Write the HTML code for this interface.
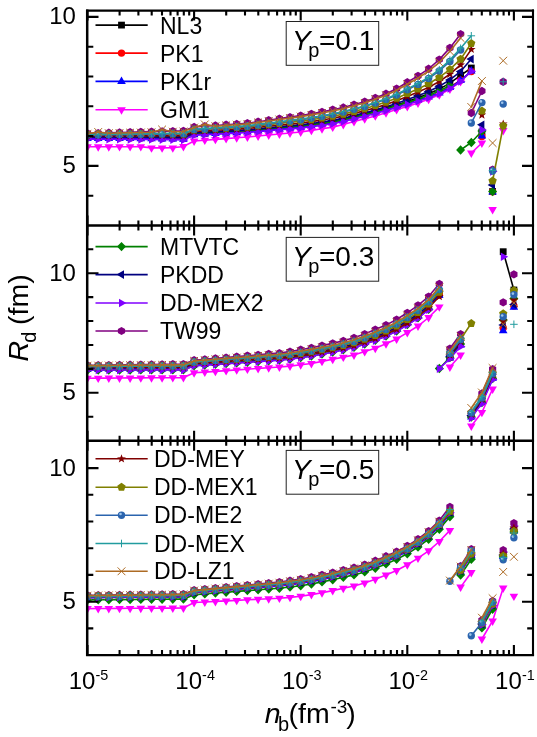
<!DOCTYPE html>
<html lang="en"><head><meta charset="utf-8"><title>R_d vs n_b</title>
<style>html,body{margin:0;padding:0;background:#fff}svg{display:block;will-change:transform}</style></head>
<body>
<svg width="537" height="737" viewBox="0 0 537 737">
<rect width="537" height="737" fill="#fff"/>
<defs>
<clipPath id="c0"><rect x="87.5" y="10.6" width="445.5" height="214.9"/></clipPath>
<clipPath id="c1"><rect x="87.5" y="225.5" width="445.5" height="215.2"/></clipPath>
<clipPath id="c2"><rect x="87.5" y="440.7" width="445.5" height="214.4"/></clipPath>
</defs>
<g clip-path="url(#c0)">
<polyline fill="none" stroke="#000000" stroke-width="1.6" points="87.5,137.3 98.2,137.4 108.8,137.4 119.5,137.4 130.1,137.5 140.8,137.5 151.5,137.6 162.1,137.7 172.8,137.7 183.4,137.8 194.1,133.5 204.8,132.9 215.4,132.4 226.1,131.8 236.7,131.3 247.4,130.7 258.1,129.7 268.7,128.7 279.4,127.8 290.0,126.8 300.7,125.9 311.4,124.5 322.0,123.0 332.7,121.5 343.3,119.2 354.0,116.6 364.7,114.0 375.3,111.2 386.0,108.1 396.6,104.9 407.3,101.4 418.0,97.7 428.6,93.8 439.3,89.1 449.9,83.2 460.6,75.3 471.3,68.0"/>
<rect x="84.1" y="133.9" width="6.8" height="6.8" fill="#000000"/>
<rect x="94.8" y="134.0" width="6.8" height="6.8" fill="#000000"/>
<rect x="105.4" y="134.0" width="6.8" height="6.8" fill="#000000"/>
<rect x="116.1" y="134.0" width="6.8" height="6.8" fill="#000000"/>
<rect x="126.7" y="134.1" width="6.8" height="6.8" fill="#000000"/>
<rect x="137.4" y="134.1" width="6.8" height="6.8" fill="#000000"/>
<rect x="148.1" y="134.2" width="6.8" height="6.8" fill="#000000"/>
<rect x="158.7" y="134.3" width="6.8" height="6.8" fill="#000000"/>
<rect x="169.4" y="134.3" width="6.8" height="6.8" fill="#000000"/>
<rect x="180.0" y="134.4" width="6.8" height="6.8" fill="#000000"/>
<rect x="190.7" y="130.1" width="6.8" height="6.8" fill="#000000"/>
<rect x="201.4" y="129.5" width="6.8" height="6.8" fill="#000000"/>
<rect x="212.0" y="129.0" width="6.8" height="6.8" fill="#000000"/>
<rect x="222.7" y="128.4" width="6.8" height="6.8" fill="#000000"/>
<rect x="233.3" y="127.9" width="6.8" height="6.8" fill="#000000"/>
<rect x="244.0" y="127.3" width="6.8" height="6.8" fill="#000000"/>
<rect x="254.7" y="126.3" width="6.8" height="6.8" fill="#000000"/>
<rect x="265.3" y="125.3" width="6.8" height="6.8" fill="#000000"/>
<rect x="276.0" y="124.4" width="6.8" height="6.8" fill="#000000"/>
<rect x="286.6" y="123.4" width="6.8" height="6.8" fill="#000000"/>
<rect x="297.3" y="122.5" width="6.8" height="6.8" fill="#000000"/>
<rect x="308.0" y="121.1" width="6.8" height="6.8" fill="#000000"/>
<rect x="318.6" y="119.6" width="6.8" height="6.8" fill="#000000"/>
<rect x="329.3" y="118.1" width="6.8" height="6.8" fill="#000000"/>
<rect x="339.9" y="115.8" width="6.8" height="6.8" fill="#000000"/>
<rect x="350.6" y="113.2" width="6.8" height="6.8" fill="#000000"/>
<rect x="361.3" y="110.6" width="6.8" height="6.8" fill="#000000"/>
<rect x="371.9" y="107.8" width="6.8" height="6.8" fill="#000000"/>
<rect x="382.6" y="104.7" width="6.8" height="6.8" fill="#000000"/>
<rect x="393.2" y="101.5" width="6.8" height="6.8" fill="#000000"/>
<rect x="403.9" y="98.0" width="6.8" height="6.8" fill="#000000"/>
<rect x="414.6" y="94.3" width="6.8" height="6.8" fill="#000000"/>
<rect x="425.2" y="90.4" width="6.8" height="6.8" fill="#000000"/>
<rect x="435.9" y="85.7" width="6.8" height="6.8" fill="#000000"/>
<rect x="446.5" y="79.8" width="6.8" height="6.8" fill="#000000"/>
<rect x="457.2" y="71.9" width="6.8" height="6.8" fill="#000000"/>
<rect x="467.9" y="64.6" width="6.8" height="6.8" fill="#000000"/>
<rect x="478.5" y="128.6" width="6.8" height="6.8" fill="#000000"/>
<rect x="489.2" y="188.1" width="6.8" height="6.8" fill="#000000"/>
<polyline fill="none" stroke="#ff0000" stroke-width="1.6" points="87.5,137.6 98.2,137.7 108.8,137.7 119.5,137.8 130.1,137.9 140.8,138.0 151.5,138.1 162.1,138.2 172.8,138.3 183.4,138.4 194.1,134.1 204.8,133.6 215.4,133.0 226.1,132.5 236.7,132.0 247.4,131.5 258.1,130.5 268.7,129.6 279.4,128.7 290.0,127.8 300.7,126.9 311.4,125.6 322.0,124.2 332.7,122.7 343.3,120.5 354.0,118.0 364.7,115.4 375.3,112.7 386.0,109.7 396.6,106.7 407.3,103.5 418.0,100.2 428.6,96.7 439.3,92.4 449.9,87.2 460.6,80.1 471.3,71.5"/>
<circle cx="87.5" cy="137.6" r="3.7" fill="#ff0000"/>
<circle cx="98.2" cy="137.7" r="3.7" fill="#ff0000"/>
<circle cx="108.8" cy="137.7" r="3.7" fill="#ff0000"/>
<circle cx="119.5" cy="137.8" r="3.7" fill="#ff0000"/>
<circle cx="130.1" cy="137.9" r="3.7" fill="#ff0000"/>
<circle cx="140.8" cy="138.0" r="3.7" fill="#ff0000"/>
<circle cx="151.5" cy="138.1" r="3.7" fill="#ff0000"/>
<circle cx="162.1" cy="138.2" r="3.7" fill="#ff0000"/>
<circle cx="172.8" cy="138.3" r="3.7" fill="#ff0000"/>
<circle cx="183.4" cy="138.4" r="3.7" fill="#ff0000"/>
<circle cx="194.1" cy="134.1" r="3.7" fill="#ff0000"/>
<circle cx="204.8" cy="133.6" r="3.7" fill="#ff0000"/>
<circle cx="215.4" cy="133.0" r="3.7" fill="#ff0000"/>
<circle cx="226.1" cy="132.5" r="3.7" fill="#ff0000"/>
<circle cx="236.7" cy="132.0" r="3.7" fill="#ff0000"/>
<circle cx="247.4" cy="131.5" r="3.7" fill="#ff0000"/>
<circle cx="258.1" cy="130.5" r="3.7" fill="#ff0000"/>
<circle cx="268.7" cy="129.6" r="3.7" fill="#ff0000"/>
<circle cx="279.4" cy="128.7" r="3.7" fill="#ff0000"/>
<circle cx="290.0" cy="127.8" r="3.7" fill="#ff0000"/>
<circle cx="300.7" cy="126.9" r="3.7" fill="#ff0000"/>
<circle cx="311.4" cy="125.6" r="3.7" fill="#ff0000"/>
<circle cx="322.0" cy="124.2" r="3.7" fill="#ff0000"/>
<circle cx="332.7" cy="122.7" r="3.7" fill="#ff0000"/>
<circle cx="343.3" cy="120.5" r="3.7" fill="#ff0000"/>
<circle cx="354.0" cy="118.0" r="3.7" fill="#ff0000"/>
<circle cx="364.7" cy="115.4" r="3.7" fill="#ff0000"/>
<circle cx="375.3" cy="112.7" r="3.7" fill="#ff0000"/>
<circle cx="386.0" cy="109.7" r="3.7" fill="#ff0000"/>
<circle cx="396.6" cy="106.7" r="3.7" fill="#ff0000"/>
<circle cx="407.3" cy="103.5" r="3.7" fill="#ff0000"/>
<circle cx="418.0" cy="100.2" r="3.7" fill="#ff0000"/>
<circle cx="428.6" cy="96.7" r="3.7" fill="#ff0000"/>
<circle cx="439.3" cy="92.4" r="3.7" fill="#ff0000"/>
<circle cx="449.9" cy="87.2" r="3.7" fill="#ff0000"/>
<circle cx="460.6" cy="80.1" r="3.7" fill="#ff0000"/>
<circle cx="471.3" cy="71.5" r="3.7" fill="#ff0000"/>
<circle cx="481.9" cy="136.5" r="3.7" fill="#ff0000"/>
<circle cx="492.6" cy="191.8" r="3.7" fill="#ff0000"/>
<polyline fill="none" stroke="#0000ff" stroke-width="1.6" points="87.5,138.4 98.2,138.5 108.8,138.5 119.5,138.6 130.1,138.7 140.8,138.8 151.5,138.9 162.1,139.0 172.8,139.1 183.4,139.2 194.1,134.7 204.8,134.2 215.4,133.6 226.1,133.1 236.7,132.5 247.4,132.0 258.1,131.0 268.7,130.1 279.4,129.2 290.0,128.3 300.7,127.5 311.4,126.1 322.0,124.7 332.7,123.2 343.3,121.0 354.0,118.4 364.7,115.8 375.3,113.1 386.0,110.1 396.6,107.1 407.3,103.9 418.0,100.6 428.6,97.1 439.3,92.9 449.9,87.7 460.6,80.6 471.3,71.0"/>
<polygon points="87.5,133.5 91.8,140.9 83.2,140.9" fill="#0000ff"/>
<polygon points="98.2,133.5 102.5,140.9 93.9,140.9" fill="#0000ff"/>
<polygon points="108.8,133.6 113.1,141.0 104.5,141.0" fill="#0000ff"/>
<polygon points="119.5,133.7 123.8,141.1 115.2,141.1" fill="#0000ff"/>
<polygon points="130.1,133.7 134.4,141.1 125.8,141.1" fill="#0000ff"/>
<polygon points="140.8,133.8 145.1,141.2 136.5,141.2" fill="#0000ff"/>
<polygon points="151.5,133.9 155.8,141.3 147.2,141.3" fill="#0000ff"/>
<polygon points="162.1,134.0 166.4,141.4 157.8,141.4" fill="#0000ff"/>
<polygon points="172.8,134.1 177.1,141.5 168.5,141.5" fill="#0000ff"/>
<polygon points="183.4,134.3 187.7,141.7 179.1,141.7" fill="#0000ff"/>
<polygon points="194.1,129.8 198.4,137.2 189.8,137.2" fill="#0000ff"/>
<polygon points="204.8,129.2 209.1,136.6 200.5,136.6" fill="#0000ff"/>
<polygon points="215.4,128.7 219.7,136.1 211.1,136.1" fill="#0000ff"/>
<polygon points="226.1,128.2 230.4,135.6 221.8,135.6" fill="#0000ff"/>
<polygon points="236.7,127.6 241.0,135.0 232.4,135.0" fill="#0000ff"/>
<polygon points="247.4,127.1 251.7,134.5 243.1,134.5" fill="#0000ff"/>
<polygon points="258.1,126.1 262.4,133.5 253.8,133.5" fill="#0000ff"/>
<polygon points="268.7,125.2 273.0,132.6 264.4,132.6" fill="#0000ff"/>
<polygon points="279.4,124.3 283.7,131.7 275.1,131.7" fill="#0000ff"/>
<polygon points="290.0,123.4 294.3,130.8 285.7,130.8" fill="#0000ff"/>
<polygon points="300.7,122.5 305.0,129.9 296.4,129.9" fill="#0000ff"/>
<polygon points="311.4,121.2 315.7,128.6 307.1,128.6" fill="#0000ff"/>
<polygon points="322.0,119.7 326.3,127.1 317.7,127.1" fill="#0000ff"/>
<polygon points="332.7,118.3 337.0,125.7 328.4,125.7" fill="#0000ff"/>
<polygon points="343.3,116.0 347.6,123.4 339.0,123.4" fill="#0000ff"/>
<polygon points="354.0,113.4 358.3,120.8 349.7,120.8" fill="#0000ff"/>
<polygon points="364.7,110.9 369.0,118.3 360.4,118.3" fill="#0000ff"/>
<polygon points="375.3,108.1 379.6,115.5 371.0,115.5" fill="#0000ff"/>
<polygon points="386.0,105.2 390.3,112.6 381.7,112.6" fill="#0000ff"/>
<polygon points="396.6,102.1 400.9,109.5 392.3,109.5" fill="#0000ff"/>
<polygon points="407.3,99.0 411.6,106.4 403.0,106.4" fill="#0000ff"/>
<polygon points="418.0,95.7 422.3,103.1 413.7,103.1" fill="#0000ff"/>
<polygon points="428.6,92.2 432.9,99.6 424.3,99.6" fill="#0000ff"/>
<polygon points="439.3,88.0 443.6,95.4 435.0,95.4" fill="#0000ff"/>
<polygon points="449.9,82.7 454.2,90.1 445.6,90.1" fill="#0000ff"/>
<polygon points="460.6,75.6 464.9,83.0 456.3,83.0" fill="#0000ff"/>
<polygon points="471.3,66.1 475.6,73.5 467.0,73.5" fill="#0000ff"/>
<polygon points="481.9,131.1 486.2,138.5 477.6,138.5" fill="#0000ff"/>
<polygon points="492.6,187.1 496.9,194.5 488.3,194.5" fill="#0000ff"/>
<polyline fill="none" stroke="#ff00ff" stroke-width="1.6" points="87.5,146.8 98.2,146.8 108.8,146.7 119.5,146.7 130.1,146.7 140.8,146.6 151.5,147.9 162.1,147.9 172.8,147.8 183.4,146.5 194.1,141.0 204.8,140.2 215.4,139.4 226.1,138.6 236.7,137.8 247.4,137.0 258.1,136.0 268.7,135.0 279.4,134.0 290.0,133.0 300.7,132.0 311.4,130.4 322.0,128.8 332.7,127.1 343.3,124.5 354.0,121.6 364.7,118.8 375.3,115.9 386.0,112.8 396.6,109.6 407.3,106.5 418.0,103.0 428.6,99.3 439.3,94.8 449.9,89.2 460.6,81.5"/>
<polygon points="87.5,151.7 91.8,144.3 83.2,144.3" fill="#ff00ff"/>
<polygon points="98.2,151.7 102.5,144.3 93.9,144.3" fill="#ff00ff"/>
<polygon points="108.8,151.7 113.1,144.3 104.5,144.3" fill="#ff00ff"/>
<polygon points="119.5,151.6 123.8,144.2 115.2,144.2" fill="#ff00ff"/>
<polygon points="130.1,151.6 134.4,144.2 125.8,144.2" fill="#ff00ff"/>
<polygon points="140.8,151.6 145.1,144.2 136.5,144.2" fill="#ff00ff"/>
<polygon points="151.5,152.8 155.8,145.4 147.2,145.4" fill="#ff00ff"/>
<polygon points="162.1,152.8 166.4,145.4 157.8,145.4" fill="#ff00ff"/>
<polygon points="172.8,152.8 177.1,145.4 168.5,145.4" fill="#ff00ff"/>
<polygon points="183.4,151.4 187.7,144.0 179.1,144.0" fill="#ff00ff"/>
<polygon points="194.1,145.9 198.4,138.5 189.8,138.5" fill="#ff00ff"/>
<polygon points="204.8,145.1 209.1,137.7 200.5,137.7" fill="#ff00ff"/>
<polygon points="215.4,144.3 219.7,136.9 211.1,136.9" fill="#ff00ff"/>
<polygon points="226.1,143.5 230.4,136.1 221.8,136.1" fill="#ff00ff"/>
<polygon points="236.7,142.7 241.0,135.3 232.4,135.3" fill="#ff00ff"/>
<polygon points="247.4,141.9 251.7,134.5 243.1,134.5" fill="#ff00ff"/>
<polygon points="258.1,140.9 262.4,133.5 253.8,133.5" fill="#ff00ff"/>
<polygon points="268.7,139.9 273.0,132.5 264.4,132.5" fill="#ff00ff"/>
<polygon points="279.4,138.9 283.7,131.5 275.1,131.5" fill="#ff00ff"/>
<polygon points="290.0,137.9 294.3,130.5 285.7,130.5" fill="#ff00ff"/>
<polygon points="300.7,136.9 305.0,129.5 296.4,129.5" fill="#ff00ff"/>
<polygon points="311.4,135.3 315.7,127.9 307.1,127.9" fill="#ff00ff"/>
<polygon points="322.0,133.7 326.3,126.3 317.7,126.3" fill="#ff00ff"/>
<polygon points="332.7,132.1 337.0,124.7 328.4,124.7" fill="#ff00ff"/>
<polygon points="343.3,129.4 347.6,122.0 339.0,122.0" fill="#ff00ff"/>
<polygon points="354.0,126.6 358.3,119.2 349.7,119.2" fill="#ff00ff"/>
<polygon points="364.7,123.7 369.0,116.3 360.4,116.3" fill="#ff00ff"/>
<polygon points="375.3,120.8 379.6,113.4 371.0,113.4" fill="#ff00ff"/>
<polygon points="386.0,117.7 390.3,110.3 381.7,110.3" fill="#ff00ff"/>
<polygon points="396.6,114.6 400.9,107.2 392.3,107.2" fill="#ff00ff"/>
<polygon points="407.3,111.4 411.6,104.0 403.0,104.0" fill="#ff00ff"/>
<polygon points="418.0,107.9 422.3,100.5 413.7,100.5" fill="#ff00ff"/>
<polygon points="428.6,104.2 432.9,96.8 424.3,96.8" fill="#ff00ff"/>
<polygon points="439.3,99.7 443.6,92.3 435.0,92.3" fill="#ff00ff"/>
<polygon points="449.9,94.1 454.2,86.7 445.6,86.7" fill="#ff00ff"/>
<polygon points="460.6,86.4 464.9,79.0 456.3,79.0" fill="#ff00ff"/>
<polyline fill="none" stroke="#ff00ff" stroke-width="1.6" points="471.3,153.0 481.9,143.0"/>
<polygon points="471.3,157.9 475.6,150.5 467.0,150.5" fill="#ff00ff"/>
<polygon points="481.9,147.9 486.2,140.5 477.6,140.5" fill="#ff00ff"/>
<polygon points="492.6,214.4 496.9,207.0 488.3,207.0" fill="#ff00ff"/>
<polygon points="503.2,135.4 507.5,128.0 498.9,128.0" fill="#ff00ff"/>
<polyline fill="none" stroke="#008000" stroke-width="1.6" points="87.5,136.3 98.2,136.3 108.8,136.4 119.5,136.5 130.1,136.5 140.8,136.6 151.5,136.7 162.1,136.9 172.8,137.0 183.4,137.1 194.1,132.9 204.8,132.4 215.4,131.9 226.1,131.4 236.7,130.9 247.4,130.4 258.1,129.5 268.7,128.5 279.4,127.6 290.0,126.7 300.7,125.9 311.4,124.5 322.0,123.1 332.7,121.7 343.3,119.5 354.0,117.0 364.7,114.5 375.3,111.7 386.0,108.7 396.6,105.6 407.3,102.4 418.0,98.9 428.6,95.3 439.3,90.9 449.9,85.5"/>
<polygon points="87.5,131.5 92.0,136.3 87.5,141.0 83.0,136.3" fill="#008000"/>
<polygon points="98.2,131.6 102.7,136.3 98.2,141.0 93.7,136.3" fill="#008000"/>
<polygon points="108.8,131.7 113.3,136.4 108.8,141.1 104.3,136.4" fill="#008000"/>
<polygon points="119.5,131.7 124.0,136.5 119.5,141.2 115.0,136.5" fill="#008000"/>
<polygon points="130.1,131.8 134.6,136.5 130.1,141.3 125.6,136.5" fill="#008000"/>
<polygon points="140.8,131.9 145.3,136.6 140.8,141.4 136.3,136.6" fill="#008000"/>
<polygon points="151.5,132.0 156.0,136.7 151.5,141.5 147.0,136.7" fill="#008000"/>
<polygon points="162.1,132.1 166.6,136.9 162.1,141.6 157.6,136.9" fill="#008000"/>
<polygon points="172.8,132.3 177.3,137.0 172.8,141.7 168.3,137.0" fill="#008000"/>
<polygon points="183.4,132.4 187.9,137.1 183.4,141.8 178.9,137.1" fill="#008000"/>
<polygon points="194.1,128.2 198.6,132.9 194.1,137.6 189.6,132.9" fill="#008000"/>
<polygon points="204.8,127.7 209.3,132.4 204.8,137.2 200.3,132.4" fill="#008000"/>
<polygon points="215.4,127.2 219.9,131.9 215.4,136.7 210.9,131.9" fill="#008000"/>
<polygon points="226.1,126.7 230.6,131.4 226.1,136.2 221.6,131.4" fill="#008000"/>
<polygon points="236.7,126.2 241.2,130.9 236.7,135.7 232.2,130.9" fill="#008000"/>
<polygon points="247.4,125.7 251.9,130.4 247.4,135.2 242.9,130.4" fill="#008000"/>
<polygon points="258.1,124.8 262.6,129.5 258.1,134.2 253.6,129.5" fill="#008000"/>
<polygon points="268.7,123.8 273.2,128.5 268.7,133.3 264.2,128.5" fill="#008000"/>
<polygon points="279.4,122.9 283.9,127.6 279.4,132.4 274.9,127.6" fill="#008000"/>
<polygon points="290.0,122.0 294.5,126.7 290.0,131.5 285.5,126.7" fill="#008000"/>
<polygon points="300.7,121.1 305.2,125.9 300.7,130.6 296.2,125.9" fill="#008000"/>
<polygon points="311.4,119.8 315.9,124.5 311.4,129.3 306.9,124.5" fill="#008000"/>
<polygon points="322.0,118.4 326.5,123.1 322.0,127.9 317.5,123.1" fill="#008000"/>
<polygon points="332.7,116.9 337.2,121.7 332.7,126.4 328.2,121.7" fill="#008000"/>
<polygon points="343.3,114.8 347.8,119.5 343.3,124.2 338.8,119.5" fill="#008000"/>
<polygon points="354.0,112.3 358.5,117.0 354.0,121.7 349.5,117.0" fill="#008000"/>
<polygon points="364.7,109.7 369.2,114.5 364.7,119.2 360.2,114.5" fill="#008000"/>
<polygon points="375.3,107.0 379.8,111.7 375.3,116.4 370.8,111.7" fill="#008000"/>
<polygon points="386.0,104.0 390.5,108.7 386.0,113.5 381.5,108.7" fill="#008000"/>
<polygon points="396.6,100.9 401.1,105.6 396.6,110.3 392.1,105.6" fill="#008000"/>
<polygon points="407.3,97.6 411.8,102.4 407.3,107.1 402.8,102.4" fill="#008000"/>
<polygon points="418.0,94.2 422.5,98.9 418.0,103.6 413.5,98.9" fill="#008000"/>
<polygon points="428.6,90.6 433.1,95.3 428.6,100.0 424.1,95.3" fill="#008000"/>
<polygon points="439.3,86.2 443.8,90.9 439.3,95.6 434.8,90.9" fill="#008000"/>
<polygon points="449.9,80.7 454.4,85.5 449.9,90.2 445.4,85.5" fill="#008000"/>
<polyline fill="none" stroke="#008000" stroke-width="1.6" points="460.6,150.0 471.3,142.5 481.9,131.0"/>
<polygon points="460.6,145.3 465.1,150.0 460.6,154.7 456.1,150.0" fill="#008000"/>
<polygon points="471.3,137.8 475.8,142.5 471.3,147.2 466.8,142.5" fill="#008000"/>
<polygon points="481.9,126.3 486.4,131.0 481.9,135.7 477.4,131.0" fill="#008000"/>
<polygon points="492.6,186.8 497.1,191.5 492.6,196.2 488.1,191.5" fill="#008000"/>
<polyline fill="none" stroke="#000080" stroke-width="1.6" points="87.5,136.9 98.2,136.9 108.8,136.9 119.5,136.9 130.1,137.0 140.8,137.0 151.5,137.0 162.1,137.0 172.8,137.1 183.4,137.1 194.1,132.9 204.8,132.3 215.4,131.7 226.1,131.1 236.7,130.6 247.4,130.0 258.1,129.0 268.7,127.9 279.4,126.9 290.0,125.9 300.7,124.9 311.4,123.5 322.0,122.0 332.7,120.4 343.3,118.2 354.0,115.5 364.7,112.9 375.3,110.0 386.0,106.8 396.6,103.4 407.3,99.6 418.0,95.7 428.6,91.5 439.3,86.3 449.9,79.9 460.6,71.5 471.3,59.1"/>
<polygon points="82.6,136.9 90.0,132.6 90.0,141.2" fill="#000080"/>
<polygon points="93.2,136.9 100.6,132.6 100.6,141.2" fill="#000080"/>
<polygon points="103.9,136.9 111.3,132.6 111.3,141.2" fill="#000080"/>
<polygon points="114.5,136.9 121.9,132.6 121.9,141.2" fill="#000080"/>
<polygon points="125.2,137.0 132.6,132.7 132.6,141.3" fill="#000080"/>
<polygon points="135.9,137.0 143.3,132.7 143.3,141.3" fill="#000080"/>
<polygon points="146.5,137.0 153.9,132.7 153.9,141.3" fill="#000080"/>
<polygon points="157.2,137.0 164.6,132.7 164.6,141.3" fill="#000080"/>
<polygon points="167.8,137.1 175.2,132.8 175.2,141.4" fill="#000080"/>
<polygon points="178.5,137.1 185.9,132.8 185.9,141.4" fill="#000080"/>
<polygon points="189.2,132.9 196.6,128.6 196.6,137.2" fill="#000080"/>
<polygon points="199.8,132.3 207.2,128.0 207.2,136.6" fill="#000080"/>
<polygon points="210.5,131.7 217.9,127.4 217.9,136.0" fill="#000080"/>
<polygon points="221.1,131.1 228.5,126.8 228.5,135.4" fill="#000080"/>
<polygon points="231.8,130.6 239.2,126.3 239.2,134.9" fill="#000080"/>
<polygon points="242.5,130.0 249.9,125.7 249.9,134.3" fill="#000080"/>
<polygon points="253.1,129.0 260.5,124.7 260.5,133.3" fill="#000080"/>
<polygon points="263.8,127.9 271.2,123.6 271.2,132.2" fill="#000080"/>
<polygon points="274.4,126.9 281.8,122.6 281.8,131.2" fill="#000080"/>
<polygon points="285.1,125.9 292.5,121.6 292.5,130.2" fill="#000080"/>
<polygon points="295.8,124.9 303.2,120.6 303.2,129.2" fill="#000080"/>
<polygon points="306.4,123.5 313.8,119.2 313.8,127.8" fill="#000080"/>
<polygon points="317.1,122.0 324.5,117.7 324.5,126.3" fill="#000080"/>
<polygon points="327.7,120.4 335.1,116.1 335.1,124.7" fill="#000080"/>
<polygon points="338.4,118.2 345.8,113.9 345.8,122.5" fill="#000080"/>
<polygon points="349.1,115.5 356.5,111.2 356.5,119.8" fill="#000080"/>
<polygon points="359.7,112.9 367.1,108.6 367.1,117.2" fill="#000080"/>
<polygon points="370.4,110.0 377.8,105.7 377.8,114.3" fill="#000080"/>
<polygon points="381.0,106.8 388.4,102.5 388.4,111.1" fill="#000080"/>
<polygon points="391.7,103.4 399.1,99.1 399.1,107.7" fill="#000080"/>
<polygon points="402.4,99.6 409.8,95.3 409.8,103.9" fill="#000080"/>
<polygon points="413.0,95.7 420.4,91.4 420.4,100.0" fill="#000080"/>
<polygon points="423.7,91.5 431.1,87.2 431.1,95.8" fill="#000080"/>
<polygon points="434.3,86.3 441.7,82.0 441.7,90.6" fill="#000080"/>
<polygon points="445.0,79.9 452.4,75.6 452.4,84.2" fill="#000080"/>
<polygon points="455.7,71.5 463.1,67.2 463.1,75.8" fill="#000080"/>
<polygon points="466.3,59.1 473.7,54.8 473.7,63.4" fill="#000080"/>
<polygon points="477.0,124.8 484.4,120.5 484.4,129.1" fill="#000080"/>
<polygon points="487.6,185.0 495.0,180.7 495.0,189.3" fill="#000080"/>
<polyline fill="none" stroke="#8000ff" stroke-width="1.6" points="87.5,139.1 98.2,139.2 108.8,139.2 119.5,139.3 130.1,139.4 140.8,139.4 151.5,139.5 162.1,139.6 172.8,139.7 183.4,139.9 194.1,135.3 204.8,134.7 215.4,134.2 226.1,133.6 236.7,133.1 247.4,132.5 258.1,131.6 268.7,130.6 279.4,129.7 290.0,128.9 300.7,128.0 311.4,126.6 322.0,125.2 332.7,123.7 343.3,121.5 354.0,118.9 364.7,116.3 375.3,113.6 386.0,110.6 396.6,107.6 407.3,104.5 418.0,101.2 428.6,97.8 439.3,93.7 449.9,88.5 460.6,81.5 471.3,71.2"/>
<polygon points="92.4,139.1 85.0,134.8 85.0,143.4" fill="#8000ff"/>
<polygon points="103.1,139.2 95.7,134.9 95.7,143.5" fill="#8000ff"/>
<polygon points="113.8,139.2 106.4,134.9 106.4,143.5" fill="#8000ff"/>
<polygon points="124.4,139.3 117.0,135.0 117.0,143.6" fill="#8000ff"/>
<polygon points="135.1,139.4 127.7,135.1 127.7,143.7" fill="#8000ff"/>
<polygon points="145.7,139.4 138.3,135.1 138.3,143.7" fill="#8000ff"/>
<polygon points="156.4,139.5 149.0,135.2 149.0,143.8" fill="#8000ff"/>
<polygon points="167.1,139.6 159.7,135.3 159.7,143.9" fill="#8000ff"/>
<polygon points="177.7,139.7 170.3,135.4 170.3,144.0" fill="#8000ff"/>
<polygon points="188.4,139.9 181.0,135.6 181.0,144.2" fill="#8000ff"/>
<polygon points="199.0,135.3 191.6,131.0 191.6,139.6" fill="#8000ff"/>
<polygon points="209.7,134.7 202.3,130.4 202.3,139.0" fill="#8000ff"/>
<polygon points="220.4,134.2 213.0,129.9 213.0,138.5" fill="#8000ff"/>
<polygon points="231.0,133.6 223.6,129.3 223.6,137.9" fill="#8000ff"/>
<polygon points="241.7,133.1 234.3,128.8 234.3,137.4" fill="#8000ff"/>
<polygon points="252.3,132.5 244.9,128.2 244.9,136.8" fill="#8000ff"/>
<polygon points="263.0,131.6 255.6,127.3 255.6,135.9" fill="#8000ff"/>
<polygon points="273.7,130.6 266.3,126.3 266.3,134.9" fill="#8000ff"/>
<polygon points="284.3,129.7 276.9,125.4 276.9,134.0" fill="#8000ff"/>
<polygon points="295.0,128.9 287.6,124.6 287.6,133.2" fill="#8000ff"/>
<polygon points="305.6,128.0 298.2,123.7 298.2,132.3" fill="#8000ff"/>
<polygon points="316.3,126.6 308.9,122.3 308.9,130.9" fill="#8000ff"/>
<polygon points="327.0,125.2 319.6,120.9 319.6,129.5" fill="#8000ff"/>
<polygon points="337.6,123.7 330.2,119.4 330.2,128.0" fill="#8000ff"/>
<polygon points="348.3,121.5 340.9,117.2 340.9,125.8" fill="#8000ff"/>
<polygon points="358.9,118.9 351.5,114.6 351.5,123.2" fill="#8000ff"/>
<polygon points="369.6,116.3 362.2,112.0 362.2,120.6" fill="#8000ff"/>
<polygon points="380.3,113.6 372.9,109.3 372.9,117.9" fill="#8000ff"/>
<polygon points="390.9,110.6 383.5,106.3 383.5,114.9" fill="#8000ff"/>
<polygon points="401.6,107.6 394.2,103.3 394.2,111.9" fill="#8000ff"/>
<polygon points="412.2,104.5 404.8,100.2 404.8,108.8" fill="#8000ff"/>
<polygon points="422.9,101.2 415.5,96.9 415.5,105.5" fill="#8000ff"/>
<polygon points="433.6,97.8 426.2,93.5 426.2,102.1" fill="#8000ff"/>
<polygon points="444.2,93.7 436.8,89.4 436.8,98.0" fill="#8000ff"/>
<polygon points="454.9,88.5 447.5,84.2 447.5,92.8" fill="#8000ff"/>
<polygon points="465.5,81.5 458.1,77.2 458.1,85.8" fill="#8000ff"/>
<polygon points="476.2,71.2 468.8,66.9 468.8,75.5" fill="#8000ff"/>
<polygon points="486.9,130.0 479.5,125.7 479.5,134.3" fill="#8000ff"/>
<polygon points="497.5,171.5 490.1,167.2 490.1,175.8" fill="#8000ff"/>
<polyline fill="none" stroke="#800080" stroke-width="1.6" points="87.5,133.3 98.2,133.0 108.8,132.7 119.5,132.5 130.1,132.2 140.8,131.9 151.5,131.6 162.1,131.4 172.8,131.1 183.4,130.8 194.1,127.0 204.8,126.2 215.4,125.5 226.1,124.7 236.7,124.0 247.4,123.2 258.1,121.7 268.7,120.2 279.4,118.6 290.0,117.1 300.7,115.6 311.4,113.9 322.0,111.9 332.7,109.7 343.3,107.5 354.0,104.6 364.7,101.7 375.3,97.9 386.0,93.8 396.6,88.7 407.3,82.3 418.0,75.9 428.6,68.8 439.3,59.5 449.9,47.9 460.6,34.0"/>
<polygon points="87.5,137.5 83.9,135.4 83.9,131.2 87.5,129.2 91.1,131.2 91.1,135.4" fill="#800080"/>
<polygon points="98.2,137.2 94.6,135.1 94.6,130.9 98.2,128.9 101.8,130.9 101.8,135.1" fill="#800080"/>
<polygon points="108.8,136.9 105.2,134.8 105.2,130.7 108.8,128.6 112.4,130.7 112.4,134.8" fill="#800080"/>
<polygon points="119.5,136.6 115.9,134.5 115.9,130.4 119.5,128.3 123.1,130.4 123.1,134.5" fill="#800080"/>
<polygon points="130.1,136.3 126.5,134.3 126.5,130.1 130.1,128.0 133.7,130.1 133.7,134.3" fill="#800080"/>
<polygon points="140.8,136.1 137.2,134.0 137.2,129.8 140.8,127.8 144.4,129.8 144.4,134.0" fill="#800080"/>
<polygon points="151.5,135.8 147.9,133.7 147.9,129.6 151.5,127.5 155.1,129.6 155.1,133.7" fill="#800080"/>
<polygon points="162.1,135.5 158.5,133.4 158.5,129.3 162.1,127.2 165.7,129.3 165.7,133.4" fill="#800080"/>
<polygon points="172.8,135.2 169.2,133.2 169.2,129.0 172.8,126.9 176.4,129.0 176.4,133.2" fill="#800080"/>
<polygon points="183.4,135.0 179.8,132.9 179.8,128.7 183.4,126.7 187.0,128.7 187.0,132.9" fill="#800080"/>
<polygon points="194.1,131.2 190.5,129.1 190.5,124.9 194.1,122.8 197.7,124.9 197.7,129.1" fill="#800080"/>
<polygon points="204.8,130.4 201.2,128.3 201.2,124.2 204.8,122.1 208.4,124.2 208.4,128.3" fill="#800080"/>
<polygon points="215.4,129.6 211.8,127.6 211.8,123.4 215.4,121.3 219.0,123.4 219.0,127.6" fill="#800080"/>
<polygon points="226.1,128.9 222.5,126.8 222.5,122.6 226.1,120.6 229.7,122.6 229.7,126.8" fill="#800080"/>
<polygon points="236.7,128.1 233.1,126.0 233.1,121.9 236.7,119.8 240.3,121.9 240.3,126.0" fill="#800080"/>
<polygon points="247.4,127.4 243.8,125.3 243.8,121.1 247.4,119.0 251.0,121.1 251.0,125.3" fill="#800080"/>
<polygon points="258.1,125.8 254.5,123.8 254.5,119.6 258.1,117.5 261.7,119.6 261.7,123.8" fill="#800080"/>
<polygon points="268.7,124.3 265.1,122.2 265.1,118.1 268.7,116.0 272.3,118.1 272.3,122.2" fill="#800080"/>
<polygon points="279.4,122.8 275.8,120.7 275.8,116.6 279.4,114.5 283.0,116.6 283.0,120.7" fill="#800080"/>
<polygon points="290.0,121.3 286.4,119.2 286.4,115.0 290.0,113.0 293.6,115.0 293.6,119.2" fill="#800080"/>
<polygon points="300.7,119.8 297.1,117.7 297.1,113.5 300.7,111.4 304.3,113.5 304.3,117.7" fill="#800080"/>
<polygon points="311.4,118.1 307.8,116.0 307.8,111.8 311.4,109.8 315.0,111.8 315.0,116.0" fill="#800080"/>
<polygon points="322.0,116.1 318.4,114.0 318.4,109.8 322.0,107.8 325.6,109.8 325.6,114.0" fill="#800080"/>
<polygon points="332.7,113.9 329.1,111.8 329.1,107.6 332.7,105.5 336.3,107.6 336.3,111.8" fill="#800080"/>
<polygon points="343.3,111.7 339.7,109.6 339.7,105.4 343.3,103.3 346.9,105.4 346.9,109.6" fill="#800080"/>
<polygon points="354.0,108.8 350.4,106.7 350.4,102.5 354.0,100.4 357.6,102.5 357.6,106.7" fill="#800080"/>
<polygon points="364.7,105.9 361.1,103.8 361.1,99.6 364.7,97.5 368.3,99.6 368.3,103.8" fill="#800080"/>
<polygon points="375.3,102.1 371.7,100.0 371.7,95.8 375.3,93.8 378.9,95.8 378.9,100.0" fill="#800080"/>
<polygon points="386.0,98.0 382.4,95.9 382.4,91.7 386.0,89.6 389.6,91.7 389.6,95.9" fill="#800080"/>
<polygon points="396.6,92.9 393.0,90.8 393.0,86.6 396.6,84.5 400.2,86.6 400.2,90.8" fill="#800080"/>
<polygon points="407.3,86.5 403.7,84.4 403.7,80.2 407.3,78.1 410.9,80.2 410.9,84.4" fill="#800080"/>
<polygon points="418.0,80.1 414.4,78.0 414.4,73.8 418.0,71.8 421.6,73.8 421.6,78.0" fill="#800080"/>
<polygon points="428.6,73.0 425.0,70.9 425.0,66.7 428.6,64.6 432.2,66.7 432.2,70.9" fill="#800080"/>
<polygon points="439.3,63.6 435.7,61.6 435.7,57.4 439.3,55.4 442.9,57.4 442.9,61.6" fill="#800080"/>
<polygon points="449.9,52.0 446.3,50.0 446.3,45.8 449.9,43.8 453.5,45.8 453.5,50.0" fill="#800080"/>
<polygon points="460.6,38.1 457.0,36.1 457.0,31.9 460.6,29.9 464.2,31.9 464.2,36.1" fill="#800080"/>
<polyline fill="none" stroke="#800080" stroke-width="1.6" points="471.3,113.0 481.9,91.0"/>
<polygon points="471.3,117.2 467.7,115.1 467.7,110.9 471.3,108.8 474.9,110.9 474.9,115.1" fill="#800080"/>
<polygon points="481.9,95.2 478.3,93.1 478.3,88.9 481.9,86.8 485.5,88.9 485.5,93.1" fill="#800080"/>
<polygon points="492.6,173.8 489.0,171.7 489.0,167.5 492.6,165.4 496.2,167.5 496.2,171.7" fill="#800080"/>
<polygon points="503.2,86.0 499.6,83.9 499.6,79.7 503.2,77.6 506.8,79.7 506.8,83.9" fill="#800080"/>
<polyline fill="none" stroke="#800000" stroke-width="1.6" points="87.5,135.9 98.2,135.8 108.8,135.8 119.5,135.7 130.1,135.7 140.8,135.7 151.5,135.7 162.1,135.6 172.8,135.6 183.4,135.6 194.1,131.5 204.8,130.9 215.4,130.3 226.1,129.7 236.7,129.1 247.4,128.5 258.1,127.4 268.7,126.3 279.4,125.2 290.0,124.1 300.7,123.0 311.4,121.6 322.0,120.0 332.7,118.3 343.3,116.1 354.0,113.4 364.7,110.8 375.3,107.7 386.0,104.4 396.6,100.7 407.3,96.4 418.0,92.1 428.6,87.4 439.3,81.5 449.9,74.2 460.6,64.9 471.3,49.4"/>
<polygon points="87.5,131.3 88.6,134.3 91.9,134.4 89.3,136.5 90.2,139.6 87.5,137.8 84.8,139.6 85.7,136.5 83.1,134.4 86.4,134.3" fill="#800000"/>
<polygon points="98.2,131.2 99.3,134.3 102.5,134.4 100.0,136.4 100.9,139.5 98.2,137.7 95.5,139.5 96.4,136.4 93.8,134.4 97.0,134.3" fill="#800000"/>
<polygon points="108.8,131.2 109.9,134.2 113.2,134.3 110.6,136.4 111.5,139.5 108.8,137.7 106.1,139.5 107.0,136.4 104.4,134.3 107.7,134.2" fill="#800000"/>
<polygon points="119.5,131.1 120.6,134.2 123.9,134.3 121.3,136.3 122.2,139.5 119.5,137.6 116.8,139.5 117.7,136.3 115.1,134.3 118.4,134.2" fill="#800000"/>
<polygon points="130.1,131.1 131.3,134.2 134.5,134.3 131.9,136.3 132.8,139.4 130.1,137.6 127.4,139.4 128.3,136.3 125.8,134.3 129.0,134.2" fill="#800000"/>
<polygon points="140.8,131.1 141.9,134.1 145.2,134.3 142.6,136.3 143.5,139.4 140.8,137.6 138.1,139.4 139.0,136.3 136.4,134.3 139.7,134.1" fill="#800000"/>
<polygon points="151.5,131.1 152.6,134.1 155.8,134.2 153.3,136.2 154.2,139.4 151.5,137.6 148.8,139.4 149.7,136.2 147.1,134.2 150.3,134.1" fill="#800000"/>
<polygon points="162.1,131.0 163.2,134.1 166.5,134.2 163.9,136.2 164.8,139.4 162.1,137.5 159.4,139.4 160.3,136.2 157.7,134.2 161.0,134.1" fill="#800000"/>
<polygon points="172.8,131.0 173.9,134.1 177.2,134.2 174.6,136.2 175.5,139.4 172.8,137.5 170.1,139.4 171.0,136.2 168.4,134.2 171.7,134.1" fill="#800000"/>
<polygon points="183.4,131.0 184.6,134.1 187.8,134.2 185.2,136.2 186.1,139.4 183.4,137.5 180.7,139.4 181.6,136.2 179.1,134.2 182.3,134.1" fill="#800000"/>
<polygon points="194.1,126.9 195.2,130.0 198.5,130.1 195.9,132.1 196.8,135.2 194.1,133.4 191.4,135.2 192.3,132.1 189.7,130.1 193.0,130.0" fill="#800000"/>
<polygon points="204.8,126.3 205.9,129.4 209.1,129.5 206.6,131.5 207.5,134.6 204.8,132.8 202.1,134.6 203.0,131.5 200.4,129.5 203.6,129.4" fill="#800000"/>
<polygon points="215.4,125.7 216.5,128.8 219.8,128.9 217.2,130.9 218.1,134.0 215.4,132.2 212.7,134.0 213.6,130.9 211.0,128.9 214.3,128.8" fill="#800000"/>
<polygon points="226.1,125.1 227.2,128.2 230.5,128.3 227.9,130.3 228.8,133.5 226.1,131.6 223.4,133.5 224.3,130.3 221.7,128.3 225.0,128.2" fill="#800000"/>
<polygon points="236.7,124.5 237.9,127.6 241.1,127.7 238.5,129.7 239.4,132.9 236.7,131.0 234.0,132.9 234.9,129.7 232.4,127.7 235.6,127.6" fill="#800000"/>
<polygon points="247.4,123.9 248.5,127.0 251.8,127.1 249.2,129.1 250.1,132.3 247.4,130.4 244.7,132.3 245.6,129.1 243.0,127.1 246.3,127.0" fill="#800000"/>
<polygon points="258.1,122.8 259.2,125.9 262.4,126.0 259.9,128.0 260.8,131.1 258.1,129.3 255.4,131.1 256.3,128.0 253.7,126.0 256.9,125.9" fill="#800000"/>
<polygon points="268.7,121.7 269.8,124.8 273.1,124.9 270.5,126.9 271.4,130.0 268.7,128.2 266.0,130.0 266.9,126.9 264.3,124.9 267.6,124.8" fill="#800000"/>
<polygon points="279.4,120.6 280.5,123.7 283.8,123.8 281.2,125.8 282.1,128.9 279.4,127.1 276.7,128.9 277.6,125.8 275.0,123.8 278.3,123.7" fill="#800000"/>
<polygon points="290.0,119.5 291.2,122.6 294.4,122.7 291.8,124.7 292.7,127.8 290.0,126.0 287.3,127.8 288.2,124.7 285.7,122.7 288.9,122.6" fill="#800000"/>
<polygon points="300.7,118.4 301.8,121.5 305.1,121.6 302.5,123.6 303.4,126.7 300.7,124.9 298.0,126.7 298.9,123.6 296.3,121.6 299.6,121.5" fill="#800000"/>
<polygon points="311.4,117.0 312.5,120.0 315.7,120.2 313.2,122.2 314.1,125.3 311.4,123.5 308.7,125.3 309.6,122.2 307.0,120.2 310.2,120.0" fill="#800000"/>
<polygon points="322.0,115.4 323.1,118.4 326.4,118.6 323.8,120.6 324.7,123.7 322.0,121.9 319.3,123.7 320.2,120.6 317.6,118.6 320.9,118.4" fill="#800000"/>
<polygon points="332.7,113.7 333.8,116.7 337.1,116.9 334.5,118.9 335.4,122.0 332.7,120.2 330.0,122.0 330.9,118.9 328.3,116.9 331.6,116.7" fill="#800000"/>
<polygon points="343.3,111.5 344.5,114.6 347.7,114.7 345.1,116.7 346.0,119.8 343.3,118.0 340.6,119.8 341.5,116.7 339.0,114.7 342.2,114.6" fill="#800000"/>
<polygon points="354.0,108.8 355.1,111.9 358.4,112.0 355.8,114.0 356.7,117.2 354.0,115.3 351.3,117.2 352.2,114.0 349.6,112.0 352.9,111.9" fill="#800000"/>
<polygon points="364.7,106.2 365.8,109.2 369.0,109.4 366.5,111.4 367.4,114.5 364.7,112.7 362.0,114.5 362.9,111.4 360.3,109.4 363.5,109.2" fill="#800000"/>
<polygon points="375.3,103.1 376.4,106.2 379.7,106.3 377.1,108.3 378.0,111.4 375.3,109.6 372.6,111.4 373.5,108.3 370.9,106.3 374.2,106.2" fill="#800000"/>
<polygon points="386.0,99.8 387.1,102.8 390.4,103.0 387.8,105.0 388.7,108.1 386.0,106.3 383.3,108.1 384.2,105.0 381.6,103.0 384.9,102.8" fill="#800000"/>
<polygon points="396.6,96.1 397.8,99.1 401.0,99.2 398.4,101.2 399.3,104.4 396.6,102.6 393.9,104.4 394.8,101.2 392.3,99.2 395.5,99.1" fill="#800000"/>
<polygon points="407.3,91.8 408.4,94.9 411.7,95.0 409.1,97.0 410.0,100.2 407.3,98.3 404.6,100.2 405.5,97.0 402.9,95.0 406.2,94.9" fill="#800000"/>
<polygon points="418.0,87.5 419.1,90.6 422.3,90.7 419.8,92.7 420.7,95.8 418.0,94.0 415.3,95.8 416.2,92.7 413.6,90.7 416.8,90.6" fill="#800000"/>
<polygon points="428.6,82.8 429.7,85.9 433.0,86.0 430.4,88.0 431.3,91.1 428.6,89.3 425.9,91.1 426.8,88.0 424.2,86.0 427.5,85.9" fill="#800000"/>
<polygon points="439.3,76.9 440.4,80.0 443.7,80.1 441.1,82.1 442.0,85.2 439.3,83.4 436.6,85.2 437.5,82.1 434.9,80.1 438.2,80.0" fill="#800000"/>
<polygon points="449.9,69.6 451.1,72.7 454.3,72.8 451.7,74.8 452.6,77.9 449.9,76.1 447.2,77.9 448.1,74.8 445.6,72.8 448.8,72.7" fill="#800000"/>
<polygon points="460.6,60.3 461.7,63.3 465.0,63.5 462.4,65.5 463.3,68.6 460.6,66.8 457.9,68.6 458.8,65.5 456.2,63.5 459.5,63.3" fill="#800000"/>
<polygon points="471.3,44.8 472.4,47.9 475.6,48.0 473.1,50.0 474.0,53.1 471.3,51.3 468.6,53.1 469.5,50.0 466.9,48.0 470.1,47.9" fill="#800000"/>
<polygon points="481.9,110.4 483.0,113.5 486.3,113.6 483.7,115.6 484.6,118.7 481.9,116.9 479.2,118.7 480.1,115.6 477.5,113.6 480.8,113.5" fill="#800000"/>
<polygon points="503.2,119.4 504.4,122.5 507.6,122.6 505.0,124.6 505.9,127.7 503.2,125.9 500.5,127.7 501.4,124.6 498.9,122.6 502.1,122.5" fill="#800000"/>
<polyline fill="none" stroke="#808000" stroke-width="1.6" points="87.5,134.4 98.2,134.3 108.8,134.2 119.5,134.2 130.1,134.1 140.8,134.0 151.5,134.0 162.1,133.9 172.8,133.9 183.4,133.9 194.1,129.9 204.8,129.3 215.4,128.7 226.1,128.2 236.7,127.6 247.4,127.0 258.1,125.8 268.7,124.6 279.4,123.4 290.0,122.3 300.7,121.1 311.4,119.7 322.0,118.0 332.7,116.2 343.3,114.1 354.0,111.4 364.7,108.8 375.3,105.6 386.0,102.1 396.6,98.2 407.3,93.6 418.0,88.9 428.6,83.8 439.3,77.3 449.9,69.3 460.6,59.2 471.3,43.3"/>
<polygon points="87.5,130.0 91.7,133.0 90.1,137.9 84.9,137.9 83.3,133.0" fill="#808000"/>
<polygon points="98.2,129.9 102.3,132.9 100.7,137.9 95.6,137.9 94.0,132.9" fill="#808000"/>
<polygon points="108.8,129.8 113.0,132.9 111.4,137.8 106.2,137.8 104.6,132.9" fill="#808000"/>
<polygon points="119.5,129.8 123.7,132.8 122.1,137.7 116.9,137.7 115.3,132.8" fill="#808000"/>
<polygon points="130.1,129.7 134.3,132.7 132.7,137.7 127.6,137.7 126.0,132.7" fill="#808000"/>
<polygon points="140.8,129.6 145.0,132.7 143.4,137.6 138.2,137.6 136.6,132.7" fill="#808000"/>
<polygon points="151.5,129.6 155.6,132.6 154.0,137.5 148.9,137.5 147.3,132.6" fill="#808000"/>
<polygon points="162.1,129.5 166.3,132.6 164.7,137.5 159.5,137.5 157.9,132.6" fill="#808000"/>
<polygon points="172.8,129.5 177.0,132.5 175.4,137.5 170.2,137.5 168.6,132.5" fill="#808000"/>
<polygon points="183.4,129.5 187.6,132.5 186.0,137.4 180.9,137.4 179.3,132.5" fill="#808000"/>
<polygon points="194.1,125.5 198.3,128.6 196.7,133.5 191.5,133.5 189.9,128.6" fill="#808000"/>
<polygon points="204.8,124.9 208.9,128.0 207.3,132.9 202.2,132.9 200.6,128.0" fill="#808000"/>
<polygon points="215.4,124.3 219.6,127.4 218.0,132.3 212.8,132.3 211.2,127.4" fill="#808000"/>
<polygon points="226.1,123.8 230.3,126.8 228.7,131.7 223.5,131.7 221.9,126.8" fill="#808000"/>
<polygon points="236.7,123.2 240.9,126.2 239.3,131.1 234.2,131.1 232.6,126.2" fill="#808000"/>
<polygon points="247.4,122.6 251.6,125.6 250.0,130.5 244.8,130.5 243.2,125.6" fill="#808000"/>
<polygon points="258.1,121.4 262.2,124.4 260.6,129.3 255.5,129.3 253.9,124.4" fill="#808000"/>
<polygon points="268.7,120.2 272.9,123.2 271.3,128.2 266.1,128.2 264.5,123.2" fill="#808000"/>
<polygon points="279.4,119.0 283.6,122.1 282.0,127.0 276.8,127.0 275.2,122.1" fill="#808000"/>
<polygon points="290.0,117.9 294.2,120.9 292.6,125.8 287.5,125.8 285.9,120.9" fill="#808000"/>
<polygon points="300.7,116.7 304.9,119.8 303.3,124.7 298.1,124.7 296.5,119.8" fill="#808000"/>
<polygon points="311.4,115.3 315.5,118.3 313.9,123.2 308.8,123.2 307.2,118.3" fill="#808000"/>
<polygon points="322.0,113.6 326.2,116.7 324.6,121.6 319.4,121.6 317.8,116.7" fill="#808000"/>
<polygon points="332.7,111.8 336.9,114.9 335.3,119.8 330.1,119.8 328.5,114.9" fill="#808000"/>
<polygon points="343.3,109.7 347.5,112.7 345.9,117.7 340.8,117.7 339.2,112.7" fill="#808000"/>
<polygon points="354.0,107.0 358.2,110.1 356.6,115.0 351.4,115.0 349.8,110.1" fill="#808000"/>
<polygon points="364.7,104.4 368.8,107.4 367.2,112.3 362.1,112.3 360.5,107.4" fill="#808000"/>
<polygon points="375.3,101.2 379.5,104.2 377.9,109.1 372.7,109.1 371.1,104.2" fill="#808000"/>
<polygon points="386.0,97.7 390.2,100.8 388.6,105.7 383.4,105.7 381.8,100.8" fill="#808000"/>
<polygon points="396.6,93.8 400.8,96.8 399.2,101.7 394.1,101.7 392.5,96.8" fill="#808000"/>
<polygon points="407.3,89.2 411.5,92.2 409.9,97.1 404.7,97.1 403.1,92.2" fill="#808000"/>
<polygon points="418.0,84.5 422.1,87.5 420.5,92.4 415.4,92.4 413.8,87.5" fill="#808000"/>
<polygon points="428.6,79.4 432.8,82.4 431.2,87.3 426.0,87.3 424.4,82.4" fill="#808000"/>
<polygon points="439.3,72.9 443.5,75.9 441.9,80.9 436.7,80.9 435.1,75.9" fill="#808000"/>
<polygon points="449.9,64.9 454.1,67.9 452.5,72.8 447.4,72.8 445.8,67.9" fill="#808000"/>
<polygon points="460.6,54.8 464.8,57.8 463.2,62.7 458.0,62.7 456.4,57.8" fill="#808000"/>
<polygon points="471.3,38.9 475.4,41.9 473.8,46.9 468.7,46.9 467.1,41.9" fill="#808000"/>
<polygon points="481.9,106.6 486.1,109.6 484.5,114.6 479.3,114.6 477.7,109.6" fill="#808000"/>
<polyline fill="none" stroke="#808000" stroke-width="1.6" points="492.6,181.0 503.2,126.0"/>
<polygon points="492.6,176.6 496.8,179.6 495.2,184.6 490.0,184.6 488.4,179.6" fill="#808000"/>
<polygon points="503.2,121.6 507.4,124.6 505.8,129.6 500.7,129.6 499.1,124.6" fill="#808000"/>
<polyline fill="none" stroke="#2b64ae" stroke-width="1.6" points="87.5,135.1 98.2,134.9 108.8,134.7 119.5,134.6 130.1,134.4 140.8,134.3 151.5,134.1 162.1,134.0 172.8,133.8 183.4,133.7 194.1,129.6 204.8,129.0 215.4,128.3 226.1,127.6 236.7,126.9 247.4,126.2 258.1,124.9 268.7,123.6 279.4,122.3 290.0,121.0 300.7,119.7 311.4,118.1 322.0,116.3 332.7,114.3 343.3,112.1 354.0,109.3 364.7,106.5 375.3,103.1 386.0,99.4 396.6,95.0 407.3,89.7 418.0,84.4 428.6,78.5 439.3,70.9 449.9,61.5 460.6,50.0"/>
<circle cx="87.5" cy="135.1" r="3.7" fill="#2b64ae"/><circle cx="86.5" cy="133.9" r="1.3" fill="#9cc3ea"/>
<circle cx="98.2" cy="134.9" r="3.7" fill="#2b64ae"/><circle cx="97.2" cy="133.7" r="1.3" fill="#9cc3ea"/>
<circle cx="108.8" cy="134.7" r="3.7" fill="#2b64ae"/><circle cx="107.8" cy="133.5" r="1.3" fill="#9cc3ea"/>
<circle cx="119.5" cy="134.6" r="3.7" fill="#2b64ae"/><circle cx="118.5" cy="133.4" r="1.3" fill="#9cc3ea"/>
<circle cx="130.1" cy="134.4" r="3.7" fill="#2b64ae"/><circle cx="129.1" cy="133.2" r="1.3" fill="#9cc3ea"/>
<circle cx="140.8" cy="134.3" r="3.7" fill="#2b64ae"/><circle cx="139.8" cy="133.1" r="1.3" fill="#9cc3ea"/>
<circle cx="151.5" cy="134.1" r="3.7" fill="#2b64ae"/><circle cx="150.5" cy="132.9" r="1.3" fill="#9cc3ea"/>
<circle cx="162.1" cy="134.0" r="3.7" fill="#2b64ae"/><circle cx="161.1" cy="132.8" r="1.3" fill="#9cc3ea"/>
<circle cx="172.8" cy="133.8" r="3.7" fill="#2b64ae"/><circle cx="171.8" cy="132.6" r="1.3" fill="#9cc3ea"/>
<circle cx="183.4" cy="133.7" r="3.7" fill="#2b64ae"/><circle cx="182.4" cy="132.5" r="1.3" fill="#9cc3ea"/>
<circle cx="194.1" cy="129.6" r="3.7" fill="#2b64ae"/><circle cx="193.1" cy="128.4" r="1.3" fill="#9cc3ea"/>
<circle cx="204.8" cy="129.0" r="3.7" fill="#2b64ae"/><circle cx="203.8" cy="127.8" r="1.3" fill="#9cc3ea"/>
<circle cx="215.4" cy="128.3" r="3.7" fill="#2b64ae"/><circle cx="214.4" cy="127.1" r="1.3" fill="#9cc3ea"/>
<circle cx="226.1" cy="127.6" r="3.7" fill="#2b64ae"/><circle cx="225.1" cy="126.4" r="1.3" fill="#9cc3ea"/>
<circle cx="236.7" cy="126.9" r="3.7" fill="#2b64ae"/><circle cx="235.7" cy="125.7" r="1.3" fill="#9cc3ea"/>
<circle cx="247.4" cy="126.2" r="3.7" fill="#2b64ae"/><circle cx="246.4" cy="125.0" r="1.3" fill="#9cc3ea"/>
<circle cx="258.1" cy="124.9" r="3.7" fill="#2b64ae"/><circle cx="257.1" cy="123.7" r="1.3" fill="#9cc3ea"/>
<circle cx="268.7" cy="123.6" r="3.7" fill="#2b64ae"/><circle cx="267.7" cy="122.4" r="1.3" fill="#9cc3ea"/>
<circle cx="279.4" cy="122.3" r="3.7" fill="#2b64ae"/><circle cx="278.4" cy="121.1" r="1.3" fill="#9cc3ea"/>
<circle cx="290.0" cy="121.0" r="3.7" fill="#2b64ae"/><circle cx="289.0" cy="119.8" r="1.3" fill="#9cc3ea"/>
<circle cx="300.7" cy="119.7" r="3.7" fill="#2b64ae"/><circle cx="299.7" cy="118.5" r="1.3" fill="#9cc3ea"/>
<circle cx="311.4" cy="118.1" r="3.7" fill="#2b64ae"/><circle cx="310.4" cy="116.9" r="1.3" fill="#9cc3ea"/>
<circle cx="322.0" cy="116.3" r="3.7" fill="#2b64ae"/><circle cx="321.0" cy="115.1" r="1.3" fill="#9cc3ea"/>
<circle cx="332.7" cy="114.3" r="3.7" fill="#2b64ae"/><circle cx="331.7" cy="113.1" r="1.3" fill="#9cc3ea"/>
<circle cx="343.3" cy="112.1" r="3.7" fill="#2b64ae"/><circle cx="342.3" cy="110.9" r="1.3" fill="#9cc3ea"/>
<circle cx="354.0" cy="109.3" r="3.7" fill="#2b64ae"/><circle cx="353.0" cy="108.1" r="1.3" fill="#9cc3ea"/>
<circle cx="364.7" cy="106.5" r="3.7" fill="#2b64ae"/><circle cx="363.7" cy="105.3" r="1.3" fill="#9cc3ea"/>
<circle cx="375.3" cy="103.1" r="3.7" fill="#2b64ae"/><circle cx="374.3" cy="101.9" r="1.3" fill="#9cc3ea"/>
<circle cx="386.0" cy="99.4" r="3.7" fill="#2b64ae"/><circle cx="385.0" cy="98.2" r="1.3" fill="#9cc3ea"/>
<circle cx="396.6" cy="95.0" r="3.7" fill="#2b64ae"/><circle cx="395.6" cy="93.8" r="1.3" fill="#9cc3ea"/>
<circle cx="407.3" cy="89.7" r="3.7" fill="#2b64ae"/><circle cx="406.3" cy="88.5" r="1.3" fill="#9cc3ea"/>
<circle cx="418.0" cy="84.4" r="3.7" fill="#2b64ae"/><circle cx="417.0" cy="83.2" r="1.3" fill="#9cc3ea"/>
<circle cx="428.6" cy="78.5" r="3.7" fill="#2b64ae"/><circle cx="427.6" cy="77.3" r="1.3" fill="#9cc3ea"/>
<circle cx="439.3" cy="70.9" r="3.7" fill="#2b64ae"/><circle cx="438.3" cy="69.7" r="1.3" fill="#9cc3ea"/>
<circle cx="449.9" cy="61.5" r="3.7" fill="#2b64ae"/><circle cx="448.9" cy="60.3" r="1.3" fill="#9cc3ea"/>
<circle cx="460.6" cy="50.0" r="3.7" fill="#2b64ae"/><circle cx="459.6" cy="48.8" r="1.3" fill="#9cc3ea"/>
<polyline fill="none" stroke="#2b64ae" stroke-width="1.6" points="471.3,123.0 481.9,102.6"/>
<circle cx="471.3" cy="123.0" r="3.7" fill="#2b64ae"/><circle cx="470.3" cy="121.8" r="1.3" fill="#9cc3ea"/>
<circle cx="481.9" cy="102.6" r="3.7" fill="#2b64ae"/><circle cx="480.9" cy="101.4" r="1.3" fill="#9cc3ea"/>
<circle cx="492.6" cy="171.0" r="3.7" fill="#2b64ae"/><circle cx="491.6" cy="169.8" r="1.3" fill="#9cc3ea"/>
<circle cx="503.2" cy="104.0" r="3.7" fill="#2b64ae"/><circle cx="502.2" cy="102.8" r="1.3" fill="#9cc3ea"/>
<polyline fill="none" stroke="#229c9f" stroke-width="1.6" points="87.5,134.7 98.2,134.5 108.8,134.3 119.5,134.1 130.1,134.0 140.8,133.8 151.5,133.6 162.1,133.5 172.8,133.3 183.4,133.2 194.1,129.2 204.8,128.5 215.4,127.8 226.1,127.1 236.7,126.5 247.4,125.8 258.1,124.4 268.7,123.1 279.4,121.8 290.0,120.4 300.7,119.1 311.4,117.5 322.0,115.7 332.7,113.7 343.3,111.5 354.0,108.7 364.7,105.9 375.3,102.5 386.0,98.7 396.6,94.3 407.3,88.9 418.0,83.4 428.6,77.4 439.3,69.7 449.9,60.1 460.6,48.2 471.3,35.8"/>
<path d="M83.7 134.7H91.3M87.5 130.8V138.5" stroke="#229c9f" stroke-width="1" fill="none"/>
<path d="M94.4 134.5H102.0M98.2 130.7V138.3" stroke="#229c9f" stroke-width="1" fill="none"/>
<path d="M105.0 134.3H112.6M108.8 130.5V138.1" stroke="#229c9f" stroke-width="1" fill="none"/>
<path d="M115.7 134.1H123.3M119.5 130.3V137.9" stroke="#229c9f" stroke-width="1" fill="none"/>
<path d="M126.3 134.0H133.9M130.1 130.2V137.8" stroke="#229c9f" stroke-width="1" fill="none"/>
<path d="M137.0 133.8H144.6M140.8 130.0V137.6" stroke="#229c9f" stroke-width="1" fill="none"/>
<path d="M147.7 133.6H155.3M151.5 129.8V137.4" stroke="#229c9f" stroke-width="1" fill="none"/>
<path d="M158.3 133.5H165.9M162.1 129.7V137.3" stroke="#229c9f" stroke-width="1" fill="none"/>
<path d="M169.0 133.3H176.6M172.8 129.5V137.1" stroke="#229c9f" stroke-width="1" fill="none"/>
<path d="M179.6 133.2H187.2M183.4 129.4V137.0" stroke="#229c9f" stroke-width="1" fill="none"/>
<path d="M190.3 129.2H197.9M194.1 125.4V133.0" stroke="#229c9f" stroke-width="1" fill="none"/>
<path d="M201.0 128.5H208.6M204.8 124.7V132.3" stroke="#229c9f" stroke-width="1" fill="none"/>
<path d="M211.6 127.8H219.2M215.4 124.0V131.6" stroke="#229c9f" stroke-width="1" fill="none"/>
<path d="M222.3 127.1H229.9M226.1 123.3V130.9" stroke="#229c9f" stroke-width="1" fill="none"/>
<path d="M232.9 126.5H240.5M236.7 122.7V130.3" stroke="#229c9f" stroke-width="1" fill="none"/>
<path d="M243.6 125.8H251.2M247.4 122.0V129.6" stroke="#229c9f" stroke-width="1" fill="none"/>
<path d="M254.3 124.4H261.9M258.1 120.6V128.2" stroke="#229c9f" stroke-width="1" fill="none"/>
<path d="M264.9 123.1H272.5M268.7 119.3V126.9" stroke="#229c9f" stroke-width="1" fill="none"/>
<path d="M275.6 121.8H283.2M279.4 118.0V125.6" stroke="#229c9f" stroke-width="1" fill="none"/>
<path d="M286.2 120.4H293.8M290.0 116.6V124.2" stroke="#229c9f" stroke-width="1" fill="none"/>
<path d="M296.9 119.1H304.5M300.7 115.3V122.9" stroke="#229c9f" stroke-width="1" fill="none"/>
<path d="M307.6 117.5H315.2M311.4 113.7V121.3" stroke="#229c9f" stroke-width="1" fill="none"/>
<path d="M318.2 115.7H325.8M322.0 111.9V119.5" stroke="#229c9f" stroke-width="1" fill="none"/>
<path d="M328.9 113.7H336.5M332.7 109.9V117.5" stroke="#229c9f" stroke-width="1" fill="none"/>
<path d="M339.5 111.5H347.1M343.3 107.7V115.3" stroke="#229c9f" stroke-width="1" fill="none"/>
<path d="M350.2 108.7H357.8M354.0 104.9V112.5" stroke="#229c9f" stroke-width="1" fill="none"/>
<path d="M360.9 105.9H368.5M364.7 102.1V109.7" stroke="#229c9f" stroke-width="1" fill="none"/>
<path d="M371.5 102.5H379.1M375.3 98.7V106.3" stroke="#229c9f" stroke-width="1" fill="none"/>
<path d="M382.2 98.7H389.8M386.0 94.9V102.5" stroke="#229c9f" stroke-width="1" fill="none"/>
<path d="M392.8 94.3H400.4M396.6 90.5V98.1" stroke="#229c9f" stroke-width="1" fill="none"/>
<path d="M403.5 88.9H411.1M407.3 85.1V92.7" stroke="#229c9f" stroke-width="1" fill="none"/>
<path d="M414.2 83.4H421.8M418.0 79.6V87.2" stroke="#229c9f" stroke-width="1" fill="none"/>
<path d="M424.8 77.4H432.4M428.6 73.6V81.2" stroke="#229c9f" stroke-width="1" fill="none"/>
<path d="M435.5 69.7H443.1M439.3 65.9V73.5" stroke="#229c9f" stroke-width="1" fill="none"/>
<path d="M446.1 60.1H453.7M449.9 56.3V63.9" stroke="#229c9f" stroke-width="1" fill="none"/>
<path d="M456.8 48.2H464.4M460.6 44.5V52.0" stroke="#229c9f" stroke-width="1" fill="none"/>
<path d="M467.5 35.8H475.1M471.3 32.0V39.6" stroke="#229c9f" stroke-width="1" fill="none"/>
<path d="M499.4 81.8H507.0M503.2 78.0V85.6" stroke="#229c9f" stroke-width="1" fill="none"/>
<path d="M488.8 170.5H496.4M492.6 166.7V174.3" stroke="#229c9f" stroke-width="1" fill="none"/>
<polyline fill="none" stroke="#ad6b24" stroke-width="1.6" points="87.5,133.7 98.2,132.0 108.8,133.2 119.5,133.0 130.1,132.7 140.8,132.5 151.5,132.2 162.1,129.5 172.8,131.7 183.4,131.5 194.1,127.6 204.8,124.4 215.4,126.2 226.1,125.4 236.7,124.7 247.4,123.9 258.1,122.5 268.7,121.0 279.4,119.5 290.0,118.1 300.7,116.6 311.4,114.9 322.0,113.0 332.7,110.9 343.3,108.7 354.0,105.8 364.7,102.9 375.3,99.2 386.0,95.2 396.6,90.3 407.3,84.2 418.0,78.0 428.6,71.2 439.3,62.4 449.9,51.3 460.6,38.0"/>
<path d="M83.6 129.8L91.4 137.6M83.6 137.6L91.4 129.8" stroke="#ad6b24" stroke-width="1" fill="none"/>
<path d="M94.3 128.1L102.1 135.9M94.3 135.9L102.1 128.1" stroke="#ad6b24" stroke-width="1" fill="none"/>
<path d="M104.9 129.3L112.7 137.1M104.9 137.1L112.7 129.3" stroke="#ad6b24" stroke-width="1" fill="none"/>
<path d="M115.6 129.1L123.4 136.9M115.6 136.9L123.4 129.1" stroke="#ad6b24" stroke-width="1" fill="none"/>
<path d="M126.2 128.8L134.0 136.6M126.2 136.6L134.0 128.8" stroke="#ad6b24" stroke-width="1" fill="none"/>
<path d="M136.9 128.6L144.7 136.4M136.9 136.4L144.7 128.6" stroke="#ad6b24" stroke-width="1" fill="none"/>
<path d="M147.6 128.3L155.4 136.1M147.6 136.1L155.4 128.3" stroke="#ad6b24" stroke-width="1" fill="none"/>
<path d="M158.2 125.6L166.0 133.4M158.2 133.4L166.0 125.6" stroke="#ad6b24" stroke-width="1" fill="none"/>
<path d="M168.9 127.8L176.7 135.6M168.9 135.6L176.7 127.8" stroke="#ad6b24" stroke-width="1" fill="none"/>
<path d="M179.5 127.6L187.3 135.4M179.5 135.4L187.3 127.6" stroke="#ad6b24" stroke-width="1" fill="none"/>
<path d="M190.2 123.7L198.0 131.5M190.2 131.5L198.0 123.7" stroke="#ad6b24" stroke-width="1" fill="none"/>
<path d="M200.9 120.5L208.7 128.3M200.9 128.3L208.7 120.5" stroke="#ad6b24" stroke-width="1" fill="none"/>
<path d="M211.5 122.3L219.3 130.1M211.5 130.1L219.3 122.3" stroke="#ad6b24" stroke-width="1" fill="none"/>
<path d="M222.2 121.5L230.0 129.3M222.2 129.3L230.0 121.5" stroke="#ad6b24" stroke-width="1" fill="none"/>
<path d="M232.8 120.8L240.6 128.6M232.8 128.6L240.6 120.8" stroke="#ad6b24" stroke-width="1" fill="none"/>
<path d="M243.5 120.0L251.3 127.8M243.5 127.8L251.3 120.0" stroke="#ad6b24" stroke-width="1" fill="none"/>
<path d="M254.2 118.6L262.0 126.4M254.2 126.4L262.0 118.6" stroke="#ad6b24" stroke-width="1" fill="none"/>
<path d="M264.8 117.1L272.6 124.9M264.8 124.9L272.6 117.1" stroke="#ad6b24" stroke-width="1" fill="none"/>
<path d="M275.5 115.6L283.3 123.4M275.5 123.4L283.3 115.6" stroke="#ad6b24" stroke-width="1" fill="none"/>
<path d="M286.1 114.2L293.9 122.0M286.1 122.0L293.9 114.2" stroke="#ad6b24" stroke-width="1" fill="none"/>
<path d="M296.8 112.7L304.6 120.5M296.8 120.5L304.6 112.7" stroke="#ad6b24" stroke-width="1" fill="none"/>
<path d="M307.5 111.0L315.3 118.8M307.5 118.8L315.3 111.0" stroke="#ad6b24" stroke-width="1" fill="none"/>
<path d="M318.1 109.1L325.9 116.9M318.1 116.9L325.9 109.1" stroke="#ad6b24" stroke-width="1" fill="none"/>
<path d="M328.8 107.0L336.6 114.8M328.8 114.8L336.6 107.0" stroke="#ad6b24" stroke-width="1" fill="none"/>
<path d="M339.4 104.8L347.2 112.6M339.4 112.6L347.2 104.8" stroke="#ad6b24" stroke-width="1" fill="none"/>
<path d="M350.1 101.9L357.9 109.7M350.1 109.7L357.9 101.9" stroke="#ad6b24" stroke-width="1" fill="none"/>
<path d="M360.8 99.0L368.6 106.8M360.8 106.8L368.6 99.0" stroke="#ad6b24" stroke-width="1" fill="none"/>
<path d="M371.4 95.3L379.2 103.1M371.4 103.1L379.2 95.3" stroke="#ad6b24" stroke-width="1" fill="none"/>
<path d="M382.1 91.3L389.9 99.1M382.1 99.1L389.9 91.3" stroke="#ad6b24" stroke-width="1" fill="none"/>
<path d="M392.7 86.4L400.5 94.2M392.7 94.2L400.5 86.4" stroke="#ad6b24" stroke-width="1" fill="none"/>
<path d="M403.4 80.3L411.2 88.1M403.4 88.1L411.2 80.3" stroke="#ad6b24" stroke-width="1" fill="none"/>
<path d="M414.1 74.1L421.9 81.9M414.1 81.9L421.9 74.1" stroke="#ad6b24" stroke-width="1" fill="none"/>
<path d="M424.7 67.3L432.5 75.1M424.7 75.1L432.5 67.3" stroke="#ad6b24" stroke-width="1" fill="none"/>
<path d="M435.4 58.5L443.2 66.3M435.4 66.3L443.2 58.5" stroke="#ad6b24" stroke-width="1" fill="none"/>
<path d="M446.0 47.4L453.8 55.2M446.0 55.2L453.8 47.4" stroke="#ad6b24" stroke-width="1" fill="none"/>
<path d="M456.7 34.1L464.5 41.9M456.7 41.9L464.5 34.1" stroke="#ad6b24" stroke-width="1" fill="none"/>
<polyline fill="none" stroke="#ad6b24" stroke-width="1.6" points="471.3,107.0 481.9,81.0"/>
<path d="M467.4 103.1L475.2 110.9M467.4 110.9L475.2 103.1" stroke="#ad6b24" stroke-width="1" fill="none"/>
<path d="M478.0 77.1L485.8 84.9M478.0 84.9L485.8 77.1" stroke="#ad6b24" stroke-width="1" fill="none"/>
<path d="M488.7 139.1L496.5 146.9M488.7 146.9L496.5 139.1" stroke="#ad6b24" stroke-width="1" fill="none"/>
<path d="M499.3 56.8L507.1 64.6M499.3 64.6L507.1 56.8" stroke="#ad6b24" stroke-width="1" fill="none"/>
</g>
<g clip-path="url(#c1)">
<polyline fill="none" stroke="#000000" stroke-width="1.6" points="87.5,368.0 98.2,367.9 108.8,367.9 119.5,367.9 130.1,367.8 140.8,367.8 151.5,367.8 162.1,367.7 172.8,367.7 183.4,367.7 194.1,363.7 204.8,363.0 215.4,362.2 226.1,361.5 236.7,360.7 247.4,360.0 258.1,359.3 268.7,358.5 279.4,357.8 290.0,356.7 300.7,355.1 311.4,353.5 322.0,351.5 332.7,349.5 343.3,347.2 354.0,344.6 364.7,341.1 375.3,337.3 386.0,333.0 396.6,327.9 407.3,321.4 418.0,314.6 428.6,306.0 439.3,294.4"/>
<rect x="84.1" y="364.6" width="6.8" height="6.8" fill="#000000"/>
<rect x="94.8" y="364.5" width="6.8" height="6.8" fill="#000000"/>
<rect x="105.4" y="364.5" width="6.8" height="6.8" fill="#000000"/>
<rect x="116.1" y="364.5" width="6.8" height="6.8" fill="#000000"/>
<rect x="126.7" y="364.4" width="6.8" height="6.8" fill="#000000"/>
<rect x="137.4" y="364.4" width="6.8" height="6.8" fill="#000000"/>
<rect x="148.1" y="364.4" width="6.8" height="6.8" fill="#000000"/>
<rect x="158.7" y="364.3" width="6.8" height="6.8" fill="#000000"/>
<rect x="169.4" y="364.3" width="6.8" height="6.8" fill="#000000"/>
<rect x="180.0" y="364.3" width="6.8" height="6.8" fill="#000000"/>
<rect x="190.7" y="360.3" width="6.8" height="6.8" fill="#000000"/>
<rect x="201.4" y="359.6" width="6.8" height="6.8" fill="#000000"/>
<rect x="212.0" y="358.8" width="6.8" height="6.8" fill="#000000"/>
<rect x="222.7" y="358.1" width="6.8" height="6.8" fill="#000000"/>
<rect x="233.3" y="357.3" width="6.8" height="6.8" fill="#000000"/>
<rect x="244.0" y="356.6" width="6.8" height="6.8" fill="#000000"/>
<rect x="254.7" y="355.9" width="6.8" height="6.8" fill="#000000"/>
<rect x="265.3" y="355.1" width="6.8" height="6.8" fill="#000000"/>
<rect x="276.0" y="354.4" width="6.8" height="6.8" fill="#000000"/>
<rect x="286.6" y="353.3" width="6.8" height="6.8" fill="#000000"/>
<rect x="297.3" y="351.7" width="6.8" height="6.8" fill="#000000"/>
<rect x="308.0" y="350.1" width="6.8" height="6.8" fill="#000000"/>
<rect x="318.6" y="348.1" width="6.8" height="6.8" fill="#000000"/>
<rect x="329.3" y="346.1" width="6.8" height="6.8" fill="#000000"/>
<rect x="339.9" y="343.8" width="6.8" height="6.8" fill="#000000"/>
<rect x="350.6" y="341.2" width="6.8" height="6.8" fill="#000000"/>
<rect x="361.3" y="337.7" width="6.8" height="6.8" fill="#000000"/>
<rect x="371.9" y="333.9" width="6.8" height="6.8" fill="#000000"/>
<rect x="382.6" y="329.6" width="6.8" height="6.8" fill="#000000"/>
<rect x="393.2" y="324.5" width="6.8" height="6.8" fill="#000000"/>
<rect x="403.9" y="318.0" width="6.8" height="6.8" fill="#000000"/>
<rect x="414.6" y="311.2" width="6.8" height="6.8" fill="#000000"/>
<rect x="425.2" y="302.6" width="6.8" height="6.8" fill="#000000"/>
<rect x="435.9" y="291.0" width="6.8" height="6.8" fill="#000000"/>
<polyline fill="none" stroke="#000000" stroke-width="1.6" points="449.9,356.8 460.6,343.5"/>
<rect x="446.5" y="353.4" width="6.8" height="6.8" fill="#000000"/>
<rect x="457.2" y="340.1" width="6.8" height="6.8" fill="#000000"/>
<polyline fill="none" stroke="#000000" stroke-width="1.6" points="471.3,415.6 481.9,400.9 492.6,376.8"/>
<rect x="467.9" y="412.2" width="6.8" height="6.8" fill="#000000"/>
<rect x="478.5" y="397.5" width="6.8" height="6.8" fill="#000000"/>
<rect x="489.2" y="373.4" width="6.8" height="6.8" fill="#000000"/>
<polyline fill="none" stroke="#000000" stroke-width="1.6" points="503.2,251.7 513.9,290.0"/>
<rect x="499.8" y="248.3" width="6.8" height="6.8" fill="#000000"/>
<rect x="510.5" y="286.6" width="6.8" height="6.8" fill="#000000"/>
<polyline fill="none" stroke="#ff0000" stroke-width="1.6" points="87.5,368.2 98.2,368.2 108.8,368.1 119.5,368.1 130.1,368.1 140.8,368.1 151.5,368.0 162.1,368.0 172.8,368.0 183.4,368.0 194.1,364.0 204.8,363.2 215.4,362.5 226.1,361.7 236.7,361.0 247.4,360.3 258.1,359.5 268.7,358.8 279.4,358.1 290.0,357.0 300.7,355.4 311.4,353.9 322.0,351.8 332.7,349.8 343.3,347.5 354.0,345.0 364.7,341.5 375.3,337.7 386.0,333.3 396.6,328.2 407.3,321.8 418.0,315.0 428.6,306.4 439.3,294.9"/>
<circle cx="87.5" cy="368.2" r="3.7" fill="#ff0000"/>
<circle cx="98.2" cy="368.2" r="3.7" fill="#ff0000"/>
<circle cx="108.8" cy="368.1" r="3.7" fill="#ff0000"/>
<circle cx="119.5" cy="368.1" r="3.7" fill="#ff0000"/>
<circle cx="130.1" cy="368.1" r="3.7" fill="#ff0000"/>
<circle cx="140.8" cy="368.1" r="3.7" fill="#ff0000"/>
<circle cx="151.5" cy="368.0" r="3.7" fill="#ff0000"/>
<circle cx="162.1" cy="368.0" r="3.7" fill="#ff0000"/>
<circle cx="172.8" cy="368.0" r="3.7" fill="#ff0000"/>
<circle cx="183.4" cy="368.0" r="3.7" fill="#ff0000"/>
<circle cx="194.1" cy="364.0" r="3.7" fill="#ff0000"/>
<circle cx="204.8" cy="363.2" r="3.7" fill="#ff0000"/>
<circle cx="215.4" cy="362.5" r="3.7" fill="#ff0000"/>
<circle cx="226.1" cy="361.7" r="3.7" fill="#ff0000"/>
<circle cx="236.7" cy="361.0" r="3.7" fill="#ff0000"/>
<circle cx="247.4" cy="360.3" r="3.7" fill="#ff0000"/>
<circle cx="258.1" cy="359.5" r="3.7" fill="#ff0000"/>
<circle cx="268.7" cy="358.8" r="3.7" fill="#ff0000"/>
<circle cx="279.4" cy="358.1" r="3.7" fill="#ff0000"/>
<circle cx="290.0" cy="357.0" r="3.7" fill="#ff0000"/>
<circle cx="300.7" cy="355.4" r="3.7" fill="#ff0000"/>
<circle cx="311.4" cy="353.9" r="3.7" fill="#ff0000"/>
<circle cx="322.0" cy="351.8" r="3.7" fill="#ff0000"/>
<circle cx="332.7" cy="349.8" r="3.7" fill="#ff0000"/>
<circle cx="343.3" cy="347.5" r="3.7" fill="#ff0000"/>
<circle cx="354.0" cy="345.0" r="3.7" fill="#ff0000"/>
<circle cx="364.7" cy="341.5" r="3.7" fill="#ff0000"/>
<circle cx="375.3" cy="337.7" r="3.7" fill="#ff0000"/>
<circle cx="386.0" cy="333.3" r="3.7" fill="#ff0000"/>
<circle cx="396.6" cy="328.2" r="3.7" fill="#ff0000"/>
<circle cx="407.3" cy="321.8" r="3.7" fill="#ff0000"/>
<circle cx="418.0" cy="315.0" r="3.7" fill="#ff0000"/>
<circle cx="428.6" cy="306.4" r="3.7" fill="#ff0000"/>
<circle cx="439.3" cy="294.9" r="3.7" fill="#ff0000"/>
<polyline fill="none" stroke="#ff0000" stroke-width="1.6" points="449.9,357.4 460.6,344.1"/>
<circle cx="449.9" cy="357.4" r="3.7" fill="#ff0000"/>
<circle cx="460.6" cy="344.1" r="3.7" fill="#ff0000"/>
<polyline fill="none" stroke="#ff0000" stroke-width="1.6" points="471.3,416.1 481.9,401.5 492.6,377.5"/>
<circle cx="471.3" cy="416.1" r="3.7" fill="#ff0000"/>
<circle cx="481.9" cy="401.5" r="3.7" fill="#ff0000"/>
<circle cx="492.6" cy="377.5" r="3.7" fill="#ff0000"/>
<circle cx="503.2" cy="328.0" r="3.7" fill="#ff0000"/>
<circle cx="513.9" cy="306.0" r="3.7" fill="#ff0000"/>
<polyline fill="none" stroke="#0000ff" stroke-width="1.6" points="87.5,369.2 98.2,369.2 108.8,369.1 119.5,369.1 130.1,369.0 140.8,369.0 151.5,369.0 162.1,368.9 172.8,368.9 183.4,368.8 194.1,364.7 204.8,364.0 215.4,363.2 226.1,362.5 236.7,361.7 247.4,361.0 258.1,360.2 268.7,359.5 279.4,358.7 290.0,357.6 300.7,356.1 311.4,354.5 322.0,352.4 332.7,350.4 343.3,348.1 354.0,345.6 364.7,342.1 375.3,338.3 386.0,333.9 396.6,328.8 407.3,322.3 418.0,315.5 428.6,306.9 439.3,295.4"/>
<polygon points="87.5,364.3 91.8,371.7 83.2,371.7" fill="#0000ff"/>
<polygon points="98.2,364.3 102.5,371.7 93.9,371.7" fill="#0000ff"/>
<polygon points="108.8,364.2 113.1,371.6 104.5,371.6" fill="#0000ff"/>
<polygon points="119.5,364.2 123.8,371.6 115.2,371.6" fill="#0000ff"/>
<polygon points="130.1,364.1 134.4,371.5 125.8,371.5" fill="#0000ff"/>
<polygon points="140.8,364.1 145.1,371.5 136.5,371.5" fill="#0000ff"/>
<polygon points="151.5,364.0 155.8,371.4 147.2,371.4" fill="#0000ff"/>
<polygon points="162.1,364.0 166.4,371.4 157.8,371.4" fill="#0000ff"/>
<polygon points="172.8,363.9 177.1,371.3 168.5,371.3" fill="#0000ff"/>
<polygon points="183.4,363.9 187.7,371.3 179.1,371.3" fill="#0000ff"/>
<polygon points="194.1,359.8 198.4,367.2 189.8,367.2" fill="#0000ff"/>
<polygon points="204.8,359.1 209.1,366.5 200.5,366.5" fill="#0000ff"/>
<polygon points="215.4,358.3 219.7,365.7 211.1,365.7" fill="#0000ff"/>
<polygon points="226.1,357.5 230.4,364.9 221.8,364.9" fill="#0000ff"/>
<polygon points="236.7,356.8 241.0,364.2 232.4,364.2" fill="#0000ff"/>
<polygon points="247.4,356.0 251.7,363.4 243.1,363.4" fill="#0000ff"/>
<polygon points="258.1,355.3 262.4,362.7 253.8,362.7" fill="#0000ff"/>
<polygon points="268.7,354.5 273.0,361.9 264.4,361.9" fill="#0000ff"/>
<polygon points="279.4,353.8 283.7,361.2 275.1,361.2" fill="#0000ff"/>
<polygon points="290.0,352.7 294.3,360.1 285.7,360.1" fill="#0000ff"/>
<polygon points="300.7,351.1 305.0,358.5 296.4,358.5" fill="#0000ff"/>
<polygon points="311.4,349.6 315.7,357.0 307.1,357.0" fill="#0000ff"/>
<polygon points="322.0,347.5 326.3,354.9 317.7,354.9" fill="#0000ff"/>
<polygon points="332.7,345.5 337.0,352.9 328.4,352.9" fill="#0000ff"/>
<polygon points="343.3,343.1 347.6,350.5 339.0,350.5" fill="#0000ff"/>
<polygon points="354.0,340.6 358.3,348.0 349.7,348.0" fill="#0000ff"/>
<polygon points="364.7,337.1 369.0,344.5 360.4,344.5" fill="#0000ff"/>
<polygon points="375.3,333.3 379.6,340.7 371.0,340.7" fill="#0000ff"/>
<polygon points="386.0,328.9 390.3,336.3 381.7,336.3" fill="#0000ff"/>
<polygon points="396.6,323.8 400.9,331.2 392.3,331.2" fill="#0000ff"/>
<polygon points="407.3,317.4 411.6,324.8 403.0,324.8" fill="#0000ff"/>
<polygon points="418.0,310.5 422.3,317.9 413.7,317.9" fill="#0000ff"/>
<polygon points="428.6,301.9 432.9,309.3 424.3,309.3" fill="#0000ff"/>
<polygon points="439.3,290.4 443.6,297.8 435.0,297.8" fill="#0000ff"/>
<polyline fill="none" stroke="#0000ff" stroke-width="1.6" points="449.9,358.1 460.6,344.9"/>
<polygon points="449.9,353.2 454.2,360.6 445.6,360.6" fill="#0000ff"/>
<polygon points="460.6,340.0 464.9,347.4 456.3,347.4" fill="#0000ff"/>
<polyline fill="none" stroke="#0000ff" stroke-width="1.6" points="471.3,417.0 481.9,402.4 492.6,378.5"/>
<polygon points="471.3,412.1 475.6,419.5 467.0,419.5" fill="#0000ff"/>
<polygon points="481.9,397.5 486.2,404.9 477.6,404.9" fill="#0000ff"/>
<polygon points="492.6,373.6 496.9,381.0 488.3,381.0" fill="#0000ff"/>
<polygon points="503.2,325.8 507.5,333.2 498.9,333.2" fill="#0000ff"/>
<polygon points="513.9,302.4 518.2,309.8 509.6,309.8" fill="#0000ff"/>
<polyline fill="none" stroke="#ff00ff" stroke-width="1.6" points="87.5,378.2 98.2,378.1 108.8,378.1 119.5,378.0 130.1,377.9 140.8,377.9 151.5,377.8 162.1,377.7 172.8,377.7 183.4,377.6 194.1,372.8 204.8,372.1 215.4,371.4 226.1,370.6 236.7,369.9 247.4,369.2 258.1,368.4 268.7,367.7 279.4,367.0 290.0,366.1 300.7,364.8 311.4,363.5 322.0,361.4 332.7,359.3 343.3,357.1 354.0,355.0 364.7,351.6 375.3,348.3 386.0,343.8 396.6,339.0 407.3,332.6 418.0,326.0 428.6,317.5 439.3,306.9"/>
<polygon points="87.5,383.1 91.8,375.7 83.2,375.7" fill="#ff00ff"/>
<polygon points="98.2,383.1 102.5,375.7 93.9,375.7" fill="#ff00ff"/>
<polygon points="108.8,383.0 113.1,375.6 104.5,375.6" fill="#ff00ff"/>
<polygon points="119.5,382.9 123.8,375.5 115.2,375.5" fill="#ff00ff"/>
<polygon points="130.1,382.9 134.4,375.5 125.8,375.5" fill="#ff00ff"/>
<polygon points="140.8,382.8 145.1,375.4 136.5,375.4" fill="#ff00ff"/>
<polygon points="151.5,382.7 155.8,375.3 147.2,375.3" fill="#ff00ff"/>
<polygon points="162.1,382.7 166.4,375.3 157.8,375.3" fill="#ff00ff"/>
<polygon points="172.8,382.6 177.1,375.2 168.5,375.2" fill="#ff00ff"/>
<polygon points="183.4,382.5 187.7,375.1 179.1,375.1" fill="#ff00ff"/>
<polygon points="194.1,377.7 198.4,370.3 189.8,370.3" fill="#ff00ff"/>
<polygon points="204.8,377.0 209.1,369.6 200.5,369.6" fill="#ff00ff"/>
<polygon points="215.4,376.3 219.7,368.9 211.1,368.9" fill="#ff00ff"/>
<polygon points="226.1,375.6 230.4,368.2 221.8,368.2" fill="#ff00ff"/>
<polygon points="236.7,374.8 241.0,367.4 232.4,367.4" fill="#ff00ff"/>
<polygon points="247.4,374.1 251.7,366.7 243.1,366.7" fill="#ff00ff"/>
<polygon points="258.1,373.4 262.4,366.0 253.8,366.0" fill="#ff00ff"/>
<polygon points="268.7,372.7 273.0,365.3 264.4,365.3" fill="#ff00ff"/>
<polygon points="279.4,371.9 283.7,364.5 275.1,364.5" fill="#ff00ff"/>
<polygon points="290.0,371.0 294.3,363.6 285.7,363.6" fill="#ff00ff"/>
<polygon points="300.7,369.7 305.0,362.3 296.4,362.3" fill="#ff00ff"/>
<polygon points="311.4,368.4 315.7,361.0 307.1,361.0" fill="#ff00ff"/>
<polygon points="322.0,366.3 326.3,358.9 317.7,358.9" fill="#ff00ff"/>
<polygon points="332.7,364.2 337.0,356.8 328.4,356.8" fill="#ff00ff"/>
<polygon points="343.3,362.1 347.6,354.7 339.0,354.7" fill="#ff00ff"/>
<polygon points="354.0,359.9 358.3,352.5 349.7,352.5" fill="#ff00ff"/>
<polygon points="364.7,356.6 369.0,349.2 360.4,349.2" fill="#ff00ff"/>
<polygon points="375.3,353.2 379.6,345.8 371.0,345.8" fill="#ff00ff"/>
<polygon points="386.0,348.7 390.3,341.3 381.7,341.3" fill="#ff00ff"/>
<polygon points="396.6,343.9 400.9,336.5 392.3,336.5" fill="#ff00ff"/>
<polygon points="407.3,337.5 411.6,330.1 403.0,330.1" fill="#ff00ff"/>
<polygon points="418.0,330.9 422.3,323.5 413.7,323.5" fill="#ff00ff"/>
<polygon points="428.6,322.4 432.9,315.0 424.3,315.0" fill="#ff00ff"/>
<polygon points="439.3,311.8 443.6,304.4 435.0,304.4" fill="#ff00ff"/>
<polyline fill="none" stroke="#ff00ff" stroke-width="1.6" points="449.9,367.0 460.6,355.0"/>
<polygon points="449.9,371.9 454.2,364.5 445.6,364.5" fill="#ff00ff"/>
<polygon points="460.6,359.9 464.9,352.5 456.3,352.5" fill="#ff00ff"/>
<polyline fill="none" stroke="#ff00ff" stroke-width="1.6" points="471.3,426.0 481.9,412.4 492.6,389.0"/>
<polygon points="471.3,430.9 475.6,423.5 467.0,423.5" fill="#ff00ff"/>
<polygon points="481.9,417.3 486.2,409.9 477.6,409.9" fill="#ff00ff"/>
<polygon points="492.6,393.9 496.9,386.5 488.3,386.5" fill="#ff00ff"/>
<polyline fill="none" stroke="#008000" stroke-width="1.6" points="87.5,370.0 98.2,370.0 108.8,370.0 119.5,369.9 130.1,369.9 140.8,369.9 151.5,369.9 162.1,369.9 172.8,369.9 183.4,369.9 194.1,365.7 204.8,365.0 215.4,364.3 226.1,363.6 236.7,362.9 247.4,362.1 258.1,361.4 268.7,360.7 279.4,360.0 290.0,359.0 300.7,357.5 311.4,356.0 322.0,354.0 332.7,352.0 343.3,349.8 354.0,347.4 364.7,344.0 375.3,340.3 386.0,336.0 396.6,331.0 407.3,324.6 418.0,317.8 428.6,309.4"/>
<polygon points="87.5,365.3 92.0,370.0 87.5,374.7 83.0,370.0" fill="#008000"/>
<polygon points="98.2,365.3 102.7,370.0 98.2,374.7 93.7,370.0" fill="#008000"/>
<polygon points="108.8,365.2 113.3,370.0 108.8,374.7 104.3,370.0" fill="#008000"/>
<polygon points="119.5,365.2 124.0,369.9 119.5,374.7 115.0,369.9" fill="#008000"/>
<polygon points="130.1,365.2 134.6,369.9 130.1,374.7 125.6,369.9" fill="#008000"/>
<polygon points="140.8,365.2 145.3,369.9 140.8,374.6 136.3,369.9" fill="#008000"/>
<polygon points="151.5,365.2 156.0,369.9 151.5,374.6 147.0,369.9" fill="#008000"/>
<polygon points="162.1,365.2 166.6,369.9 162.1,374.6 157.6,369.9" fill="#008000"/>
<polygon points="172.8,365.1 177.3,369.9 172.8,374.6 168.3,369.9" fill="#008000"/>
<polygon points="183.4,365.1 187.9,369.9 183.4,374.6 178.9,369.9" fill="#008000"/>
<polygon points="194.1,361.0 198.6,365.7 194.1,370.5 189.6,365.7" fill="#008000"/>
<polygon points="204.8,360.3 209.3,365.0 204.8,369.7 200.3,365.0" fill="#008000"/>
<polygon points="215.4,359.6 219.9,364.3 215.4,369.0 210.9,364.3" fill="#008000"/>
<polygon points="226.1,358.8 230.6,363.6 226.1,368.3 221.6,363.6" fill="#008000"/>
<polygon points="236.7,358.1 241.2,362.9 236.7,367.6 232.2,362.9" fill="#008000"/>
<polygon points="247.4,357.4 251.9,362.1 247.4,366.9 242.9,362.1" fill="#008000"/>
<polygon points="258.1,356.7 262.6,361.4 258.1,366.2 253.6,361.4" fill="#008000"/>
<polygon points="268.7,356.0 273.2,360.7 268.7,365.5 264.2,360.7" fill="#008000"/>
<polygon points="279.4,355.3 283.9,360.0 279.4,364.8 274.9,360.0" fill="#008000"/>
<polygon points="290.0,354.3 294.5,359.0 290.0,363.7 285.5,359.0" fill="#008000"/>
<polygon points="300.7,352.8 305.2,357.5 300.7,362.2 296.2,357.5" fill="#008000"/>
<polygon points="311.4,351.3 315.9,356.0 311.4,360.8 306.9,356.0" fill="#008000"/>
<polygon points="322.0,349.3 326.5,354.0 322.0,358.8 317.5,354.0" fill="#008000"/>
<polygon points="332.7,347.3 337.2,352.0 332.7,356.7 328.2,352.0" fill="#008000"/>
<polygon points="343.3,345.1 347.8,349.8 343.3,354.5 338.8,349.8" fill="#008000"/>
<polygon points="354.0,342.7 358.5,347.4 354.0,352.1 349.5,347.4" fill="#008000"/>
<polygon points="364.7,339.2 369.2,344.0 364.7,348.7 360.2,344.0" fill="#008000"/>
<polygon points="375.3,335.6 379.8,340.3 375.3,345.0 370.8,340.3" fill="#008000"/>
<polygon points="386.0,331.2 390.5,336.0 386.0,340.7 381.5,336.0" fill="#008000"/>
<polygon points="396.6,326.3 401.1,331.0 396.6,335.7 392.1,331.0" fill="#008000"/>
<polygon points="407.3,319.9 411.8,324.6 407.3,329.3 402.8,324.6" fill="#008000"/>
<polygon points="418.0,313.1 422.5,317.8 418.0,322.6 413.5,317.8" fill="#008000"/>
<polygon points="428.6,304.6 433.1,309.4 428.6,314.1 424.1,309.4" fill="#008000"/>
<polyline fill="none" stroke="#008000" stroke-width="1.6" points="439.3,368.5 449.9,357.5 460.6,344.0"/>
<polygon points="439.3,363.8 443.8,368.5 439.3,373.2 434.8,368.5" fill="#008000"/>
<polygon points="449.9,352.8 454.4,357.5 449.9,362.2 445.4,357.5" fill="#008000"/>
<polygon points="460.6,339.3 465.1,344.0 460.6,348.7 456.1,344.0" fill="#008000"/>
<polyline fill="none" stroke="#008000" stroke-width="1.6" points="471.3,417.0 481.9,402.4 492.6,378.5"/>
<polygon points="471.3,412.3 475.8,417.0 471.3,421.7 466.8,417.0" fill="#008000"/>
<polygon points="481.9,397.7 486.4,402.4 481.9,407.2 477.4,402.4" fill="#008000"/>
<polygon points="492.6,373.8 497.1,378.5 492.6,383.2 488.1,378.5" fill="#008000"/>
<polygon points="503.2,315.3 507.7,320.0 503.2,324.7 498.7,320.0" fill="#008000"/>
<polygon points="513.9,293.9 518.4,298.6 513.9,303.3 509.4,298.6" fill="#008000"/>
<polyline fill="none" stroke="#000080" stroke-width="1.6" points="87.5,367.7 98.2,367.7 108.8,367.6 119.5,367.6 130.1,367.5 140.8,367.5 151.5,367.4 162.1,367.4 172.8,367.4 183.4,367.3 194.1,363.4 204.8,362.6 215.4,361.9 226.1,361.1 236.7,360.3 247.4,359.6 258.1,358.8 268.7,358.1 279.4,357.4 290.0,356.2 300.7,354.6 311.4,353.0 322.0,351.0 332.7,348.9 343.3,346.6 354.0,344.0 364.7,340.5 375.3,336.6 386.0,332.3 396.6,327.1 407.3,320.7 418.0,313.8 428.6,305.2 439.3,293.5"/>
<polygon points="82.6,367.7 90.0,363.4 90.0,372.0" fill="#000080"/>
<polygon points="93.2,367.7 100.6,363.4 100.6,372.0" fill="#000080"/>
<polygon points="103.9,367.6 111.3,363.3 111.3,371.9" fill="#000080"/>
<polygon points="114.5,367.6 121.9,363.3 121.9,371.9" fill="#000080"/>
<polygon points="125.2,367.5 132.6,363.2 132.6,371.8" fill="#000080"/>
<polygon points="135.9,367.5 143.3,363.2 143.3,371.8" fill="#000080"/>
<polygon points="146.5,367.4 153.9,363.1 153.9,371.7" fill="#000080"/>
<polygon points="157.2,367.4 164.6,363.1 164.6,371.7" fill="#000080"/>
<polygon points="167.8,367.4 175.2,363.1 175.2,371.7" fill="#000080"/>
<polygon points="178.5,367.3 185.9,363.0 185.9,371.6" fill="#000080"/>
<polygon points="189.2,363.4 196.6,359.1 196.6,367.7" fill="#000080"/>
<polygon points="199.8,362.6 207.2,358.3 207.2,366.9" fill="#000080"/>
<polygon points="210.5,361.9 217.9,357.6 217.9,366.2" fill="#000080"/>
<polygon points="221.1,361.1 228.5,356.8 228.5,365.4" fill="#000080"/>
<polygon points="231.8,360.3 239.2,356.0 239.2,364.6" fill="#000080"/>
<polygon points="242.5,359.6 249.9,355.3 249.9,363.9" fill="#000080"/>
<polygon points="253.1,358.8 260.5,354.5 260.5,363.1" fill="#000080"/>
<polygon points="263.8,358.1 271.2,353.8 271.2,362.4" fill="#000080"/>
<polygon points="274.4,357.4 281.8,353.1 281.8,361.7" fill="#000080"/>
<polygon points="285.1,356.2 292.5,351.9 292.5,360.5" fill="#000080"/>
<polygon points="295.8,354.6 303.2,350.3 303.2,358.9" fill="#000080"/>
<polygon points="306.4,353.0 313.8,348.7 313.8,357.3" fill="#000080"/>
<polygon points="317.1,351.0 324.5,346.7 324.5,355.3" fill="#000080"/>
<polygon points="327.7,348.9 335.1,344.6 335.1,353.2" fill="#000080"/>
<polygon points="338.4,346.6 345.8,342.3 345.8,350.9" fill="#000080"/>
<polygon points="349.1,344.0 356.5,339.7 356.5,348.3" fill="#000080"/>
<polygon points="359.7,340.5 367.1,336.2 367.1,344.8" fill="#000080"/>
<polygon points="370.4,336.6 377.8,332.3 377.8,340.9" fill="#000080"/>
<polygon points="381.0,332.3 388.4,328.0 388.4,336.6" fill="#000080"/>
<polygon points="391.7,327.1 399.1,322.8 399.1,331.4" fill="#000080"/>
<polygon points="402.4,320.7 409.8,316.4 409.8,325.0" fill="#000080"/>
<polygon points="413.0,313.8 420.4,309.5 420.4,318.1" fill="#000080"/>
<polygon points="423.7,305.2 431.1,300.9 431.1,309.5" fill="#000080"/>
<polygon points="434.3,293.5 441.7,289.2 441.7,297.8" fill="#000080"/>
<polyline fill="none" stroke="#000080" stroke-width="1.6" points="449.9,356.3 460.6,342.8"/>
<polygon points="445.0,356.3 452.4,352.0 452.4,360.6" fill="#000080"/>
<polygon points="455.7,342.8 463.1,338.5 463.1,347.1" fill="#000080"/>
<polyline fill="none" stroke="#000080" stroke-width="1.6" points="471.3,415.6 481.9,400.9 492.6,376.8"/>
<polygon points="466.3,415.6 473.7,411.3 473.7,419.9" fill="#000080"/>
<polygon points="477.0,400.9 484.4,396.6 484.4,405.2" fill="#000080"/>
<polygon points="487.6,376.8 495.0,372.5 495.0,381.1" fill="#000080"/>
<polygon points="498.3,325.0 505.7,320.7 505.7,329.3" fill="#000080"/>
<polygon points="509.0,304.5 516.4,300.2 516.4,308.8" fill="#000080"/>
<polyline fill="none" stroke="#8000ff" stroke-width="1.6" points="87.5,370.0 98.2,370.0 108.8,370.0 119.5,370.0 130.1,370.0 140.8,370.0 151.5,369.9 162.1,369.9 172.8,369.9 183.4,369.9 194.1,365.8 204.8,365.1 215.4,364.4 226.1,363.7 236.7,363.0 247.4,362.3 258.1,361.6 268.7,360.9 279.4,360.2 290.0,359.2 300.7,357.7 311.4,356.2 322.0,354.2 332.7,352.2 343.3,350.0 354.0,347.6 364.7,344.2 375.3,340.6 386.0,336.3 396.6,331.3 407.3,325.0 418.0,318.2 428.6,309.8"/>
<polygon points="92.4,370.0 85.0,365.7 85.0,374.3" fill="#8000ff"/>
<polygon points="103.1,370.0 95.7,365.7 95.7,374.3" fill="#8000ff"/>
<polygon points="113.8,370.0 106.4,365.7 106.4,374.3" fill="#8000ff"/>
<polygon points="124.4,370.0 117.0,365.7 117.0,374.3" fill="#8000ff"/>
<polygon points="135.1,370.0 127.7,365.7 127.7,374.3" fill="#8000ff"/>
<polygon points="145.7,370.0 138.3,365.7 138.3,374.3" fill="#8000ff"/>
<polygon points="156.4,369.9 149.0,365.6 149.0,374.2" fill="#8000ff"/>
<polygon points="167.1,369.9 159.7,365.6 159.7,374.2" fill="#8000ff"/>
<polygon points="177.7,369.9 170.3,365.6 170.3,374.2" fill="#8000ff"/>
<polygon points="188.4,369.9 181.0,365.6 181.0,374.2" fill="#8000ff"/>
<polygon points="199.0,365.8 191.6,361.5 191.6,370.1" fill="#8000ff"/>
<polygon points="209.7,365.1 202.3,360.8 202.3,369.4" fill="#8000ff"/>
<polygon points="220.4,364.4 213.0,360.1 213.0,368.7" fill="#8000ff"/>
<polygon points="231.0,363.7 223.6,359.4 223.6,368.0" fill="#8000ff"/>
<polygon points="241.7,363.0 234.3,358.7 234.3,367.3" fill="#8000ff"/>
<polygon points="252.3,362.3 244.9,358.0 244.9,366.6" fill="#8000ff"/>
<polygon points="263.0,361.6 255.6,357.3 255.6,365.9" fill="#8000ff"/>
<polygon points="273.7,360.9 266.3,356.6 266.3,365.2" fill="#8000ff"/>
<polygon points="284.3,360.2 276.9,355.9 276.9,364.5" fill="#8000ff"/>
<polygon points="295.0,359.2 287.6,354.9 287.6,363.5" fill="#8000ff"/>
<polygon points="305.6,357.7 298.2,353.4 298.2,362.0" fill="#8000ff"/>
<polygon points="316.3,356.2 308.9,351.9 308.9,360.5" fill="#8000ff"/>
<polygon points="327.0,354.2 319.6,349.9 319.6,358.5" fill="#8000ff"/>
<polygon points="337.6,352.2 330.2,347.9 330.2,356.5" fill="#8000ff"/>
<polygon points="348.3,350.0 340.9,345.7 340.9,354.3" fill="#8000ff"/>
<polygon points="358.9,347.6 351.5,343.3 351.5,351.9" fill="#8000ff"/>
<polygon points="369.6,344.2 362.2,339.9 362.2,348.5" fill="#8000ff"/>
<polygon points="380.3,340.6 372.9,336.3 372.9,344.9" fill="#8000ff"/>
<polygon points="390.9,336.3 383.5,332.0 383.5,340.6" fill="#8000ff"/>
<polygon points="401.6,331.3 394.2,327.0 394.2,335.6" fill="#8000ff"/>
<polygon points="412.2,325.0 404.8,320.7 404.8,329.3" fill="#8000ff"/>
<polygon points="422.9,318.2 415.5,313.9 415.5,322.5" fill="#8000ff"/>
<polygon points="433.6,309.8 426.2,305.5 426.2,314.1" fill="#8000ff"/>
<polyline fill="none" stroke="#8000ff" stroke-width="1.6" points="439.3,368.7 449.9,358.5 460.6,346.4"/>
<polygon points="444.2,368.7 436.8,364.4 436.8,373.0" fill="#8000ff"/>
<polygon points="454.9,358.5 447.5,354.2 447.5,362.8" fill="#8000ff"/>
<polygon points="465.5,346.4 458.1,342.1 458.1,350.7" fill="#8000ff"/>
<polyline fill="none" stroke="#8000ff" stroke-width="1.6" points="471.3,417.9 481.9,403.4 492.6,379.6"/>
<polygon points="476.2,417.9 468.8,413.6 468.8,422.2" fill="#8000ff"/>
<polygon points="486.9,403.4 479.5,399.1 479.5,407.7" fill="#8000ff"/>
<polygon points="497.5,379.6 490.1,375.2 490.1,383.9" fill="#8000ff"/>
<polygon points="508.2,256.8 500.8,252.5 500.8,261.1" fill="#8000ff"/>
<polyline fill="none" stroke="#800080" stroke-width="1.6" points="87.5,365.4 98.2,365.2 108.8,365.1 119.5,364.9 130.1,364.8 140.8,364.6 151.5,364.5 162.1,364.3 172.8,364.2 183.4,364.0 194.1,360.2 204.8,359.3 215.4,358.4 226.1,357.5 236.7,356.6 247.4,355.7 258.1,354.8 268.7,353.9 279.4,353.0 290.0,351.6 300.7,349.7 311.4,347.8 322.0,345.6 332.7,343.4 343.3,340.8 354.0,337.8 364.7,334.0 375.3,329.6 386.0,325.1 396.6,319.5 407.3,312.8 418.0,305.4 428.6,296.5 439.3,283.8"/>
<polygon points="87.5,369.5 83.9,367.5 83.9,363.3 87.5,361.2 91.1,363.3 91.1,367.5" fill="#800080"/>
<polygon points="98.2,369.4 94.6,367.3 94.6,363.2 98.2,361.1 101.8,363.2 101.8,367.3" fill="#800080"/>
<polygon points="108.8,369.2 105.2,367.2 105.2,363.0 108.8,360.9 112.4,363.0 112.4,367.2" fill="#800080"/>
<polygon points="119.5,369.1 115.9,367.0 115.9,362.9 119.5,360.8 123.1,362.9 123.1,367.0" fill="#800080"/>
<polygon points="130.1,368.9 126.5,366.9 126.5,362.7 130.1,360.6 133.7,362.7 133.7,366.9" fill="#800080"/>
<polygon points="140.8,368.8 137.2,366.7 137.2,362.5 140.8,360.5 144.4,362.5 144.4,366.7" fill="#800080"/>
<polygon points="151.5,368.6 147.9,366.5 147.9,362.4 151.5,360.3 155.1,362.4 155.1,366.5" fill="#800080"/>
<polygon points="162.1,368.5 158.5,366.4 158.5,362.2 162.1,360.2 165.7,362.2 165.7,366.4" fill="#800080"/>
<polygon points="172.8,368.3 169.2,366.2 169.2,362.1 172.8,360.0 176.4,362.1 176.4,366.2" fill="#800080"/>
<polygon points="183.4,368.1 179.8,366.1 179.8,361.9 183.4,359.9 187.0,361.9 187.0,366.1" fill="#800080"/>
<polygon points="194.1,364.3 190.5,362.3 190.5,358.1 194.1,356.1 197.7,358.1 197.7,362.3" fill="#800080"/>
<polygon points="204.8,363.4 201.2,361.4 201.2,357.2 204.8,355.2 208.4,357.2 208.4,361.4" fill="#800080"/>
<polygon points="215.4,362.5 211.8,360.5 211.8,356.3 215.4,354.2 219.0,356.3 219.0,360.5" fill="#800080"/>
<polygon points="226.1,361.6 222.5,359.6 222.5,355.4 226.1,353.4 229.7,355.4 229.7,359.6" fill="#800080"/>
<polygon points="236.7,360.8 233.1,358.7 233.1,354.5 236.7,352.5 240.3,354.5 240.3,358.7" fill="#800080"/>
<polygon points="247.4,359.8 243.8,357.8 243.8,353.6 247.4,351.6 251.0,353.6 251.0,357.8" fill="#800080"/>
<polygon points="258.1,358.9 254.5,356.9 254.5,352.7 258.1,350.7 261.7,352.7 261.7,356.9" fill="#800080"/>
<polygon points="268.7,358.0 265.1,356.0 265.1,351.8 268.7,349.8 272.3,351.8 272.3,356.0" fill="#800080"/>
<polygon points="279.4,357.1 275.8,355.1 275.8,350.9 279.4,348.9 283.0,350.9 283.0,355.1" fill="#800080"/>
<polygon points="290.0,355.8 286.4,353.7 286.4,349.5 290.0,347.5 293.6,349.5 293.6,353.7" fill="#800080"/>
<polygon points="300.7,353.8 297.1,351.8 297.1,347.6 300.7,345.6 304.3,347.6 304.3,351.8" fill="#800080"/>
<polygon points="311.4,351.9 307.8,349.9 307.8,345.7 311.4,343.7 315.0,345.7 315.0,349.9" fill="#800080"/>
<polygon points="322.0,349.8 318.4,347.7 318.4,343.5 322.0,341.5 325.6,343.5 325.6,347.7" fill="#800080"/>
<polygon points="332.7,347.5 329.1,345.5 329.1,341.3 332.7,339.2 336.3,341.3 336.3,345.5" fill="#800080"/>
<polygon points="343.3,344.9 339.7,342.9 339.7,338.7 343.3,336.7 346.9,338.7 346.9,342.9" fill="#800080"/>
<polygon points="354.0,341.9 350.4,339.9 350.4,335.7 354.0,333.7 357.6,335.7 357.6,339.9" fill="#800080"/>
<polygon points="364.7,338.1 361.1,336.1 361.1,331.9 364.7,329.9 368.3,331.9 368.3,336.1" fill="#800080"/>
<polygon points="375.3,333.8 371.7,331.7 371.7,327.5 375.3,325.5 378.9,327.5 378.9,331.7" fill="#800080"/>
<polygon points="386.0,329.2 382.4,327.2 382.4,323.0 386.0,321.0 389.6,323.0 389.6,327.2" fill="#800080"/>
<polygon points="396.6,323.6 393.0,321.6 393.0,317.4 396.6,315.4 400.2,317.4 400.2,321.6" fill="#800080"/>
<polygon points="407.3,316.9 403.7,314.9 403.7,310.7 407.3,308.7 410.9,310.7 410.9,314.9" fill="#800080"/>
<polygon points="418.0,309.5 414.4,307.5 414.4,303.3 418.0,301.2 421.6,303.3 421.6,307.5" fill="#800080"/>
<polygon points="428.6,300.6 425.0,298.6 425.0,294.4 428.6,292.4 432.2,294.4 432.2,298.6" fill="#800080"/>
<polygon points="439.3,287.9 435.7,285.9 435.7,281.7 439.3,279.7 442.9,281.7 442.9,285.9" fill="#800080"/>
<polyline fill="none" stroke="#800080" stroke-width="1.6" points="449.9,348.5 460.6,334.0"/>
<polygon points="449.9,352.6 446.3,350.6 446.3,346.4 449.9,344.4 453.5,346.4 453.5,350.6" fill="#800080"/>
<polygon points="460.6,338.1 457.0,336.1 457.0,331.9 460.6,329.9 464.2,331.9 464.2,336.1" fill="#800080"/>
<polyline fill="none" stroke="#800080" stroke-width="1.6" points="481.9,393.5 492.6,369.0"/>
<polygon points="481.9,397.6 478.3,395.6 478.3,391.4 481.9,389.3 485.5,391.4 485.5,395.6" fill="#800080"/>
<polygon points="492.6,373.2 489.0,371.1 489.0,367.0 492.6,364.9 496.2,367.0 496.2,371.1" fill="#800080"/>
<polygon points="503.2,306.5 499.6,304.5 499.6,300.3 503.2,298.2 506.8,300.3 506.8,304.5" fill="#800080"/>
<polygon points="513.9,278.5 510.3,276.5 510.3,272.3 513.9,270.2 517.5,272.3 517.5,276.5" fill="#800080"/>
<polyline fill="none" stroke="#800000" stroke-width="1.6" points="87.5,367.2 98.2,367.2 108.8,367.2 119.5,367.2 130.1,367.3 140.8,367.3 151.5,367.3 162.1,367.4 172.8,367.4 183.4,367.4 194.1,363.5 204.8,362.8 215.4,362.1 226.1,361.5 236.7,360.8 247.4,360.1 258.1,359.4 268.7,358.8 279.4,358.1 290.0,357.1 300.7,355.6 311.4,354.1 322.0,352.1 332.7,350.2 343.3,348.0 354.0,345.6 364.7,342.2 375.3,338.5 386.0,334.2 396.6,329.3 407.3,323.0 418.0,316.2 428.6,307.8 439.3,296.5"/>
<polygon points="87.5,362.6 88.6,365.7 91.9,365.8 89.3,367.8 90.2,370.9 87.5,369.1 84.8,370.9 85.7,367.8 83.1,365.8 86.4,365.7" fill="#800000"/>
<polygon points="98.2,362.6 99.3,365.7 102.5,365.8 100.0,367.8 100.9,370.9 98.2,369.1 95.5,370.9 96.4,367.8 93.8,365.8 97.0,365.7" fill="#800000"/>
<polygon points="108.8,362.6 109.9,365.7 113.2,365.8 110.6,367.8 111.5,370.9 108.8,369.1 106.1,370.9 107.0,367.8 104.4,365.8 107.7,365.7" fill="#800000"/>
<polygon points="119.5,362.6 120.6,365.7 123.9,365.8 121.3,367.8 122.2,371.0 119.5,369.1 116.8,371.0 117.7,367.8 115.1,365.8 118.4,365.7" fill="#800000"/>
<polygon points="130.1,362.7 131.3,365.7 134.5,365.9 131.9,367.9 132.8,371.0 130.1,369.2 127.4,371.0 128.3,367.9 125.8,365.9 129.0,365.7" fill="#800000"/>
<polygon points="140.8,362.7 141.9,365.8 145.2,365.9 142.6,367.9 143.5,371.0 140.8,369.2 138.1,371.0 139.0,367.9 136.4,365.9 139.7,365.8" fill="#800000"/>
<polygon points="151.5,362.7 152.6,365.8 155.8,365.9 153.3,367.9 154.2,371.0 151.5,369.2 148.8,371.0 149.7,367.9 147.1,365.9 150.3,365.8" fill="#800000"/>
<polygon points="162.1,362.8 163.2,365.8 166.5,365.9 163.9,367.9 164.8,371.1 162.1,369.3 159.4,371.1 160.3,367.9 157.7,365.9 161.0,365.8" fill="#800000"/>
<polygon points="172.8,362.8 173.9,365.9 177.2,366.0 174.6,368.0 175.5,371.1 172.8,369.3 170.1,371.1 171.0,368.0 168.4,366.0 171.7,365.9" fill="#800000"/>
<polygon points="183.4,362.8 184.6,365.9 187.8,366.0 185.2,368.0 186.1,371.1 183.4,369.3 180.7,371.1 181.6,368.0 179.1,366.0 182.3,365.9" fill="#800000"/>
<polygon points="194.1,358.9 195.2,362.0 198.5,362.1 195.9,364.1 196.8,367.3 194.1,365.4 191.4,367.3 192.3,364.1 189.7,362.1 193.0,362.0" fill="#800000"/>
<polygon points="204.8,358.2 205.9,361.3 209.1,361.4 206.6,363.4 207.5,366.6 204.8,364.7 202.1,366.6 203.0,363.4 200.4,361.4 203.6,361.3" fill="#800000"/>
<polygon points="215.4,357.5 216.5,360.6 219.8,360.7 217.2,362.7 218.1,365.9 215.4,364.0 212.7,365.9 213.6,362.7 211.0,360.7 214.3,360.6" fill="#800000"/>
<polygon points="226.1,356.9 227.2,359.9 230.5,360.0 227.9,362.0 228.8,365.2 226.1,363.4 223.4,365.2 224.3,362.0 221.7,360.0 225.0,359.9" fill="#800000"/>
<polygon points="236.7,356.2 237.9,359.2 241.1,359.4 238.5,361.4 239.4,364.5 236.7,362.7 234.0,364.5 234.9,361.4 232.4,359.4 235.6,359.2" fill="#800000"/>
<polygon points="247.4,355.5 248.5,358.6 251.8,358.7 249.2,360.7 250.1,363.8 247.4,362.0 244.7,363.8 245.6,360.7 243.0,358.7 246.3,358.6" fill="#800000"/>
<polygon points="258.1,354.8 259.2,357.9 262.4,358.0 259.9,360.0 260.8,363.1 258.1,361.3 255.4,363.1 256.3,360.0 253.7,358.0 256.9,357.9" fill="#800000"/>
<polygon points="268.7,354.2 269.8,357.2 273.1,357.3 270.5,359.3 271.4,362.5 268.7,360.7 266.0,362.5 266.9,359.3 264.3,357.3 267.6,357.2" fill="#800000"/>
<polygon points="279.4,353.5 280.5,356.6 283.8,356.7 281.2,358.7 282.1,361.8 279.4,360.0 276.7,361.8 277.6,358.7 275.0,356.7 278.3,356.6" fill="#800000"/>
<polygon points="290.0,352.5 291.2,355.5 294.4,355.6 291.8,357.6 292.7,360.8 290.0,359.0 287.3,360.8 288.2,357.6 285.7,355.6 288.9,355.5" fill="#800000"/>
<polygon points="300.7,351.0 301.8,354.0 305.1,354.1 302.5,356.2 303.4,359.3 300.7,357.5 298.0,359.3 298.9,356.2 296.3,354.1 299.6,354.0" fill="#800000"/>
<polygon points="311.4,349.5 312.5,352.6 315.7,352.7 313.2,354.7 314.1,357.8 311.4,356.0 308.7,357.8 309.6,354.7 307.0,352.7 310.2,352.6" fill="#800000"/>
<polygon points="322.0,347.5 323.1,350.6 326.4,350.7 323.8,352.7 324.7,355.9 322.0,354.0 319.3,355.9 320.2,352.7 317.6,350.7 320.9,350.6" fill="#800000"/>
<polygon points="332.7,345.6 333.8,348.6 337.1,348.7 334.5,350.8 335.4,353.9 332.7,352.1 330.0,353.9 330.9,350.8 328.3,348.7 331.6,348.6" fill="#800000"/>
<polygon points="343.3,343.4 344.5,346.4 347.7,346.5 345.1,348.6 346.0,351.7 343.3,349.9 340.6,351.7 341.5,348.6 339.0,346.5 342.2,346.4" fill="#800000"/>
<polygon points="354.0,341.0 355.1,344.0 358.4,344.1 355.8,346.1 356.7,349.3 354.0,347.5 351.3,349.3 352.2,346.1 349.6,344.1 352.9,344.0" fill="#800000"/>
<polygon points="364.7,337.6 365.8,340.6 369.0,340.8 366.5,342.8 367.4,345.9 364.7,344.1 362.0,345.9 362.9,342.8 360.3,340.8 363.5,340.6" fill="#800000"/>
<polygon points="375.3,333.9 376.4,337.0 379.7,337.1 377.1,339.1 378.0,342.2 375.3,340.4 372.6,342.2 373.5,339.1 370.9,337.1 374.2,337.0" fill="#800000"/>
<polygon points="386.0,329.6 387.1,332.7 390.4,332.8 387.8,334.8 388.7,337.9 386.0,336.1 383.3,337.9 384.2,334.8 381.6,332.8 384.9,332.7" fill="#800000"/>
<polygon points="396.6,324.7 397.8,327.7 401.0,327.8 398.4,329.8 399.3,333.0 396.6,331.2 393.9,333.0 394.8,329.8 392.3,327.8 395.5,327.7" fill="#800000"/>
<polygon points="407.3,318.4 408.4,321.4 411.7,321.5 409.1,323.5 410.0,326.7 407.3,324.9 404.6,326.7 405.5,323.5 402.9,321.5 406.2,321.4" fill="#800000"/>
<polygon points="418.0,311.6 419.1,314.7 422.3,314.8 419.8,316.8 420.7,319.9 418.0,318.1 415.3,319.9 416.2,316.8 413.6,314.8 416.8,314.7" fill="#800000"/>
<polygon points="428.6,303.2 429.7,306.3 433.0,306.4 430.4,308.4 431.3,311.5 428.6,309.7 425.9,311.5 426.8,308.4 424.2,306.4 427.5,306.3" fill="#800000"/>
<polygon points="439.3,291.9 440.4,295.0 443.7,295.1 441.1,297.1 442.0,300.2 439.3,298.4 436.6,300.2 437.5,297.1 434.9,295.1 438.2,295.0" fill="#800000"/>
<polyline fill="none" stroke="#800000" stroke-width="1.6" points="449.9,355.0 460.6,341.3"/>
<polygon points="449.9,350.4 451.1,353.4 454.3,353.6 451.7,355.6 452.6,358.7 449.9,356.9 447.2,358.7 448.1,355.6 445.6,353.6 448.8,353.4" fill="#800000"/>
<polygon points="460.6,336.7 461.7,339.8 465.0,339.9 462.4,341.9 463.3,345.1 460.6,343.2 457.9,345.1 458.8,341.9 456.2,339.9 459.5,339.8" fill="#800000"/>
<polyline fill="none" stroke="#800000" stroke-width="1.6" points="471.3,414.3 481.9,399.5 492.6,375.4"/>
<polygon points="471.3,409.7 472.4,412.8 475.6,412.9 473.1,414.9 474.0,418.0 471.3,416.2 468.6,418.0 469.5,414.9 466.9,412.9 470.1,412.8" fill="#800000"/>
<polygon points="481.9,394.9 483.0,397.9 486.3,398.0 483.7,400.1 484.6,403.2 481.9,401.4 479.2,403.2 480.1,400.1 477.5,398.0 480.8,397.9" fill="#800000"/>
<polygon points="492.6,370.8 493.7,373.8 497.0,373.9 494.4,375.9 495.3,379.1 492.6,377.2 489.9,379.1 490.8,375.9 488.2,373.9 491.5,373.8" fill="#800000"/>
<polygon points="503.2,316.4 504.4,319.5 507.6,319.6 505.0,321.6 505.9,324.7 503.2,322.9 500.5,324.7 501.4,321.6 498.9,319.6 502.1,319.5" fill="#800000"/>
<polygon points="513.9,295.4 515.0,298.5 518.3,298.6 515.7,300.6 516.6,303.7 513.9,301.9 511.2,303.7 512.1,300.6 509.5,298.6 512.8,298.5" fill="#800000"/>
<polyline fill="none" stroke="#808000" stroke-width="1.6" points="87.5,366.2 98.2,366.1 108.8,366.1 119.5,366.1 130.1,366.0 140.8,366.0 151.5,366.0 162.1,366.0 172.8,365.9 183.4,365.9 194.1,362.1 204.8,361.3 215.4,360.6 226.1,359.8 236.7,359.1 247.4,358.3 258.1,357.6 268.7,356.9 279.4,356.1 290.0,355.0 300.7,353.4 311.4,351.7 322.0,349.7 332.7,347.7 343.3,345.3 354.0,342.7 364.7,339.2 375.3,335.3 386.0,331.0 396.6,325.8 407.3,319.4 418.0,312.4 428.6,303.9 439.3,292.1"/>
<polygon points="87.5,361.8 91.7,364.8 90.1,369.7 84.9,369.7 83.3,364.8" fill="#808000"/>
<polygon points="98.2,361.7 102.3,364.8 100.7,369.7 95.6,369.7 94.0,364.8" fill="#808000"/>
<polygon points="108.8,361.7 113.0,364.7 111.4,369.7 106.2,369.7 104.6,364.7" fill="#808000"/>
<polygon points="119.5,361.7 123.7,364.7 122.1,369.6 116.9,369.6 115.3,364.7" fill="#808000"/>
<polygon points="130.1,361.6 134.3,364.7 132.7,369.6 127.6,369.6 126.0,364.7" fill="#808000"/>
<polygon points="140.8,361.6 145.0,364.7 143.4,369.6 138.2,369.6 136.6,364.7" fill="#808000"/>
<polygon points="151.5,361.6 155.6,364.6 154.0,369.6 148.9,369.6 147.3,364.6" fill="#808000"/>
<polygon points="162.1,361.6 166.3,364.6 164.7,369.5 159.5,369.5 157.9,364.6" fill="#808000"/>
<polygon points="172.8,361.5 177.0,364.6 175.4,369.5 170.2,369.5 168.6,364.6" fill="#808000"/>
<polygon points="183.4,361.5 187.6,364.6 186.0,369.5 180.9,369.5 179.3,364.6" fill="#808000"/>
<polygon points="194.1,357.7 198.3,360.7 196.7,365.7 191.5,365.7 189.9,360.7" fill="#808000"/>
<polygon points="204.8,356.9 208.9,360.0 207.3,364.9 202.2,364.9 200.6,360.0" fill="#808000"/>
<polygon points="215.4,356.2 219.6,359.2 218.0,364.1 212.8,364.1 211.2,359.2" fill="#808000"/>
<polygon points="226.1,355.4 230.3,358.5 228.7,363.4 223.5,363.4 221.9,358.5" fill="#808000"/>
<polygon points="236.7,354.7 240.9,357.7 239.3,362.7 234.2,362.7 232.6,357.7" fill="#808000"/>
<polygon points="247.4,353.9 251.6,357.0 250.0,361.9 244.8,361.9 243.2,357.0" fill="#808000"/>
<polygon points="258.1,353.2 262.2,356.2 260.6,361.2 255.5,361.2 253.9,356.2" fill="#808000"/>
<polygon points="268.7,352.5 272.9,355.5 271.3,360.4 266.1,360.4 264.5,355.5" fill="#808000"/>
<polygon points="279.4,351.7 283.6,354.8 282.0,359.7 276.8,359.7 275.2,354.8" fill="#808000"/>
<polygon points="290.0,350.6 294.2,353.6 292.6,358.5 287.5,358.5 285.9,353.6" fill="#808000"/>
<polygon points="300.7,349.0 304.9,352.0 303.3,356.9 298.1,356.9 296.5,352.0" fill="#808000"/>
<polygon points="311.4,347.3 315.5,350.4 313.9,355.3 308.8,355.3 307.2,350.4" fill="#808000"/>
<polygon points="322.0,345.3 326.2,348.3 324.6,353.3 319.4,353.3 317.8,348.3" fill="#808000"/>
<polygon points="332.7,343.3 336.9,346.3 335.3,351.2 330.1,351.2 328.5,346.3" fill="#808000"/>
<polygon points="343.3,340.9 347.5,344.0 345.9,348.9 340.8,348.9 339.2,344.0" fill="#808000"/>
<polygon points="354.0,338.3 358.2,341.4 356.6,346.3 351.4,346.3 349.8,341.4" fill="#808000"/>
<polygon points="364.7,334.8 368.8,337.9 367.2,342.8 362.1,342.8 360.5,337.9" fill="#808000"/>
<polygon points="375.3,330.9 379.5,334.0 377.9,338.9 372.7,338.9 371.1,334.0" fill="#808000"/>
<polygon points="386.0,326.6 390.2,329.6 388.6,334.5 383.4,334.5 381.8,329.6" fill="#808000"/>
<polygon points="396.6,321.4 400.8,324.5 399.2,329.4 394.1,329.4 392.5,324.5" fill="#808000"/>
<polygon points="407.3,315.0 411.5,318.0 409.9,322.9 404.7,322.9 403.1,318.0" fill="#808000"/>
<polygon points="418.0,308.0 422.1,311.1 420.5,316.0 415.4,316.0 413.8,311.1" fill="#808000"/>
<polygon points="428.6,299.5 432.8,302.5 431.2,307.4 426.0,307.4 424.4,302.5" fill="#808000"/>
<polygon points="439.3,287.7 443.5,290.8 441.9,295.7 436.7,295.7 435.1,290.8" fill="#808000"/>
<polyline fill="none" stroke="#808000" stroke-width="1.6" points="449.9,353.1 460.6,339.2 471.3,323.3"/>
<polygon points="449.9,348.7 454.1,351.8 452.5,356.7 447.4,356.7 445.8,351.8" fill="#808000"/>
<polygon points="460.6,334.9 464.8,337.9 463.2,342.8 458.0,342.8 456.4,337.9" fill="#808000"/>
<polygon points="471.3,318.9 475.4,321.9 473.8,326.9 468.7,326.9 467.1,321.9" fill="#808000"/>
<polyline fill="none" stroke="#808000" stroke-width="1.6" points="471.3,412.5 481.9,397.5 492.6,373.2"/>
<polygon points="471.3,408.1 475.4,411.1 473.8,416.1 468.7,416.1 467.1,411.1" fill="#808000"/>
<polygon points="481.9,393.1 486.1,396.1 484.5,401.0 479.3,401.0 477.7,396.1" fill="#808000"/>
<polygon points="492.6,368.9 496.8,371.9 495.2,376.8 490.0,376.8 488.4,371.9" fill="#808000"/>
<polygon points="503.2,309.3 507.4,312.3 505.8,317.3 500.7,317.3 499.1,312.3" fill="#808000"/>
<polygon points="513.9,286.0 518.1,289.0 516.5,294.0 511.3,294.0 509.7,289.0" fill="#808000"/>
<polyline fill="none" stroke="#2b64ae" stroke-width="1.6" points="87.5,366.7 98.2,366.6 108.8,366.5 119.5,366.4 130.1,366.3 140.8,366.2 151.5,366.2 162.1,366.1 172.8,366.0 183.4,365.9 194.1,362.0 204.8,361.2 215.4,360.4 226.1,359.6 236.7,358.8 247.4,358.0 258.1,357.2 268.7,356.4 279.4,355.5 290.0,354.3 300.7,352.6 311.4,350.9 322.0,348.8 332.7,346.7 343.3,344.2 354.0,341.5 364.7,337.9 375.3,333.8 386.0,329.4 396.6,324.0 407.3,317.5 418.0,310.4 428.6,301.7 439.3,289.6"/>
<circle cx="87.5" cy="366.7" r="3.7" fill="#2b64ae"/><circle cx="86.5" cy="365.5" r="1.3" fill="#9cc3ea"/>
<circle cx="98.2" cy="366.6" r="3.7" fill="#2b64ae"/><circle cx="97.2" cy="365.4" r="1.3" fill="#9cc3ea"/>
<circle cx="108.8" cy="366.5" r="3.7" fill="#2b64ae"/><circle cx="107.8" cy="365.3" r="1.3" fill="#9cc3ea"/>
<circle cx="119.5" cy="366.4" r="3.7" fill="#2b64ae"/><circle cx="118.5" cy="365.2" r="1.3" fill="#9cc3ea"/>
<circle cx="130.1" cy="366.3" r="3.7" fill="#2b64ae"/><circle cx="129.1" cy="365.1" r="1.3" fill="#9cc3ea"/>
<circle cx="140.8" cy="366.2" r="3.7" fill="#2b64ae"/><circle cx="139.8" cy="365.0" r="1.3" fill="#9cc3ea"/>
<circle cx="151.5" cy="366.2" r="3.7" fill="#2b64ae"/><circle cx="150.5" cy="365.0" r="1.3" fill="#9cc3ea"/>
<circle cx="162.1" cy="366.1" r="3.7" fill="#2b64ae"/><circle cx="161.1" cy="364.9" r="1.3" fill="#9cc3ea"/>
<circle cx="172.8" cy="366.0" r="3.7" fill="#2b64ae"/><circle cx="171.8" cy="364.8" r="1.3" fill="#9cc3ea"/>
<circle cx="183.4" cy="365.9" r="3.7" fill="#2b64ae"/><circle cx="182.4" cy="364.7" r="1.3" fill="#9cc3ea"/>
<circle cx="194.1" cy="362.0" r="3.7" fill="#2b64ae"/><circle cx="193.1" cy="360.8" r="1.3" fill="#9cc3ea"/>
<circle cx="204.8" cy="361.2" r="3.7" fill="#2b64ae"/><circle cx="203.8" cy="360.0" r="1.3" fill="#9cc3ea"/>
<circle cx="215.4" cy="360.4" r="3.7" fill="#2b64ae"/><circle cx="214.4" cy="359.2" r="1.3" fill="#9cc3ea"/>
<circle cx="226.1" cy="359.6" r="3.7" fill="#2b64ae"/><circle cx="225.1" cy="358.4" r="1.3" fill="#9cc3ea"/>
<circle cx="236.7" cy="358.8" r="3.7" fill="#2b64ae"/><circle cx="235.7" cy="357.6" r="1.3" fill="#9cc3ea"/>
<circle cx="247.4" cy="358.0" r="3.7" fill="#2b64ae"/><circle cx="246.4" cy="356.8" r="1.3" fill="#9cc3ea"/>
<circle cx="258.1" cy="357.2" r="3.7" fill="#2b64ae"/><circle cx="257.1" cy="356.0" r="1.3" fill="#9cc3ea"/>
<circle cx="268.7" cy="356.4" r="3.7" fill="#2b64ae"/><circle cx="267.7" cy="355.2" r="1.3" fill="#9cc3ea"/>
<circle cx="279.4" cy="355.5" r="3.7" fill="#2b64ae"/><circle cx="278.4" cy="354.3" r="1.3" fill="#9cc3ea"/>
<circle cx="290.0" cy="354.3" r="3.7" fill="#2b64ae"/><circle cx="289.0" cy="353.1" r="1.3" fill="#9cc3ea"/>
<circle cx="300.7" cy="352.6" r="3.7" fill="#2b64ae"/><circle cx="299.7" cy="351.4" r="1.3" fill="#9cc3ea"/>
<circle cx="311.4" cy="350.9" r="3.7" fill="#2b64ae"/><circle cx="310.4" cy="349.7" r="1.3" fill="#9cc3ea"/>
<circle cx="322.0" cy="348.8" r="3.7" fill="#2b64ae"/><circle cx="321.0" cy="347.6" r="1.3" fill="#9cc3ea"/>
<circle cx="332.7" cy="346.7" r="3.7" fill="#2b64ae"/><circle cx="331.7" cy="345.5" r="1.3" fill="#9cc3ea"/>
<circle cx="343.3" cy="344.2" r="3.7" fill="#2b64ae"/><circle cx="342.3" cy="343.0" r="1.3" fill="#9cc3ea"/>
<circle cx="354.0" cy="341.5" r="3.7" fill="#2b64ae"/><circle cx="353.0" cy="340.3" r="1.3" fill="#9cc3ea"/>
<circle cx="364.7" cy="337.9" r="3.7" fill="#2b64ae"/><circle cx="363.7" cy="336.7" r="1.3" fill="#9cc3ea"/>
<circle cx="375.3" cy="333.8" r="3.7" fill="#2b64ae"/><circle cx="374.3" cy="332.6" r="1.3" fill="#9cc3ea"/>
<circle cx="386.0" cy="329.4" r="3.7" fill="#2b64ae"/><circle cx="385.0" cy="328.2" r="1.3" fill="#9cc3ea"/>
<circle cx="396.6" cy="324.0" r="3.7" fill="#2b64ae"/><circle cx="395.6" cy="322.8" r="1.3" fill="#9cc3ea"/>
<circle cx="407.3" cy="317.5" r="3.7" fill="#2b64ae"/><circle cx="406.3" cy="316.3" r="1.3" fill="#9cc3ea"/>
<circle cx="418.0" cy="310.4" r="3.7" fill="#2b64ae"/><circle cx="417.0" cy="309.2" r="1.3" fill="#9cc3ea"/>
<circle cx="428.6" cy="301.7" r="3.7" fill="#2b64ae"/><circle cx="427.6" cy="300.5" r="1.3" fill="#9cc3ea"/>
<circle cx="439.3" cy="289.6" r="3.7" fill="#2b64ae"/><circle cx="438.3" cy="288.4" r="1.3" fill="#9cc3ea"/>
<polyline fill="none" stroke="#2b64ae" stroke-width="1.6" points="449.9,353.5 460.6,339.7"/>
<circle cx="449.9" cy="353.5" r="3.7" fill="#2b64ae"/><circle cx="448.9" cy="352.3" r="1.3" fill="#9cc3ea"/>
<circle cx="460.6" cy="339.7" r="3.7" fill="#2b64ae"/><circle cx="459.6" cy="338.5" r="1.3" fill="#9cc3ea"/>
<polyline fill="none" stroke="#2b64ae" stroke-width="1.6" points="471.3,413.0 481.9,398.1 492.6,373.9"/>
<circle cx="471.3" cy="413.0" r="3.7" fill="#2b64ae"/><circle cx="470.3" cy="411.8" r="1.3" fill="#9cc3ea"/>
<circle cx="481.9" cy="398.1" r="3.7" fill="#2b64ae"/><circle cx="480.9" cy="396.9" r="1.3" fill="#9cc3ea"/>
<circle cx="492.6" cy="373.9" r="3.7" fill="#2b64ae"/><circle cx="491.6" cy="372.7" r="1.3" fill="#9cc3ea"/>
<circle cx="503.2" cy="316.7" r="3.7" fill="#2b64ae"/><circle cx="502.2" cy="315.5" r="1.3" fill="#9cc3ea"/>
<circle cx="513.9" cy="294.8" r="3.7" fill="#2b64ae"/><circle cx="512.9" cy="293.6" r="1.3" fill="#9cc3ea"/>
<polyline fill="none" stroke="#229c9f" stroke-width="1.6" points="87.5,366.4 98.2,366.3 108.8,366.2 119.5,366.1 130.1,366.1 140.8,366.0 151.5,365.9 162.1,365.8 172.8,365.7 183.4,365.6 194.1,361.7 204.8,360.9 215.4,360.1 226.1,359.3 236.7,358.5 247.4,357.6 258.1,356.8 268.7,356.0 279.4,355.2 290.0,353.9 300.7,352.2 311.4,350.5 322.0,348.3 332.7,346.2 343.3,343.8 354.0,341.0 364.7,337.4 375.3,333.2 386.0,328.8 396.6,323.5 407.3,316.9 418.0,309.8 428.6,301.0 439.3,288.9"/>
<path d="M83.7 366.4H91.3M87.5 362.6V370.2" stroke="#229c9f" stroke-width="1" fill="none"/>
<path d="M94.4 366.3H102.0M98.2 362.5V370.1" stroke="#229c9f" stroke-width="1" fill="none"/>
<path d="M105.0 366.2H112.6M108.8 362.4V370.0" stroke="#229c9f" stroke-width="1" fill="none"/>
<path d="M115.7 366.1H123.3M119.5 362.3V369.9" stroke="#229c9f" stroke-width="1" fill="none"/>
<path d="M126.3 366.1H133.9M130.1 362.3V369.9" stroke="#229c9f" stroke-width="1" fill="none"/>
<path d="M137.0 366.0H144.6M140.8 362.2V369.8" stroke="#229c9f" stroke-width="1" fill="none"/>
<path d="M147.7 365.9H155.3M151.5 362.1V369.7" stroke="#229c9f" stroke-width="1" fill="none"/>
<path d="M158.3 365.8H165.9M162.1 362.0V369.6" stroke="#229c9f" stroke-width="1" fill="none"/>
<path d="M169.0 365.7H176.6M172.8 361.9V369.5" stroke="#229c9f" stroke-width="1" fill="none"/>
<path d="M179.6 365.6H187.2M183.4 361.8V369.4" stroke="#229c9f" stroke-width="1" fill="none"/>
<path d="M190.3 361.7H197.9M194.1 357.9V365.5" stroke="#229c9f" stroke-width="1" fill="none"/>
<path d="M201.0 360.9H208.6M204.8 357.1V364.7" stroke="#229c9f" stroke-width="1" fill="none"/>
<path d="M211.6 360.1H219.2M215.4 356.3V363.9" stroke="#229c9f" stroke-width="1" fill="none"/>
<path d="M222.3 359.3H229.9M226.1 355.5V363.1" stroke="#229c9f" stroke-width="1" fill="none"/>
<path d="M232.9 358.5H240.5M236.7 354.7V362.3" stroke="#229c9f" stroke-width="1" fill="none"/>
<path d="M243.6 357.6H251.2M247.4 353.8V361.4" stroke="#229c9f" stroke-width="1" fill="none"/>
<path d="M254.3 356.8H261.9M258.1 353.0V360.6" stroke="#229c9f" stroke-width="1" fill="none"/>
<path d="M264.9 356.0H272.5M268.7 352.2V359.8" stroke="#229c9f" stroke-width="1" fill="none"/>
<path d="M275.6 355.2H283.2M279.4 351.4V359.0" stroke="#229c9f" stroke-width="1" fill="none"/>
<path d="M286.2 353.9H293.8M290.0 350.1V357.7" stroke="#229c9f" stroke-width="1" fill="none"/>
<path d="M296.9 352.2H304.5M300.7 348.4V356.0" stroke="#229c9f" stroke-width="1" fill="none"/>
<path d="M307.6 350.5H315.2M311.4 346.7V354.3" stroke="#229c9f" stroke-width="1" fill="none"/>
<path d="M318.2 348.3H325.8M322.0 344.5V352.1" stroke="#229c9f" stroke-width="1" fill="none"/>
<path d="M328.9 346.2H336.5M332.7 342.4V350.0" stroke="#229c9f" stroke-width="1" fill="none"/>
<path d="M339.5 343.8H347.1M343.3 340.0V347.6" stroke="#229c9f" stroke-width="1" fill="none"/>
<path d="M350.2 341.0H357.8M354.0 337.2V344.8" stroke="#229c9f" stroke-width="1" fill="none"/>
<path d="M360.9 337.4H368.5M364.7 333.6V341.2" stroke="#229c9f" stroke-width="1" fill="none"/>
<path d="M371.5 333.2H379.1M375.3 329.4V337.0" stroke="#229c9f" stroke-width="1" fill="none"/>
<path d="M382.2 328.8H389.8M386.0 325.0V332.6" stroke="#229c9f" stroke-width="1" fill="none"/>
<path d="M392.8 323.5H400.4M396.6 319.7V327.3" stroke="#229c9f" stroke-width="1" fill="none"/>
<path d="M403.5 316.9H411.1M407.3 313.1V320.7" stroke="#229c9f" stroke-width="1" fill="none"/>
<path d="M414.2 309.8H421.8M418.0 306.0V313.6" stroke="#229c9f" stroke-width="1" fill="none"/>
<path d="M424.8 301.0H432.4M428.6 297.2V304.8" stroke="#229c9f" stroke-width="1" fill="none"/>
<path d="M435.5 288.9H443.1M439.3 285.1V292.7" stroke="#229c9f" stroke-width="1" fill="none"/>
<polyline fill="none" stroke="#229c9f" stroke-width="1.6" points="449.9,352.2 460.6,338.2"/>
<path d="M446.1 352.2H453.7M449.9 348.4V356.0" stroke="#229c9f" stroke-width="1" fill="none"/>
<path d="M456.8 338.2H464.4M460.6 334.4V342.0" stroke="#229c9f" stroke-width="1" fill="none"/>
<polyline fill="none" stroke="#229c9f" stroke-width="1.6" points="471.3,411.6 481.9,396.5 492.6,372.2"/>
<path d="M467.5 411.6H475.1M471.3 407.8V415.4" stroke="#229c9f" stroke-width="1" fill="none"/>
<path d="M478.1 396.5H485.7M481.9 392.7V400.3" stroke="#229c9f" stroke-width="1" fill="none"/>
<path d="M488.8 372.2H496.4M492.6 368.4V376.0" stroke="#229c9f" stroke-width="1" fill="none"/>
<path d="M510.1 324.3H517.7M513.9 320.5V328.1" stroke="#229c9f" stroke-width="1" fill="none"/>
<polyline fill="none" stroke="#ad6b24" stroke-width="1.6" points="87.5,365.7 98.2,365.6 108.8,365.5 119.5,365.3 130.1,365.2 140.8,365.1 151.5,365.0 162.1,364.9 172.8,364.9 183.4,364.8 194.1,360.9 204.8,360.1 215.4,359.3 226.1,358.4 236.7,357.6 247.4,356.8 258.1,355.9 268.7,355.1 279.4,354.3 290.0,353.0 300.7,351.2 311.4,349.4 322.0,347.3 332.7,345.2 343.3,342.7 354.0,339.8 364.7,336.2 375.3,332.0 386.0,327.5 396.6,322.1 407.3,315.5 418.0,308.3 428.6,299.6 439.3,287.3"/>
<path d="M83.6 361.8L91.4 369.6M83.6 369.6L91.4 361.8" stroke="#ad6b24" stroke-width="1" fill="none"/>
<path d="M94.3 361.7L102.1 369.5M94.3 369.5L102.1 361.7" stroke="#ad6b24" stroke-width="1" fill="none"/>
<path d="M104.9 361.6L112.7 369.4M104.9 369.4L112.7 361.6" stroke="#ad6b24" stroke-width="1" fill="none"/>
<path d="M115.6 361.4L123.4 369.2M115.6 369.2L123.4 361.4" stroke="#ad6b24" stroke-width="1" fill="none"/>
<path d="M126.2 361.3L134.0 369.1M126.2 369.1L134.0 361.3" stroke="#ad6b24" stroke-width="1" fill="none"/>
<path d="M136.9 361.2L144.7 369.0M136.9 369.0L144.7 361.2" stroke="#ad6b24" stroke-width="1" fill="none"/>
<path d="M147.6 361.1L155.4 368.9M147.6 368.9L155.4 361.1" stroke="#ad6b24" stroke-width="1" fill="none"/>
<path d="M158.2 361.0L166.0 368.8M158.2 368.8L166.0 361.0" stroke="#ad6b24" stroke-width="1" fill="none"/>
<path d="M168.9 361.0L176.7 368.8M168.9 368.8L176.7 361.0" stroke="#ad6b24" stroke-width="1" fill="none"/>
<path d="M179.5 360.9L187.3 368.7M179.5 368.7L187.3 360.9" stroke="#ad6b24" stroke-width="1" fill="none"/>
<path d="M190.2 357.0L198.0 364.8M190.2 364.8L198.0 357.0" stroke="#ad6b24" stroke-width="1" fill="none"/>
<path d="M200.9 356.2L208.7 364.0M200.9 364.0L208.7 356.2" stroke="#ad6b24" stroke-width="1" fill="none"/>
<path d="M211.5 355.4L219.3 363.2M211.5 363.2L219.3 355.4" stroke="#ad6b24" stroke-width="1" fill="none"/>
<path d="M222.2 354.5L230.0 362.3M222.2 362.3L230.0 354.5" stroke="#ad6b24" stroke-width="1" fill="none"/>
<path d="M232.8 353.7L240.6 361.5M232.8 361.5L240.6 353.7" stroke="#ad6b24" stroke-width="1" fill="none"/>
<path d="M243.5 352.9L251.3 360.7M243.5 360.7L251.3 352.9" stroke="#ad6b24" stroke-width="1" fill="none"/>
<path d="M254.2 352.0L262.0 359.8M254.2 359.8L262.0 352.0" stroke="#ad6b24" stroke-width="1" fill="none"/>
<path d="M264.8 351.2L272.6 359.0M264.8 359.0L272.6 351.2" stroke="#ad6b24" stroke-width="1" fill="none"/>
<path d="M275.5 350.4L283.3 358.2M275.5 358.2L283.3 350.4" stroke="#ad6b24" stroke-width="1" fill="none"/>
<path d="M286.1 349.1L293.9 356.9M286.1 356.9L293.9 349.1" stroke="#ad6b24" stroke-width="1" fill="none"/>
<path d="M296.8 347.3L304.6 355.1M296.8 355.1L304.6 347.3" stroke="#ad6b24" stroke-width="1" fill="none"/>
<path d="M307.5 345.5L315.3 353.3M307.5 353.3L315.3 345.5" stroke="#ad6b24" stroke-width="1" fill="none"/>
<path d="M318.1 343.4L325.9 351.2M318.1 351.2L325.9 343.4" stroke="#ad6b24" stroke-width="1" fill="none"/>
<path d="M328.8 341.3L336.6 349.1M328.8 349.1L336.6 341.3" stroke="#ad6b24" stroke-width="1" fill="none"/>
<path d="M339.4 338.8L347.2 346.6M339.4 346.6L347.2 338.8" stroke="#ad6b24" stroke-width="1" fill="none"/>
<path d="M350.1 335.9L357.9 343.7M350.1 343.7L357.9 335.9" stroke="#ad6b24" stroke-width="1" fill="none"/>
<path d="M360.8 332.3L368.6 340.1M360.8 340.1L368.6 332.3" stroke="#ad6b24" stroke-width="1" fill="none"/>
<path d="M371.4 328.1L379.2 335.9M371.4 335.9L379.2 328.1" stroke="#ad6b24" stroke-width="1" fill="none"/>
<path d="M382.1 323.6L389.9 331.4M382.1 331.4L389.9 323.6" stroke="#ad6b24" stroke-width="1" fill="none"/>
<path d="M392.7 318.2L400.5 326.0M392.7 326.0L400.5 318.2" stroke="#ad6b24" stroke-width="1" fill="none"/>
<path d="M403.4 311.6L411.2 319.4M403.4 319.4L411.2 311.6" stroke="#ad6b24" stroke-width="1" fill="none"/>
<path d="M414.1 304.4L421.9 312.2M414.1 312.2L421.9 304.4" stroke="#ad6b24" stroke-width="1" fill="none"/>
<path d="M424.7 295.7L432.5 303.5M424.7 303.5L432.5 295.7" stroke="#ad6b24" stroke-width="1" fill="none"/>
<path d="M435.4 283.4L443.2 291.2M435.4 291.2L443.2 283.4" stroke="#ad6b24" stroke-width="1" fill="none"/>
<polyline fill="none" stroke="#ad6b24" stroke-width="1.6" points="449.9,350.7 460.6,336.5"/>
<path d="M446.0 346.8L453.8 354.6M446.0 354.6L453.8 346.8" stroke="#ad6b24" stroke-width="1" fill="none"/>
<path d="M456.7 332.6L464.5 340.4M456.7 340.4L464.5 332.6" stroke="#ad6b24" stroke-width="1" fill="none"/>
<polyline fill="none" stroke="#ad6b24" stroke-width="1.6" points="471.3,408.0 481.9,392.5 492.6,368.0"/>
<path d="M467.4 404.1L475.2 411.9M467.4 411.9L475.2 404.1" stroke="#ad6b24" stroke-width="1" fill="none"/>
<path d="M478.0 388.6L485.8 396.4M478.0 396.4L485.8 388.6" stroke="#ad6b24" stroke-width="1" fill="none"/>
<path d="M488.7 364.1L496.5 371.9M488.7 371.9L496.5 364.1" stroke="#ad6b24" stroke-width="1" fill="none"/>
<path d="M499.3 320.4L507.1 328.2M499.3 328.2L507.1 320.4" stroke="#ad6b24" stroke-width="1" fill="none"/>
<path d="M510.0 299.1L517.8 306.9M510.0 306.9L517.8 299.1" stroke="#ad6b24" stroke-width="1" fill="none"/>
</g>
<g clip-path="url(#c2)">
<polyline fill="none" stroke="#000000" stroke-width="1.6" points="87.5,597.2 98.2,597.2 108.8,597.1 119.5,597.0 130.1,596.9 140.8,596.8 151.5,596.7 162.1,596.6 172.8,596.5 183.4,596.4 194.1,592.4 204.8,591.5 215.4,590.6 226.1,589.7 236.7,588.8 247.4,587.9 258.1,587.0 268.7,586.2 279.4,585.3 290.0,584.0 300.7,582.6 311.4,580.9 322.0,578.8 332.7,576.7 343.3,574.1 354.0,571.7 364.7,568.8 375.3,565.2 386.0,560.8 396.6,556.1 407.3,550.5 418.0,543.9 428.6,536.0 439.3,525.9 449.9,512.9"/>
<rect x="84.1" y="593.8" width="6.8" height="6.8" fill="#000000"/>
<rect x="94.8" y="593.8" width="6.8" height="6.8" fill="#000000"/>
<rect x="105.4" y="593.7" width="6.8" height="6.8" fill="#000000"/>
<rect x="116.1" y="593.6" width="6.8" height="6.8" fill="#000000"/>
<rect x="126.7" y="593.5" width="6.8" height="6.8" fill="#000000"/>
<rect x="137.4" y="593.4" width="6.8" height="6.8" fill="#000000"/>
<rect x="148.1" y="593.3" width="6.8" height="6.8" fill="#000000"/>
<rect x="158.7" y="593.2" width="6.8" height="6.8" fill="#000000"/>
<rect x="169.4" y="593.1" width="6.8" height="6.8" fill="#000000"/>
<rect x="180.0" y="593.0" width="6.8" height="6.8" fill="#000000"/>
<rect x="190.7" y="589.0" width="6.8" height="6.8" fill="#000000"/>
<rect x="201.4" y="588.1" width="6.8" height="6.8" fill="#000000"/>
<rect x="212.0" y="587.2" width="6.8" height="6.8" fill="#000000"/>
<rect x="222.7" y="586.3" width="6.8" height="6.8" fill="#000000"/>
<rect x="233.3" y="585.4" width="6.8" height="6.8" fill="#000000"/>
<rect x="244.0" y="584.5" width="6.8" height="6.8" fill="#000000"/>
<rect x="254.7" y="583.6" width="6.8" height="6.8" fill="#000000"/>
<rect x="265.3" y="582.8" width="6.8" height="6.8" fill="#000000"/>
<rect x="276.0" y="581.9" width="6.8" height="6.8" fill="#000000"/>
<rect x="286.6" y="580.6" width="6.8" height="6.8" fill="#000000"/>
<rect x="297.3" y="579.2" width="6.8" height="6.8" fill="#000000"/>
<rect x="308.0" y="577.5" width="6.8" height="6.8" fill="#000000"/>
<rect x="318.6" y="575.4" width="6.8" height="6.8" fill="#000000"/>
<rect x="329.3" y="573.3" width="6.8" height="6.8" fill="#000000"/>
<rect x="339.9" y="570.7" width="6.8" height="6.8" fill="#000000"/>
<rect x="350.6" y="568.3" width="6.8" height="6.8" fill="#000000"/>
<rect x="361.3" y="565.4" width="6.8" height="6.8" fill="#000000"/>
<rect x="371.9" y="561.8" width="6.8" height="6.8" fill="#000000"/>
<rect x="382.6" y="557.4" width="6.8" height="6.8" fill="#000000"/>
<rect x="393.2" y="552.7" width="6.8" height="6.8" fill="#000000"/>
<rect x="403.9" y="547.1" width="6.8" height="6.8" fill="#000000"/>
<rect x="414.6" y="540.5" width="6.8" height="6.8" fill="#000000"/>
<rect x="425.2" y="532.6" width="6.8" height="6.8" fill="#000000"/>
<rect x="435.9" y="522.5" width="6.8" height="6.8" fill="#000000"/>
<rect x="446.5" y="509.5" width="6.8" height="6.8" fill="#000000"/>
<polyline fill="none" stroke="#000000" stroke-width="1.6" points="460.6,571.1 471.3,554.8"/>
<rect x="457.2" y="567.7" width="6.8" height="6.8" fill="#000000"/>
<rect x="467.9" y="551.4" width="6.8" height="6.8" fill="#000000"/>
<polyline fill="none" stroke="#000000" stroke-width="1.6" points="481.9,624.1 492.6,605.0"/>
<rect x="478.5" y="620.7" width="6.8" height="6.8" fill="#000000"/>
<rect x="489.2" y="601.6" width="6.8" height="6.8" fill="#000000"/>
<rect x="499.8" y="552.1" width="6.8" height="6.8" fill="#000000"/>
<rect x="510.5" y="526.6" width="6.8" height="6.8" fill="#000000"/>
<polyline fill="none" stroke="#ff0000" stroke-width="1.6" points="87.5,597.4 98.2,597.3 108.8,597.2 119.5,597.1 130.1,597.0 140.8,596.9 151.5,596.8 162.1,596.8 172.8,596.7 183.4,596.6 194.1,592.5 204.8,591.6 215.4,590.8 226.1,589.9 236.7,589.0 247.4,588.1 258.1,587.3 268.7,586.4 279.4,585.5 290.0,584.3 300.7,582.9 311.4,581.2 322.0,579.1 332.7,577.0 343.3,574.4 354.0,572.0 364.7,569.1 375.3,565.5 386.0,561.1 396.6,556.5 407.3,550.9 418.0,544.3 428.6,536.4 439.3,526.3 449.9,513.4"/>
<circle cx="87.5" cy="597.4" r="3.7" fill="#ff0000"/>
<circle cx="98.2" cy="597.3" r="3.7" fill="#ff0000"/>
<circle cx="108.8" cy="597.2" r="3.7" fill="#ff0000"/>
<circle cx="119.5" cy="597.1" r="3.7" fill="#ff0000"/>
<circle cx="130.1" cy="597.0" r="3.7" fill="#ff0000"/>
<circle cx="140.8" cy="596.9" r="3.7" fill="#ff0000"/>
<circle cx="151.5" cy="596.8" r="3.7" fill="#ff0000"/>
<circle cx="162.1" cy="596.8" r="3.7" fill="#ff0000"/>
<circle cx="172.8" cy="596.7" r="3.7" fill="#ff0000"/>
<circle cx="183.4" cy="596.6" r="3.7" fill="#ff0000"/>
<circle cx="194.1" cy="592.5" r="3.7" fill="#ff0000"/>
<circle cx="204.8" cy="591.6" r="3.7" fill="#ff0000"/>
<circle cx="215.4" cy="590.8" r="3.7" fill="#ff0000"/>
<circle cx="226.1" cy="589.9" r="3.7" fill="#ff0000"/>
<circle cx="236.7" cy="589.0" r="3.7" fill="#ff0000"/>
<circle cx="247.4" cy="588.1" r="3.7" fill="#ff0000"/>
<circle cx="258.1" cy="587.3" r="3.7" fill="#ff0000"/>
<circle cx="268.7" cy="586.4" r="3.7" fill="#ff0000"/>
<circle cx="279.4" cy="585.5" r="3.7" fill="#ff0000"/>
<circle cx="290.0" cy="584.3" r="3.7" fill="#ff0000"/>
<circle cx="300.7" cy="582.9" r="3.7" fill="#ff0000"/>
<circle cx="311.4" cy="581.2" r="3.7" fill="#ff0000"/>
<circle cx="322.0" cy="579.1" r="3.7" fill="#ff0000"/>
<circle cx="332.7" cy="577.0" r="3.7" fill="#ff0000"/>
<circle cx="343.3" cy="574.4" r="3.7" fill="#ff0000"/>
<circle cx="354.0" cy="572.0" r="3.7" fill="#ff0000"/>
<circle cx="364.7" cy="569.1" r="3.7" fill="#ff0000"/>
<circle cx="375.3" cy="565.5" r="3.7" fill="#ff0000"/>
<circle cx="386.0" cy="561.1" r="3.7" fill="#ff0000"/>
<circle cx="396.6" cy="556.5" r="3.7" fill="#ff0000"/>
<circle cx="407.3" cy="550.9" r="3.7" fill="#ff0000"/>
<circle cx="418.0" cy="544.3" r="3.7" fill="#ff0000"/>
<circle cx="428.6" cy="536.4" r="3.7" fill="#ff0000"/>
<circle cx="439.3" cy="526.3" r="3.7" fill="#ff0000"/>
<circle cx="449.9" cy="513.4" r="3.7" fill="#ff0000"/>
<polyline fill="none" stroke="#ff0000" stroke-width="1.6" points="460.6,571.5 471.3,555.3"/>
<circle cx="460.6" cy="571.5" r="3.7" fill="#ff0000"/>
<circle cx="471.3" cy="555.3" r="3.7" fill="#ff0000"/>
<polyline fill="none" stroke="#ff0000" stroke-width="1.6" points="481.9,624.5 492.6,605.5"/>
<circle cx="481.9" cy="624.5" r="3.7" fill="#ff0000"/>
<circle cx="492.6" cy="605.5" r="3.7" fill="#ff0000"/>
<circle cx="503.2" cy="556.0" r="3.7" fill="#ff0000"/>
<circle cx="513.9" cy="530.5" r="3.7" fill="#ff0000"/>
<polyline fill="none" stroke="#0000ff" stroke-width="1.6" points="87.5,597.6 98.2,597.6 108.8,597.5 119.5,597.4 130.1,597.3 140.8,597.2 151.5,597.1 162.1,597.0 172.8,596.9 183.4,596.9 194.1,592.8 204.8,591.9 215.4,591.0 226.1,590.1 236.7,589.3 247.4,588.4 258.1,587.6 268.7,586.7 279.4,585.9 290.0,584.6 300.7,583.3 311.4,581.6 322.0,579.4 332.7,577.3 343.3,574.8 354.0,572.4 364.7,569.5 375.3,565.9 386.0,561.5 396.6,556.8 407.3,551.3 418.0,544.7 428.6,536.8 439.3,526.7 449.9,513.9"/>
<polygon points="87.5,592.7 91.8,600.1 83.2,600.1" fill="#0000ff"/>
<polygon points="98.2,592.6 102.5,600.0 93.9,600.0" fill="#0000ff"/>
<polygon points="108.8,592.5 113.1,599.9 104.5,599.9" fill="#0000ff"/>
<polygon points="119.5,592.4 123.8,599.8 115.2,599.8" fill="#0000ff"/>
<polygon points="130.1,592.4 134.4,599.8 125.8,599.8" fill="#0000ff"/>
<polygon points="140.8,592.3 145.1,599.7 136.5,599.7" fill="#0000ff"/>
<polygon points="151.5,592.2 155.8,599.6 147.2,599.6" fill="#0000ff"/>
<polygon points="162.1,592.1 166.4,599.5 157.8,599.5" fill="#0000ff"/>
<polygon points="172.8,592.0 177.1,599.4 168.5,599.4" fill="#0000ff"/>
<polygon points="183.4,591.9 187.7,599.3 179.1,599.3" fill="#0000ff"/>
<polygon points="194.1,587.8 198.4,595.2 189.8,595.2" fill="#0000ff"/>
<polygon points="204.8,587.0 209.1,594.4 200.5,594.4" fill="#0000ff"/>
<polygon points="215.4,586.1 219.7,593.5 211.1,593.5" fill="#0000ff"/>
<polygon points="226.1,585.2 230.4,592.6 221.8,592.6" fill="#0000ff"/>
<polygon points="236.7,584.4 241.0,591.8 232.4,591.8" fill="#0000ff"/>
<polygon points="247.4,583.5 251.7,590.9 243.1,590.9" fill="#0000ff"/>
<polygon points="258.1,582.6 262.4,590.0 253.8,590.0" fill="#0000ff"/>
<polygon points="268.7,581.8 273.0,589.2 264.4,589.2" fill="#0000ff"/>
<polygon points="279.4,580.9 283.7,588.3 275.1,588.3" fill="#0000ff"/>
<polygon points="290.0,579.7 294.3,587.1 285.7,587.1" fill="#0000ff"/>
<polygon points="300.7,578.3 305.0,585.7 296.4,585.7" fill="#0000ff"/>
<polygon points="311.4,576.6 315.7,584.0 307.1,584.0" fill="#0000ff"/>
<polygon points="322.0,574.5 326.3,581.9 317.7,581.9" fill="#0000ff"/>
<polygon points="332.7,572.4 337.0,579.8 328.4,579.8" fill="#0000ff"/>
<polygon points="343.3,569.9 347.6,577.3 339.0,577.3" fill="#0000ff"/>
<polygon points="354.0,567.5 358.3,574.9 349.7,574.9" fill="#0000ff"/>
<polygon points="364.7,564.6 369.0,572.0 360.4,572.0" fill="#0000ff"/>
<polygon points="375.3,560.9 379.6,568.3 371.0,568.3" fill="#0000ff"/>
<polygon points="386.0,556.5 390.3,563.9 381.7,563.9" fill="#0000ff"/>
<polygon points="396.6,551.9 400.9,559.3 392.3,559.3" fill="#0000ff"/>
<polygon points="407.3,546.3 411.6,553.7 403.0,553.7" fill="#0000ff"/>
<polygon points="418.0,539.7 422.3,547.1 413.7,547.1" fill="#0000ff"/>
<polygon points="428.6,531.9 432.9,539.3 424.3,539.3" fill="#0000ff"/>
<polygon points="439.3,521.8 443.6,529.2 435.0,529.2" fill="#0000ff"/>
<polygon points="449.9,508.9 454.2,516.3 445.6,516.3" fill="#0000ff"/>
<polyline fill="none" stroke="#0000ff" stroke-width="1.6" points="460.6,571.9 471.3,555.7"/>
<polygon points="460.6,567.0 464.9,574.4 456.3,574.4" fill="#0000ff"/>
<polygon points="471.3,550.8 475.6,558.2 467.0,558.2" fill="#0000ff"/>
<polyline fill="none" stroke="#0000ff" stroke-width="1.6" points="481.9,625.2 492.6,606.2"/>
<polygon points="481.9,620.2 486.2,627.6 477.6,627.6" fill="#0000ff"/>
<polygon points="492.6,601.2 496.9,608.6 488.3,608.6" fill="#0000ff"/>
<polygon points="503.2,551.6 507.5,559.0 498.9,559.0" fill="#0000ff"/>
<polygon points="513.9,526.1 518.2,533.5 509.6,533.5" fill="#0000ff"/>
<polyline fill="none" stroke="#ff00ff" stroke-width="1.6" points="87.5,608.6 98.2,608.5 108.8,608.5 119.5,608.4 130.1,608.3 140.8,608.3 151.5,608.2 162.1,608.1 172.8,608.1 183.4,608.0 194.1,602.5 204.8,602.0 215.4,601.4 226.1,600.9 236.7,600.4 247.4,599.8 258.1,599.3 268.7,598.7 279.4,598.2 290.0,597.4 300.7,596.3 311.4,594.6 322.0,592.8 332.7,590.6 343.3,588.3 354.0,586.0 364.7,583.0 375.3,579.3 386.0,575.0 396.6,570.5 407.3,564.8 418.0,558.2 428.6,550.8 439.3,541.5 449.9,530.4"/>
<polygon points="87.5,613.5 91.8,606.1 83.2,606.1" fill="#ff00ff"/>
<polygon points="98.2,613.5 102.5,606.1 93.9,606.1" fill="#ff00ff"/>
<polygon points="108.8,613.4 113.1,606.0 104.5,606.0" fill="#ff00ff"/>
<polygon points="119.5,613.3 123.8,605.9 115.2,605.9" fill="#ff00ff"/>
<polygon points="130.1,613.3 134.4,605.9 125.8,605.9" fill="#ff00ff"/>
<polygon points="140.8,613.2 145.1,605.8 136.5,605.8" fill="#ff00ff"/>
<polygon points="151.5,613.1 155.8,605.7 147.2,605.7" fill="#ff00ff"/>
<polygon points="162.1,613.1 166.4,605.7 157.8,605.7" fill="#ff00ff"/>
<polygon points="172.8,613.0 177.1,605.6 168.5,605.6" fill="#ff00ff"/>
<polygon points="183.4,612.9 187.7,605.5 179.1,605.5" fill="#ff00ff"/>
<polygon points="194.1,607.4 198.4,600.0 189.8,600.0" fill="#ff00ff"/>
<polygon points="204.8,606.9 209.1,599.5 200.5,599.5" fill="#ff00ff"/>
<polygon points="215.4,606.4 219.7,599.0 211.1,599.0" fill="#ff00ff"/>
<polygon points="226.1,605.8 230.4,598.4 221.8,598.4" fill="#ff00ff"/>
<polygon points="236.7,605.3 241.0,597.9 232.4,597.9" fill="#ff00ff"/>
<polygon points="247.4,604.7 251.7,597.3 243.1,597.3" fill="#ff00ff"/>
<polygon points="258.1,604.2 262.4,596.8 253.8,596.8" fill="#ff00ff"/>
<polygon points="268.7,603.7 273.0,596.3 264.4,596.3" fill="#ff00ff"/>
<polygon points="279.4,603.1 283.7,595.7 275.1,595.7" fill="#ff00ff"/>
<polygon points="290.0,602.3 294.3,594.9 285.7,594.9" fill="#ff00ff"/>
<polygon points="300.7,601.2 305.0,593.8 296.4,593.8" fill="#ff00ff"/>
<polygon points="311.4,599.5 315.7,592.1 307.1,592.1" fill="#ff00ff"/>
<polygon points="322.0,597.7 326.3,590.3 317.7,590.3" fill="#ff00ff"/>
<polygon points="332.7,595.5 337.0,588.1 328.4,588.1" fill="#ff00ff"/>
<polygon points="343.3,593.2 347.6,585.8 339.0,585.8" fill="#ff00ff"/>
<polygon points="354.0,590.9 358.3,583.5 349.7,583.5" fill="#ff00ff"/>
<polygon points="364.7,587.9 369.0,580.5 360.4,580.5" fill="#ff00ff"/>
<polygon points="375.3,584.2 379.6,576.8 371.0,576.8" fill="#ff00ff"/>
<polygon points="386.0,579.9 390.3,572.5 381.7,572.5" fill="#ff00ff"/>
<polygon points="396.6,575.4 400.9,568.0 392.3,568.0" fill="#ff00ff"/>
<polygon points="407.3,569.7 411.6,562.3 403.0,562.3" fill="#ff00ff"/>
<polygon points="418.0,563.1 422.3,555.7 413.7,555.7" fill="#ff00ff"/>
<polygon points="428.6,555.7 432.9,548.3 424.3,548.3" fill="#ff00ff"/>
<polygon points="439.3,546.4 443.6,539.0 435.0,539.0" fill="#ff00ff"/>
<polygon points="449.9,535.3 454.2,527.9 445.6,527.9" fill="#ff00ff"/>
<polyline fill="none" stroke="#ff00ff" stroke-width="1.6" points="460.6,587.1 471.3,572.5"/>
<polygon points="460.6,592.0 464.9,584.6 456.3,584.6" fill="#ff00ff"/>
<polygon points="471.3,577.4 475.6,570.0 467.0,570.0" fill="#ff00ff"/>
<polyline fill="none" stroke="#ff00ff" stroke-width="1.6" points="481.9,639.0 492.6,621.0 503.2,588.0"/>
<polygon points="481.9,643.9 486.2,636.5 477.6,636.5" fill="#ff00ff"/>
<polygon points="492.6,625.9 496.9,618.5 488.3,618.5" fill="#ff00ff"/>
<polygon points="503.2,592.9 507.5,585.5 498.9,585.5" fill="#ff00ff"/>
<polygon points="513.9,601.1 518.2,593.7 509.6,593.7" fill="#ff00ff"/>
<polyline fill="none" stroke="#008000" stroke-width="1.6" points="87.5,599.9 98.2,599.8 108.8,599.7 119.5,599.6 130.1,599.5 140.8,599.4 151.5,599.3 162.1,599.2 172.8,599.1 183.4,599.1 194.1,594.7 204.8,593.9 215.4,593.0 226.1,592.2 236.7,591.4 247.4,590.6 258.1,589.8 268.7,589.0 279.4,588.2 290.0,587.0 300.7,585.7 311.4,584.0 322.0,581.9 332.7,579.8 343.3,577.3 354.0,574.9 364.7,571.9 375.3,568.3 386.0,563.9 396.6,559.3 407.3,553.7 418.0,547.0 428.6,539.2 439.3,529.3 449.9,516.7"/>
<polygon points="87.5,595.2 92.0,599.9 87.5,604.6 83.0,599.9" fill="#008000"/>
<polygon points="98.2,595.1 102.7,599.8 98.2,604.5 93.7,599.8" fill="#008000"/>
<polygon points="108.8,595.0 113.3,599.7 108.8,604.4 104.3,599.7" fill="#008000"/>
<polygon points="119.5,594.9 124.0,599.6 119.5,604.3 115.0,599.6" fill="#008000"/>
<polygon points="130.1,594.8 134.6,599.5 130.1,604.2 125.6,599.5" fill="#008000"/>
<polygon points="140.8,594.7 145.3,599.4 140.8,604.1 136.3,599.4" fill="#008000"/>
<polygon points="151.5,594.6 156.0,599.3 151.5,604.1 147.0,599.3" fill="#008000"/>
<polygon points="162.1,594.5 166.6,599.2 162.1,604.0 157.6,599.2" fill="#008000"/>
<polygon points="172.8,594.4 177.3,599.1 172.8,603.9 168.3,599.1" fill="#008000"/>
<polygon points="183.4,594.3 187.9,599.1 183.4,603.8 178.9,599.1" fill="#008000"/>
<polygon points="194.1,589.9 198.6,594.7 194.1,599.4 189.6,594.7" fill="#008000"/>
<polygon points="204.8,589.1 209.3,593.9 204.8,598.6 200.3,593.9" fill="#008000"/>
<polygon points="215.4,588.3 219.9,593.0 215.4,597.8 210.9,593.0" fill="#008000"/>
<polygon points="226.1,587.5 230.6,592.2 226.1,597.0 221.6,592.2" fill="#008000"/>
<polygon points="236.7,586.7 241.2,591.4 236.7,596.1 232.2,591.4" fill="#008000"/>
<polygon points="247.4,585.9 251.9,590.6 247.4,595.3 242.9,590.6" fill="#008000"/>
<polygon points="258.1,585.1 262.6,589.8 258.1,594.5 253.6,589.8" fill="#008000"/>
<polygon points="268.7,584.3 273.2,589.0 268.7,593.7 264.2,589.0" fill="#008000"/>
<polygon points="279.4,583.5 283.9,588.2 279.4,592.9 274.9,588.2" fill="#008000"/>
<polygon points="290.0,582.3 294.5,587.0 290.0,591.7 285.5,587.0" fill="#008000"/>
<polygon points="300.7,581.0 305.2,585.7 300.7,590.4 296.2,585.7" fill="#008000"/>
<polygon points="311.4,579.3 315.9,584.0 311.4,588.7 306.9,584.0" fill="#008000"/>
<polygon points="322.0,577.2 326.5,581.9 322.0,586.6 317.5,581.9" fill="#008000"/>
<polygon points="332.7,575.0 337.2,579.8 332.7,584.5 328.2,579.8" fill="#008000"/>
<polygon points="343.3,572.5 347.8,577.3 343.3,582.0 338.8,577.3" fill="#008000"/>
<polygon points="354.0,570.2 358.5,574.9 354.0,579.6 349.5,574.9" fill="#008000"/>
<polygon points="364.7,567.2 369.2,571.9 364.7,576.6 360.2,571.9" fill="#008000"/>
<polygon points="375.3,563.5 379.8,568.3 375.3,573.0 370.8,568.3" fill="#008000"/>
<polygon points="386.0,559.2 390.5,563.9 386.0,568.6 381.5,563.9" fill="#008000"/>
<polygon points="396.6,554.5 401.1,559.3 396.6,564.0 392.1,559.3" fill="#008000"/>
<polygon points="407.3,548.9 411.8,553.7 407.3,558.4 402.8,553.7" fill="#008000"/>
<polygon points="418.0,542.3 422.5,547.0 418.0,551.8 413.5,547.0" fill="#008000"/>
<polygon points="428.6,534.5 433.1,539.2 428.6,543.9 424.1,539.2" fill="#008000"/>
<polygon points="439.3,524.5 443.8,529.3 439.3,534.0 434.8,529.3" fill="#008000"/>
<polygon points="449.9,512.0 454.4,516.7 449.9,521.4 445.4,516.7" fill="#008000"/>
<polyline fill="none" stroke="#008000" stroke-width="1.6" points="460.6,575.1 471.3,559.2"/>
<polygon points="460.6,570.3 465.1,575.1 460.6,579.8 456.1,575.1" fill="#008000"/>
<polygon points="471.3,554.5 475.8,559.2 471.3,563.9 466.8,559.2" fill="#008000"/>
<polyline fill="none" stroke="#008000" stroke-width="1.6" points="481.9,627.9 492.6,609.1"/>
<polygon points="481.9,623.2 486.4,627.9 481.9,632.6 477.4,627.9" fill="#008000"/>
<polygon points="492.6,604.4 497.1,609.1 492.6,613.9 488.1,609.1" fill="#008000"/>
<polygon points="503.2,552.3 507.7,557.0 503.2,561.7 498.7,557.0" fill="#008000"/>
<polygon points="513.9,527.3 518.4,532.0 513.9,536.7 509.4,532.0" fill="#008000"/>
<polyline fill="none" stroke="#000080" stroke-width="1.6" points="87.5,597.0 98.2,596.9 108.8,596.8 119.5,596.7 130.1,596.6 140.8,596.5 151.5,596.4 162.1,596.3 172.8,596.2 183.4,596.1 194.1,592.1 204.8,591.2 215.4,590.3 226.1,589.4 236.7,588.5 247.4,587.6 258.1,586.7 268.7,585.9 279.4,585.0 290.0,583.7 300.7,582.3 311.4,580.6 322.0,578.4 332.7,576.3 343.3,573.7 354.0,571.4 364.7,568.4 375.3,564.8 386.0,560.4 396.6,555.7 407.3,550.2 418.0,543.6 428.6,535.6 439.3,525.5 449.9,512.5"/>
<polygon points="82.6,597.0 90.0,592.7 90.0,601.3" fill="#000080"/>
<polygon points="93.2,596.9 100.6,592.6 100.6,601.2" fill="#000080"/>
<polygon points="103.9,596.8 111.3,592.5 111.3,601.1" fill="#000080"/>
<polygon points="114.5,596.7 121.9,592.4 121.9,601.0" fill="#000080"/>
<polygon points="125.2,596.6 132.6,592.3 132.6,600.9" fill="#000080"/>
<polygon points="135.9,596.5 143.3,592.2 143.3,600.8" fill="#000080"/>
<polygon points="146.5,596.4 153.9,592.1 153.9,600.7" fill="#000080"/>
<polygon points="157.2,596.3 164.6,592.0 164.6,600.6" fill="#000080"/>
<polygon points="167.8,596.2 175.2,591.9 175.2,600.5" fill="#000080"/>
<polygon points="178.5,596.1 185.9,591.8 185.9,600.4" fill="#000080"/>
<polygon points="189.2,592.1 196.6,587.8 196.6,596.4" fill="#000080"/>
<polygon points="199.8,591.2 207.2,586.9 207.2,595.5" fill="#000080"/>
<polygon points="210.5,590.3 217.9,586.0 217.9,594.6" fill="#000080"/>
<polygon points="221.1,589.4 228.5,585.1 228.5,593.7" fill="#000080"/>
<polygon points="231.8,588.5 239.2,584.2 239.2,592.8" fill="#000080"/>
<polygon points="242.5,587.6 249.9,583.3 249.9,591.9" fill="#000080"/>
<polygon points="253.1,586.7 260.5,582.4 260.5,591.0" fill="#000080"/>
<polygon points="263.8,585.9 271.2,581.6 271.2,590.2" fill="#000080"/>
<polygon points="274.4,585.0 281.8,580.7 281.8,589.3" fill="#000080"/>
<polygon points="285.1,583.7 292.5,579.4 292.5,588.0" fill="#000080"/>
<polygon points="295.8,582.3 303.2,578.0 303.2,586.6" fill="#000080"/>
<polygon points="306.4,580.6 313.8,576.3 313.8,584.9" fill="#000080"/>
<polygon points="317.1,578.4 324.5,574.1 324.5,582.7" fill="#000080"/>
<polygon points="327.7,576.3 335.1,572.0 335.1,580.6" fill="#000080"/>
<polygon points="338.4,573.7 345.8,569.4 345.8,578.0" fill="#000080"/>
<polygon points="349.1,571.4 356.5,567.1 356.5,575.7" fill="#000080"/>
<polygon points="359.7,568.4 367.1,564.1 367.1,572.7" fill="#000080"/>
<polygon points="370.4,564.8 377.8,560.5 377.8,569.1" fill="#000080"/>
<polygon points="381.0,560.4 388.4,556.1 388.4,564.7" fill="#000080"/>
<polygon points="391.7,555.7 399.1,551.4 399.1,560.0" fill="#000080"/>
<polygon points="402.4,550.2 409.8,545.9 409.8,554.5" fill="#000080"/>
<polygon points="413.0,543.6 420.4,539.3 420.4,547.9" fill="#000080"/>
<polygon points="423.7,535.6 431.1,531.3 431.1,539.9" fill="#000080"/>
<polygon points="434.3,525.5 441.7,521.2 441.7,529.8" fill="#000080"/>
<polygon points="445.0,512.5 452.4,508.2 452.4,516.8" fill="#000080"/>
<polyline fill="none" stroke="#000080" stroke-width="1.6" points="460.6,570.6 471.3,554.3"/>
<polygon points="455.7,570.6 463.1,566.3 463.1,574.9" fill="#000080"/>
<polygon points="466.3,554.3 473.7,550.0 473.7,558.6" fill="#000080"/>
<polyline fill="none" stroke="#000080" stroke-width="1.6" points="481.9,624.1 492.6,605.0"/>
<polygon points="477.0,624.1 484.4,619.8 484.4,628.4" fill="#000080"/>
<polygon points="487.6,605.0 495.0,600.7 495.0,609.3" fill="#000080"/>
<polygon points="498.3,555.0 505.7,550.7 505.7,559.3" fill="#000080"/>
<polygon points="509.0,529.0 516.4,524.7 516.4,533.3" fill="#000080"/>
<polyline fill="none" stroke="#8000ff" stroke-width="1.6" points="87.5,597.5 98.2,597.4 108.8,597.3 119.5,597.2 130.1,597.1 140.8,597.0 151.5,596.9 162.1,596.8 172.8,596.7 183.4,596.6 194.1,592.5 204.8,591.6 215.4,590.7 226.1,589.8 236.7,588.9 247.4,588.0 258.1,587.1 268.7,586.2 279.4,585.4 290.0,584.1 300.7,582.7 311.4,581.0 322.0,578.8 332.7,576.7 343.3,574.1 354.0,571.7 364.7,568.7 375.3,565.1 386.0,560.7 396.6,556.0 407.3,550.4 418.0,543.8 428.6,535.8 439.3,525.7 449.9,512.7"/>
<polygon points="92.4,597.5 85.0,593.2 85.0,601.8" fill="#8000ff"/>
<polygon points="103.1,597.4 95.7,593.1 95.7,601.7" fill="#8000ff"/>
<polygon points="113.8,597.3 106.4,593.0 106.4,601.6" fill="#8000ff"/>
<polygon points="124.4,597.2 117.0,592.9 117.0,601.5" fill="#8000ff"/>
<polygon points="135.1,597.1 127.7,592.8 127.7,601.4" fill="#8000ff"/>
<polygon points="145.7,597.0 138.3,592.7 138.3,601.3" fill="#8000ff"/>
<polygon points="156.4,596.9 149.0,592.6 149.0,601.2" fill="#8000ff"/>
<polygon points="167.1,596.8 159.7,592.5 159.7,601.1" fill="#8000ff"/>
<polygon points="177.7,596.7 170.3,592.4 170.3,601.0" fill="#8000ff"/>
<polygon points="188.4,596.6 181.0,592.3 181.0,600.9" fill="#8000ff"/>
<polygon points="199.0,592.5 191.6,588.2 191.6,596.8" fill="#8000ff"/>
<polygon points="209.7,591.6 202.3,587.3 202.3,595.9" fill="#8000ff"/>
<polygon points="220.4,590.7 213.0,586.4 213.0,595.0" fill="#8000ff"/>
<polygon points="231.0,589.8 223.6,585.5 223.6,594.1" fill="#8000ff"/>
<polygon points="241.7,588.9 234.3,584.6 234.3,593.2" fill="#8000ff"/>
<polygon points="252.3,588.0 244.9,583.7 244.9,592.3" fill="#8000ff"/>
<polygon points="263.0,587.1 255.6,582.8 255.6,591.4" fill="#8000ff"/>
<polygon points="273.7,586.2 266.3,581.9 266.3,590.5" fill="#8000ff"/>
<polygon points="284.3,585.4 276.9,581.1 276.9,589.7" fill="#8000ff"/>
<polygon points="295.0,584.1 287.6,579.8 287.6,588.4" fill="#8000ff"/>
<polygon points="305.6,582.7 298.2,578.4 298.2,587.0" fill="#8000ff"/>
<polygon points="316.3,581.0 308.9,576.7 308.9,585.3" fill="#8000ff"/>
<polygon points="327.0,578.8 319.6,574.5 319.6,583.1" fill="#8000ff"/>
<polygon points="337.6,576.7 330.2,572.4 330.2,581.0" fill="#8000ff"/>
<polygon points="348.3,574.1 340.9,569.8 340.9,578.4" fill="#8000ff"/>
<polygon points="358.9,571.7 351.5,567.4 351.5,576.0" fill="#8000ff"/>
<polygon points="369.6,568.7 362.2,564.4 362.2,573.0" fill="#8000ff"/>
<polygon points="380.3,565.1 372.9,560.8 372.9,569.4" fill="#8000ff"/>
<polygon points="390.9,560.7 383.5,556.4 383.5,565.0" fill="#8000ff"/>
<polygon points="401.6,556.0 394.2,551.7 394.2,560.3" fill="#8000ff"/>
<polygon points="412.2,550.4 404.8,546.1 404.8,554.7" fill="#8000ff"/>
<polygon points="422.9,543.8 415.5,539.5 415.5,548.1" fill="#8000ff"/>
<polygon points="433.6,535.8 426.2,531.5 426.2,540.1" fill="#8000ff"/>
<polygon points="444.2,525.7 436.8,521.4 436.8,530.0" fill="#8000ff"/>
<polygon points="454.9,512.7 447.5,508.4 447.5,517.0" fill="#8000ff"/>
<polyline fill="none" stroke="#8000ff" stroke-width="1.6" points="460.6,571.3 471.3,555.0"/>
<polygon points="465.5,571.3 458.1,567.0 458.1,575.6" fill="#8000ff"/>
<polygon points="476.2,555.0 468.8,550.7 468.8,559.3" fill="#8000ff"/>
<polyline fill="none" stroke="#8000ff" stroke-width="1.6" points="481.9,624.7 492.6,605.7"/>
<polygon points="486.9,624.7 479.5,620.4 479.5,629.0" fill="#8000ff"/>
<polygon points="497.5,605.7 490.1,601.4 490.1,610.0" fill="#8000ff"/>
<polygon points="508.2,552.0 500.8,547.7 500.8,556.3" fill="#8000ff"/>
<polygon points="518.8,526.0 511.4,521.7 511.4,530.3" fill="#8000ff"/>
<polyline fill="none" stroke="#800080" stroke-width="1.6" points="87.5,595.4 98.2,595.2 108.8,595.1 119.5,594.9 130.1,594.8 140.8,594.6 151.5,594.5 162.1,594.3 172.8,594.2 183.4,594.0 194.1,590.2 204.8,589.2 215.4,588.1 226.1,587.1 236.7,586.1 247.4,585.1 258.1,584.0 268.7,583.0 279.4,582.0 290.0,580.5 300.7,579.0 311.4,577.2 322.0,574.9 332.7,572.7 343.3,570.0 354.0,567.5 364.7,564.5 375.3,560.8 386.0,556.3 396.6,551.5 407.3,545.9 418.0,539.2 428.6,531.0 439.3,520.5 449.9,506.8"/>
<polygon points="87.5,599.5 83.9,597.5 83.9,593.3 87.5,591.2 91.1,593.3 91.1,597.5" fill="#800080"/>
<polygon points="98.2,599.4 94.6,597.3 94.6,593.2 98.2,591.1 101.8,593.2 101.8,597.3" fill="#800080"/>
<polygon points="108.8,599.2 105.2,597.2 105.2,593.0 108.8,590.9 112.4,593.0 112.4,597.2" fill="#800080"/>
<polygon points="119.5,599.1 115.9,597.0 115.9,592.9 119.5,590.8 123.1,592.9 123.1,597.0" fill="#800080"/>
<polygon points="130.1,598.9 126.5,596.9 126.5,592.7 130.1,590.6 133.7,592.7 133.7,596.9" fill="#800080"/>
<polygon points="140.8,598.8 137.2,596.7 137.2,592.5 140.8,590.5 144.4,592.5 144.4,596.7" fill="#800080"/>
<polygon points="151.5,598.6 147.9,596.5 147.9,592.4 151.5,590.3 155.1,592.4 155.1,596.5" fill="#800080"/>
<polygon points="162.1,598.5 158.5,596.4 158.5,592.2 162.1,590.2 165.7,592.2 165.7,596.4" fill="#800080"/>
<polygon points="172.8,598.3 169.2,596.2 169.2,592.1 172.8,590.0 176.4,592.1 176.4,596.2" fill="#800080"/>
<polygon points="183.4,598.1 179.8,596.1 179.8,591.9 183.4,589.9 187.0,591.9 187.0,596.1" fill="#800080"/>
<polygon points="194.1,594.4 190.5,592.3 190.5,588.1 194.1,586.1 197.7,588.1 197.7,592.3" fill="#800080"/>
<polygon points="204.8,593.3 201.2,591.3 201.2,587.1 204.8,585.0 208.4,587.1 208.4,591.3" fill="#800080"/>
<polygon points="215.4,592.3 211.8,590.2 211.8,586.1 215.4,584.0 219.0,586.1 219.0,590.2" fill="#800080"/>
<polygon points="226.1,591.3 222.5,589.2 222.5,585.0 226.1,583.0 229.7,585.0 229.7,589.2" fill="#800080"/>
<polygon points="236.7,590.2 233.1,588.2 233.1,584.0 236.7,582.0 240.3,584.0 240.3,588.2" fill="#800080"/>
<polygon points="247.4,589.2 243.8,587.2 243.8,583.0 247.4,580.9 251.0,583.0 251.0,587.2" fill="#800080"/>
<polygon points="258.1,588.2 254.5,586.1 254.5,582.0 258.1,579.9 261.7,582.0 261.7,586.1" fill="#800080"/>
<polygon points="268.7,587.2 265.1,585.1 265.1,580.9 268.7,578.9 272.3,580.9 272.3,585.1" fill="#800080"/>
<polygon points="279.4,586.1 275.8,584.1 275.8,579.9 279.4,577.9 283.0,579.9 283.0,584.1" fill="#800080"/>
<polygon points="290.0,584.6 286.4,582.6 286.4,578.4 290.0,576.4 293.6,578.4 293.6,582.6" fill="#800080"/>
<polygon points="300.7,583.1 297.1,581.1 297.1,576.9 300.7,574.9 304.3,576.9 304.3,581.1" fill="#800080"/>
<polygon points="311.4,581.4 307.8,579.3 307.8,575.1 311.4,573.1 315.0,575.1 315.0,579.3" fill="#800080"/>
<polygon points="322.0,579.0 318.4,577.0 318.4,572.8 322.0,570.8 325.6,572.8 325.6,577.0" fill="#800080"/>
<polygon points="332.7,576.9 329.1,574.8 329.1,570.6 332.7,568.6 336.3,570.6 336.3,574.8" fill="#800080"/>
<polygon points="343.3,574.1 339.7,572.1 339.7,567.9 343.3,565.9 346.9,567.9 346.9,572.1" fill="#800080"/>
<polygon points="354.0,571.6 350.4,569.6 350.4,565.4 354.0,563.4 357.6,565.4 357.6,569.6" fill="#800080"/>
<polygon points="364.7,568.6 361.1,566.6 361.1,562.4 364.7,560.4 368.3,562.4 368.3,566.6" fill="#800080"/>
<polygon points="375.3,564.9 371.7,562.9 371.7,558.7 375.3,556.6 378.9,558.7 378.9,562.9" fill="#800080"/>
<polygon points="386.0,560.4 382.4,558.4 382.4,554.2 386.0,552.1 389.6,554.2 389.6,558.4" fill="#800080"/>
<polygon points="396.6,555.6 393.0,553.6 393.0,549.4 396.6,547.4 400.2,549.4 400.2,553.6" fill="#800080"/>
<polygon points="407.3,550.0 403.7,548.0 403.7,543.8 407.3,541.8 410.9,543.8 410.9,548.0" fill="#800080"/>
<polygon points="418.0,543.4 414.4,541.3 414.4,537.1 418.0,535.1 421.6,537.1 421.6,541.3" fill="#800080"/>
<polygon points="428.6,535.1 425.0,533.1 425.0,528.9 428.6,526.9 432.2,528.9 432.2,533.1" fill="#800080"/>
<polygon points="439.3,524.6 435.7,522.6 435.7,518.4 439.3,516.4 442.9,518.4 442.9,522.6" fill="#800080"/>
<polygon points="449.9,510.9 446.3,508.9 446.3,504.7 449.9,502.7 453.5,504.7 453.5,508.9" fill="#800080"/>
<polyline fill="none" stroke="#800080" stroke-width="1.6" points="460.6,566.0 471.3,549.2"/>
<polygon points="460.6,570.1 457.0,568.1 457.0,563.9 460.6,561.9 464.2,563.9 464.2,568.1" fill="#800080"/>
<polygon points="471.3,553.4 467.7,551.3 467.7,547.1 471.3,545.1 474.9,547.1 474.9,551.3" fill="#800080"/>
<polyline fill="none" stroke="#800080" stroke-width="1.6" points="481.9,620.3 492.6,600.9"/>
<polygon points="481.9,624.4 478.3,622.3 478.3,618.2 481.9,616.1 485.5,618.2 485.5,622.3" fill="#800080"/>
<polygon points="492.6,605.1 489.0,603.0 489.0,598.9 492.6,596.8 496.2,598.9 496.2,603.0" fill="#800080"/>
<polygon points="503.2,554.1 499.6,552.1 499.6,547.9 503.2,545.9 506.8,547.9 506.8,552.1" fill="#800080"/>
<polygon points="513.9,527.4 510.3,525.3 510.3,521.1 513.9,519.1 517.5,521.1 517.5,525.3" fill="#800080"/>
<polyline fill="none" stroke="#800000" stroke-width="1.6" points="87.5,596.7 98.2,596.6 108.8,596.5 119.5,596.4 130.1,596.3 140.8,596.2 151.5,596.1 162.1,596.0 172.8,595.9 183.4,595.8 194.1,591.9 204.8,591.0 215.4,590.0 226.1,589.1 236.7,588.2 247.4,587.3 258.1,586.4 268.7,585.5 279.4,584.6 290.0,583.3 300.7,582.0 311.4,580.2 322.0,578.1 332.7,575.9 343.3,573.4 354.0,571.0 364.7,568.0 375.3,564.4 386.0,560.0 396.6,555.3 407.3,549.8 418.0,543.2 428.6,535.2 439.3,525.0 449.9,512.0"/>
<polygon points="87.5,592.1 88.6,595.2 91.9,595.3 89.3,597.3 90.2,600.4 87.5,598.6 84.8,600.4 85.7,597.3 83.1,595.3 86.4,595.2" fill="#800000"/>
<polygon points="98.2,592.0 99.3,595.1 102.5,595.2 100.0,597.2 100.9,600.3 98.2,598.5 95.5,600.3 96.4,597.2 93.8,595.2 97.0,595.1" fill="#800000"/>
<polygon points="108.8,591.9 109.9,595.0 113.2,595.1 110.6,597.1 111.5,600.2 108.8,598.4 106.1,600.2 107.0,597.1 104.4,595.1 107.7,595.0" fill="#800000"/>
<polygon points="119.5,591.8 120.6,594.9 123.9,595.0 121.3,597.0 122.2,600.1 119.5,598.3 116.8,600.1 117.7,597.0 115.1,595.0 118.4,594.9" fill="#800000"/>
<polygon points="130.1,591.7 131.3,594.8 134.5,594.9 131.9,596.9 132.8,600.0 130.1,598.2 127.4,600.0 128.3,596.9 125.8,594.9 129.0,594.8" fill="#800000"/>
<polygon points="140.8,591.6 141.9,594.7 145.2,594.8 142.6,596.8 143.5,599.9 140.8,598.1 138.1,599.9 139.0,596.8 136.4,594.8 139.7,594.7" fill="#800000"/>
<polygon points="151.5,591.5 152.6,594.6 155.8,594.7 153.3,596.7 154.2,599.9 151.5,598.0 148.8,599.9 149.7,596.7 147.1,594.7 150.3,594.6" fill="#800000"/>
<polygon points="162.1,591.4 163.2,594.5 166.5,594.6 163.9,596.6 164.8,599.8 162.1,597.9 159.4,599.8 160.3,596.6 157.7,594.6 161.0,594.5" fill="#800000"/>
<polygon points="172.8,591.3 173.9,594.4 177.2,594.5 174.6,596.5 175.5,599.7 172.8,597.8 170.1,599.7 171.0,596.5 168.4,594.5 171.7,594.4" fill="#800000"/>
<polygon points="183.4,591.2 184.6,594.3 187.8,594.4 185.2,596.4 186.1,599.6 183.4,597.7 180.7,599.6 181.6,596.4 179.1,594.4 182.3,594.3" fill="#800000"/>
<polygon points="194.1,587.3 195.2,590.3 198.5,590.4 195.9,592.5 196.8,595.6 194.1,593.8 191.4,595.6 192.3,592.5 189.7,590.4 193.0,590.3" fill="#800000"/>
<polygon points="204.8,586.4 205.9,589.4 209.1,589.5 206.6,591.5 207.5,594.7 204.8,592.9 202.1,594.7 203.0,591.5 200.4,589.5 203.6,589.4" fill="#800000"/>
<polygon points="215.4,585.4 216.5,588.5 219.8,588.6 217.2,590.6 218.1,593.8 215.4,591.9 212.7,593.8 213.6,590.6 211.0,588.6 214.3,588.5" fill="#800000"/>
<polygon points="226.1,584.5 227.2,587.6 230.5,587.7 227.9,589.7 228.8,592.9 226.1,591.0 223.4,592.9 224.3,589.7 221.7,587.7 225.0,587.6" fill="#800000"/>
<polygon points="236.7,583.6 237.9,586.7 241.1,586.8 238.5,588.8 239.4,592.0 236.7,590.1 234.0,592.0 234.9,588.8 232.4,586.8 235.6,586.7" fill="#800000"/>
<polygon points="247.4,582.7 248.5,585.8 251.8,585.9 249.2,587.9 250.1,591.1 247.4,589.2 244.7,591.1 245.6,587.9 243.0,585.9 246.3,585.8" fill="#800000"/>
<polygon points="258.1,581.8 259.2,584.9 262.4,585.0 259.9,587.0 260.8,590.2 258.1,588.3 255.4,590.2 256.3,587.0 253.7,585.0 256.9,584.9" fill="#800000"/>
<polygon points="268.7,580.9 269.8,584.0 273.1,584.1 270.5,586.1 271.4,589.3 268.7,587.4 266.0,589.3 266.9,586.1 264.3,584.1 267.6,584.0" fill="#800000"/>
<polygon points="279.4,580.0 280.5,583.1 283.8,583.2 281.2,585.2 282.1,588.4 279.4,586.5 276.7,588.4 277.6,585.2 275.0,583.2 278.3,583.1" fill="#800000"/>
<polygon points="290.0,578.7 291.2,581.8 294.4,581.9 291.8,583.9 292.7,587.0 290.0,585.2 287.3,587.0 288.2,583.9 285.7,581.9 288.9,581.8" fill="#800000"/>
<polygon points="300.7,577.4 301.8,580.4 305.1,580.5 302.5,582.5 303.4,585.7 300.7,583.9 298.0,585.7 298.9,582.5 296.3,580.5 299.6,580.4" fill="#800000"/>
<polygon points="311.4,575.6 312.5,578.7 315.7,578.8 313.2,580.8 314.1,584.0 311.4,582.1 308.7,584.0 309.6,580.8 307.0,578.8 310.2,578.7" fill="#800000"/>
<polygon points="322.0,573.5 323.1,576.5 326.4,576.7 323.8,578.7 324.7,581.8 322.0,580.0 319.3,581.8 320.2,578.7 317.6,576.7 320.9,576.5" fill="#800000"/>
<polygon points="332.7,571.3 333.8,574.4 337.1,574.5 334.5,576.5 335.4,579.7 332.7,577.8 330.0,579.7 330.9,576.5 328.3,574.5 331.6,574.4" fill="#800000"/>
<polygon points="343.3,568.8 344.5,571.8 347.7,572.0 345.1,574.0 346.0,577.1 343.3,575.3 340.6,577.1 341.5,574.0 339.0,572.0 342.2,571.8" fill="#800000"/>
<polygon points="354.0,566.4 355.1,569.4 358.4,569.6 355.8,571.6 356.7,574.7 354.0,572.9 351.3,574.7 352.2,571.6 349.6,569.6 352.9,569.4" fill="#800000"/>
<polygon points="364.7,563.4 365.8,566.5 369.0,566.6 366.5,568.6 367.4,571.8 364.7,569.9 362.0,571.8 362.9,568.6 360.3,566.6 363.5,566.5" fill="#800000"/>
<polygon points="375.3,559.8 376.4,562.9 379.7,563.0 377.1,565.0 378.0,568.1 375.3,566.3 372.6,568.1 373.5,565.0 370.9,563.0 374.2,562.9" fill="#800000"/>
<polygon points="386.0,555.4 387.1,558.5 390.4,558.6 387.8,560.6 388.7,563.7 386.0,561.9 383.3,563.7 384.2,560.6 381.6,558.6 384.9,558.5" fill="#800000"/>
<polygon points="396.6,550.7 397.8,553.8 401.0,553.9 398.4,555.9 399.3,559.1 396.6,557.2 393.9,559.1 394.8,555.9 392.3,553.9 395.5,553.8" fill="#800000"/>
<polygon points="407.3,545.2 408.4,548.3 411.7,548.4 409.1,550.4 410.0,553.5 407.3,551.7 404.6,553.5 405.5,550.4 402.9,548.4 406.2,548.3" fill="#800000"/>
<polygon points="418.0,538.6 419.1,541.6 422.3,541.8 419.8,543.8 420.7,546.9 418.0,545.1 415.3,546.9 416.2,543.8 413.6,541.8 416.8,541.6" fill="#800000"/>
<polygon points="428.6,530.6 429.7,533.7 433.0,533.8 430.4,535.8 431.3,538.9 428.6,537.1 425.9,538.9 426.8,535.8 424.2,533.8 427.5,533.7" fill="#800000"/>
<polygon points="439.3,520.4 440.4,523.5 443.7,523.6 441.1,525.6 442.0,528.8 439.3,526.9 436.6,528.8 437.5,525.6 434.9,523.6 438.2,523.5" fill="#800000"/>
<polygon points="449.9,507.4 451.1,510.5 454.3,510.6 451.7,512.6 452.6,515.7 449.9,513.9 447.2,515.7 448.1,512.6 445.6,510.6 448.8,510.5" fill="#800000"/>
<polyline fill="none" stroke="#800000" stroke-width="1.6" points="460.6,570.2 471.3,553.9"/>
<polygon points="460.6,565.6 461.7,568.7 465.0,568.8 462.4,570.8 463.3,573.9 460.6,572.1 457.9,573.9 458.8,570.8 456.2,568.8 459.5,568.7" fill="#800000"/>
<polygon points="471.3,549.3 472.4,552.3 475.6,552.4 473.1,554.4 474.0,557.6 471.3,555.8 468.6,557.6 469.5,554.4 466.9,552.4 470.1,552.3" fill="#800000"/>
<polyline fill="none" stroke="#800000" stroke-width="1.6" points="481.9,623.0 492.6,603.9"/>
<polygon points="481.9,618.4 483.0,621.5 486.3,621.6 483.7,623.6 484.6,626.7 481.9,624.9 479.2,626.7 480.1,623.6 477.5,621.6 480.8,621.5" fill="#800000"/>
<polygon points="492.6,599.3 493.7,602.4 497.0,602.5 494.4,604.5 495.3,607.6 492.6,605.8 489.9,607.6 490.8,604.5 488.2,602.5 491.5,602.4" fill="#800000"/>
<polygon points="503.2,549.4 504.4,552.5 507.6,552.6 505.0,554.6 505.9,557.7 503.2,555.9 500.5,557.7 501.4,554.6 498.9,552.6 502.1,552.5" fill="#800000"/>
<polygon points="513.9,523.4 515.0,526.5 518.3,526.6 515.7,528.6 516.6,531.7 513.9,529.9 511.2,531.7 512.1,528.6 509.5,526.6 512.8,526.5" fill="#800000"/>
<polyline fill="none" stroke="#808000" stroke-width="1.6" points="87.5,596.1 98.2,596.0 108.8,595.9 119.5,595.8 130.1,595.7 140.8,595.6 151.5,595.5 162.1,595.4 172.8,595.3 183.4,595.2 194.1,591.3 204.8,590.4 215.4,589.5 226.1,588.5 236.7,587.6 247.4,586.7 258.1,585.8 268.7,584.9 279.4,584.0 290.0,582.7 300.7,581.3 311.4,579.6 322.0,577.4 332.7,575.3 343.3,572.7 354.0,570.3 364.7,567.4 375.3,563.8 386.0,559.4 396.6,554.7 407.3,549.2 418.0,542.6 428.6,534.6 439.3,524.4 449.9,511.3"/>
<polygon points="87.5,591.7 91.7,594.7 90.1,599.6 84.9,599.6 83.3,594.7" fill="#808000"/>
<polygon points="98.2,591.6 102.3,594.6 100.7,599.5 95.6,599.5 94.0,594.6" fill="#808000"/>
<polygon points="108.8,591.5 113.0,594.5 111.4,599.4 106.2,599.4 104.6,594.5" fill="#808000"/>
<polygon points="119.5,591.4 123.7,594.4 122.1,599.3 116.9,599.3 115.3,594.4" fill="#808000"/>
<polygon points="130.1,591.3 134.3,594.3 132.7,599.2 127.6,599.2 126.0,594.3" fill="#808000"/>
<polygon points="140.8,591.2 145.0,594.2 143.4,599.1 138.2,599.1 136.6,594.2" fill="#808000"/>
<polygon points="151.5,591.1 155.6,594.1 154.0,599.1 148.9,599.1 147.3,594.1" fill="#808000"/>
<polygon points="162.1,591.0 166.3,594.0 164.7,599.0 159.5,599.0 157.9,594.0" fill="#808000"/>
<polygon points="172.8,590.9 177.0,593.9 175.4,598.9 170.2,598.9 168.6,593.9" fill="#808000"/>
<polygon points="183.4,590.8 187.6,593.9 186.0,598.8 180.9,598.8 179.3,593.9" fill="#808000"/>
<polygon points="194.1,586.9 198.3,590.0 196.7,594.9 191.5,594.9 189.9,590.0" fill="#808000"/>
<polygon points="204.8,586.0 208.9,589.0 207.3,594.0 202.2,594.0 200.6,589.0" fill="#808000"/>
<polygon points="215.4,585.1 219.6,588.1 218.0,593.0 212.8,593.0 211.2,588.1" fill="#808000"/>
<polygon points="226.1,584.1 230.3,587.2 228.7,592.1 223.5,592.1 221.9,587.2" fill="#808000"/>
<polygon points="236.7,583.2 240.9,586.3 239.3,591.2 234.2,591.2 232.6,586.3" fill="#808000"/>
<polygon points="247.4,582.3 251.6,585.4 250.0,590.3 244.8,590.3 243.2,585.4" fill="#808000"/>
<polygon points="258.1,581.4 262.2,584.5 260.6,589.4 255.5,589.4 253.9,584.5" fill="#808000"/>
<polygon points="268.7,580.5 272.9,583.6 271.3,588.5 266.1,588.5 264.5,583.6" fill="#808000"/>
<polygon points="279.4,579.6 283.6,582.7 282.0,587.6 276.8,587.6 275.2,582.7" fill="#808000"/>
<polygon points="290.0,578.3 294.2,581.3 292.6,586.2 287.5,586.2 285.9,581.3" fill="#808000"/>
<polygon points="300.7,576.9 304.9,579.9 303.3,584.8 298.1,584.8 296.5,579.9" fill="#808000"/>
<polygon points="311.4,575.2 315.5,578.2 313.9,583.1 308.8,583.1 307.2,578.2" fill="#808000"/>
<polygon points="322.0,573.0 326.2,576.1 324.6,581.0 319.4,581.0 317.8,576.1" fill="#808000"/>
<polygon points="332.7,570.9 336.9,573.9 335.3,578.8 330.1,578.8 328.5,573.9" fill="#808000"/>
<polygon points="343.3,568.3 347.5,571.4 345.9,576.3 340.8,576.3 339.2,571.4" fill="#808000"/>
<polygon points="354.0,565.9 358.2,569.0 356.6,573.9 351.4,573.9 349.8,569.0" fill="#808000"/>
<polygon points="364.7,563.0 368.8,566.0 367.2,571.0 362.1,571.0 360.5,566.0" fill="#808000"/>
<polygon points="375.3,559.4 379.5,562.4 377.9,567.3 372.7,567.3 371.1,562.4" fill="#808000"/>
<polygon points="386.0,555.0 390.2,558.0 388.6,563.0 383.4,563.0 381.8,558.0" fill="#808000"/>
<polygon points="396.6,550.3 400.8,553.4 399.2,558.3 394.1,558.3 392.5,553.4" fill="#808000"/>
<polygon points="407.3,544.8 411.5,547.8 409.9,552.7 404.7,552.7 403.1,547.8" fill="#808000"/>
<polygon points="418.0,538.2 422.1,541.2 420.5,546.1 415.4,546.1 413.8,541.2" fill="#808000"/>
<polygon points="428.6,530.2 432.8,533.2 431.2,538.2 426.0,538.2 424.4,533.2" fill="#808000"/>
<polygon points="439.3,520.0 443.5,523.0 441.9,528.0 436.7,528.0 435.1,523.0" fill="#808000"/>
<polygon points="449.9,506.9 454.1,509.9 452.5,514.8 447.4,514.8 445.8,509.9" fill="#808000"/>
<polyline fill="none" stroke="#808000" stroke-width="1.6" points="460.6,570.2 471.3,553.9"/>
<polygon points="460.6,565.8 464.8,568.9 463.2,573.8 458.0,573.8 456.4,568.9" fill="#808000"/>
<polygon points="471.3,549.5 475.4,552.5 473.8,557.4 468.7,557.4 467.1,552.5" fill="#808000"/>
<polyline fill="none" stroke="#808000" stroke-width="1.6" points="481.9,623.0 492.6,603.9"/>
<polygon points="481.9,618.6 486.1,621.7 484.5,626.6 479.3,626.6 477.7,621.7" fill="#808000"/>
<polygon points="492.6,599.5 496.8,602.5 495.2,607.5 490.0,607.5 488.4,602.5" fill="#808000"/>
<polygon points="503.2,551.5 507.4,554.5 505.8,559.5 500.7,559.5 499.1,554.5" fill="#808000"/>
<polygon points="513.9,526.7 518.1,529.7 516.5,534.7 511.3,534.7 509.7,529.7" fill="#808000"/>
<polyline fill="none" stroke="#2b64ae" stroke-width="1.6" points="87.5,596.7 98.2,596.6 108.8,596.5 119.5,596.4 130.1,596.2 140.8,596.1 151.5,596.0 162.1,595.9 172.8,595.7 183.4,595.6 194.1,591.6 204.8,590.7 215.4,589.8 226.1,588.8 236.7,587.9 247.4,586.9 258.1,586.0 268.7,585.1 279.4,584.1 290.0,582.8 300.7,581.3 311.4,579.6 322.0,577.4 332.7,575.2 343.3,572.6 354.0,570.2 364.7,567.2 375.3,563.5 386.0,559.1 396.6,554.4 407.3,548.8 418.0,542.1 428.6,534.1 439.3,523.8"/>
<circle cx="87.5" cy="596.7" r="3.7" fill="#2b64ae"/><circle cx="86.5" cy="595.5" r="1.3" fill="#9cc3ea"/>
<circle cx="98.2" cy="596.6" r="3.7" fill="#2b64ae"/><circle cx="97.2" cy="595.4" r="1.3" fill="#9cc3ea"/>
<circle cx="108.8" cy="596.5" r="3.7" fill="#2b64ae"/><circle cx="107.8" cy="595.3" r="1.3" fill="#9cc3ea"/>
<circle cx="119.5" cy="596.4" r="3.7" fill="#2b64ae"/><circle cx="118.5" cy="595.2" r="1.3" fill="#9cc3ea"/>
<circle cx="130.1" cy="596.2" r="3.7" fill="#2b64ae"/><circle cx="129.1" cy="595.0" r="1.3" fill="#9cc3ea"/>
<circle cx="140.8" cy="596.1" r="3.7" fill="#2b64ae"/><circle cx="139.8" cy="594.9" r="1.3" fill="#9cc3ea"/>
<circle cx="151.5" cy="596.0" r="3.7" fill="#2b64ae"/><circle cx="150.5" cy="594.8" r="1.3" fill="#9cc3ea"/>
<circle cx="162.1" cy="595.9" r="3.7" fill="#2b64ae"/><circle cx="161.1" cy="594.7" r="1.3" fill="#9cc3ea"/>
<circle cx="172.8" cy="595.7" r="3.7" fill="#2b64ae"/><circle cx="171.8" cy="594.5" r="1.3" fill="#9cc3ea"/>
<circle cx="183.4" cy="595.6" r="3.7" fill="#2b64ae"/><circle cx="182.4" cy="594.4" r="1.3" fill="#9cc3ea"/>
<circle cx="194.1" cy="591.6" r="3.7" fill="#2b64ae"/><circle cx="193.1" cy="590.4" r="1.3" fill="#9cc3ea"/>
<circle cx="204.8" cy="590.7" r="3.7" fill="#2b64ae"/><circle cx="203.8" cy="589.5" r="1.3" fill="#9cc3ea"/>
<circle cx="215.4" cy="589.8" r="3.7" fill="#2b64ae"/><circle cx="214.4" cy="588.6" r="1.3" fill="#9cc3ea"/>
<circle cx="226.1" cy="588.8" r="3.7" fill="#2b64ae"/><circle cx="225.1" cy="587.6" r="1.3" fill="#9cc3ea"/>
<circle cx="236.7" cy="587.9" r="3.7" fill="#2b64ae"/><circle cx="235.7" cy="586.7" r="1.3" fill="#9cc3ea"/>
<circle cx="247.4" cy="586.9" r="3.7" fill="#2b64ae"/><circle cx="246.4" cy="585.7" r="1.3" fill="#9cc3ea"/>
<circle cx="258.1" cy="586.0" r="3.7" fill="#2b64ae"/><circle cx="257.1" cy="584.8" r="1.3" fill="#9cc3ea"/>
<circle cx="268.7" cy="585.1" r="3.7" fill="#2b64ae"/><circle cx="267.7" cy="583.9" r="1.3" fill="#9cc3ea"/>
<circle cx="279.4" cy="584.1" r="3.7" fill="#2b64ae"/><circle cx="278.4" cy="582.9" r="1.3" fill="#9cc3ea"/>
<circle cx="290.0" cy="582.8" r="3.7" fill="#2b64ae"/><circle cx="289.0" cy="581.6" r="1.3" fill="#9cc3ea"/>
<circle cx="300.7" cy="581.3" r="3.7" fill="#2b64ae"/><circle cx="299.7" cy="580.1" r="1.3" fill="#9cc3ea"/>
<circle cx="311.4" cy="579.6" r="3.7" fill="#2b64ae"/><circle cx="310.4" cy="578.4" r="1.3" fill="#9cc3ea"/>
<circle cx="322.0" cy="577.4" r="3.7" fill="#2b64ae"/><circle cx="321.0" cy="576.2" r="1.3" fill="#9cc3ea"/>
<circle cx="332.7" cy="575.2" r="3.7" fill="#2b64ae"/><circle cx="331.7" cy="574.0" r="1.3" fill="#9cc3ea"/>
<circle cx="343.3" cy="572.6" r="3.7" fill="#2b64ae"/><circle cx="342.3" cy="571.4" r="1.3" fill="#9cc3ea"/>
<circle cx="354.0" cy="570.2" r="3.7" fill="#2b64ae"/><circle cx="353.0" cy="569.0" r="1.3" fill="#9cc3ea"/>
<circle cx="364.7" cy="567.2" r="3.7" fill="#2b64ae"/><circle cx="363.7" cy="566.0" r="1.3" fill="#9cc3ea"/>
<circle cx="375.3" cy="563.5" r="3.7" fill="#2b64ae"/><circle cx="374.3" cy="562.3" r="1.3" fill="#9cc3ea"/>
<circle cx="386.0" cy="559.1" r="3.7" fill="#2b64ae"/><circle cx="385.0" cy="557.9" r="1.3" fill="#9cc3ea"/>
<circle cx="396.6" cy="554.4" r="3.7" fill="#2b64ae"/><circle cx="395.6" cy="553.2" r="1.3" fill="#9cc3ea"/>
<circle cx="407.3" cy="548.8" r="3.7" fill="#2b64ae"/><circle cx="406.3" cy="547.6" r="1.3" fill="#9cc3ea"/>
<circle cx="418.0" cy="542.1" r="3.7" fill="#2b64ae"/><circle cx="417.0" cy="540.9" r="1.3" fill="#9cc3ea"/>
<circle cx="428.6" cy="534.1" r="3.7" fill="#2b64ae"/><circle cx="427.6" cy="532.9" r="1.3" fill="#9cc3ea"/>
<circle cx="439.3" cy="523.8" r="3.7" fill="#2b64ae"/><circle cx="438.3" cy="522.6" r="1.3" fill="#9cc3ea"/>
<polyline fill="none" stroke="#2b64ae" stroke-width="1.6" points="449.9,581.2 460.6,567.3 471.3,550.6"/>
<circle cx="449.9" cy="581.2" r="3.7" fill="#2b64ae"/><circle cx="448.9" cy="580.0" r="1.3" fill="#9cc3ea"/>
<circle cx="460.6" cy="567.3" r="3.7" fill="#2b64ae"/><circle cx="459.6" cy="566.1" r="1.3" fill="#9cc3ea"/>
<circle cx="471.3" cy="550.6" r="3.7" fill="#2b64ae"/><circle cx="470.3" cy="549.4" r="1.3" fill="#9cc3ea"/>
<polyline fill="none" stroke="#2b64ae" stroke-width="1.6" points="471.3,635.8 481.9,622.5 492.6,602.0"/>
<circle cx="471.3" cy="635.8" r="3.7" fill="#2b64ae"/><circle cx="470.3" cy="634.6" r="1.3" fill="#9cc3ea"/>
<circle cx="481.9" cy="622.5" r="3.7" fill="#2b64ae"/><circle cx="480.9" cy="621.3" r="1.3" fill="#9cc3ea"/>
<circle cx="492.6" cy="602.0" r="3.7" fill="#2b64ae"/><circle cx="491.6" cy="600.8" r="1.3" fill="#9cc3ea"/>
<circle cx="503.2" cy="559.7" r="3.7" fill="#2b64ae"/><circle cx="502.2" cy="558.5" r="1.3" fill="#9cc3ea"/>
<circle cx="513.9" cy="537.8" r="3.7" fill="#2b64ae"/><circle cx="512.9" cy="536.6" r="1.3" fill="#9cc3ea"/>
<polyline fill="none" stroke="#229c9f" stroke-width="1.6" points="87.5,596.3 98.2,596.2 108.8,596.1 119.5,595.9 130.1,595.8 140.8,595.7 151.5,595.5 162.1,595.4 172.8,595.3 183.4,595.2 194.1,591.2 204.8,590.3 215.4,589.3 226.1,588.4 236.7,587.4 247.4,586.4 258.1,585.5 268.7,584.5 279.4,583.6 290.0,582.2 300.7,580.7 311.4,579.0 322.0,576.7 332.7,574.6 343.3,571.9 354.0,569.5 364.7,566.5 375.3,562.8 386.0,558.4 396.6,553.6 407.3,548.1 418.0,541.4 428.6,533.3 439.3,523.0 449.9,509.6"/>
<path d="M83.7 596.3H91.3M87.5 592.5V600.1" stroke="#229c9f" stroke-width="1" fill="none"/>
<path d="M94.4 596.2H102.0M98.2 592.4V600.0" stroke="#229c9f" stroke-width="1" fill="none"/>
<path d="M105.0 596.1H112.6M108.8 592.3V599.9" stroke="#229c9f" stroke-width="1" fill="none"/>
<path d="M115.7 595.9H123.3M119.5 592.1V599.7" stroke="#229c9f" stroke-width="1" fill="none"/>
<path d="M126.3 595.8H133.9M130.1 592.0V599.6" stroke="#229c9f" stroke-width="1" fill="none"/>
<path d="M137.0 595.7H144.6M140.8 591.9V599.5" stroke="#229c9f" stroke-width="1" fill="none"/>
<path d="M147.7 595.5H155.3M151.5 591.7V599.3" stroke="#229c9f" stroke-width="1" fill="none"/>
<path d="M158.3 595.4H165.9M162.1 591.6V599.2" stroke="#229c9f" stroke-width="1" fill="none"/>
<path d="M169.0 595.3H176.6M172.8 591.5V599.1" stroke="#229c9f" stroke-width="1" fill="none"/>
<path d="M179.6 595.2H187.2M183.4 591.4V599.0" stroke="#229c9f" stroke-width="1" fill="none"/>
<path d="M190.3 591.2H197.9M194.1 587.4V595.0" stroke="#229c9f" stroke-width="1" fill="none"/>
<path d="M201.0 590.3H208.6M204.8 586.5V594.1" stroke="#229c9f" stroke-width="1" fill="none"/>
<path d="M211.6 589.3H219.2M215.4 585.5V593.1" stroke="#229c9f" stroke-width="1" fill="none"/>
<path d="M222.3 588.4H229.9M226.1 584.6V592.2" stroke="#229c9f" stroke-width="1" fill="none"/>
<path d="M232.9 587.4H240.5M236.7 583.6V591.2" stroke="#229c9f" stroke-width="1" fill="none"/>
<path d="M243.6 586.4H251.2M247.4 582.6V590.2" stroke="#229c9f" stroke-width="1" fill="none"/>
<path d="M254.3 585.5H261.9M258.1 581.7V589.3" stroke="#229c9f" stroke-width="1" fill="none"/>
<path d="M264.9 584.5H272.5M268.7 580.7V588.3" stroke="#229c9f" stroke-width="1" fill="none"/>
<path d="M275.6 583.6H283.2M279.4 579.8V587.4" stroke="#229c9f" stroke-width="1" fill="none"/>
<path d="M286.2 582.2H293.8M290.0 578.4V586.0" stroke="#229c9f" stroke-width="1" fill="none"/>
<path d="M296.9 580.7H304.5M300.7 576.9V584.5" stroke="#229c9f" stroke-width="1" fill="none"/>
<path d="M307.6 579.0H315.2M311.4 575.2V582.8" stroke="#229c9f" stroke-width="1" fill="none"/>
<path d="M318.2 576.7H325.8M322.0 572.9V580.5" stroke="#229c9f" stroke-width="1" fill="none"/>
<path d="M328.9 574.6H336.5M332.7 570.8V578.4" stroke="#229c9f" stroke-width="1" fill="none"/>
<path d="M339.5 571.9H347.1M343.3 568.1V575.7" stroke="#229c9f" stroke-width="1" fill="none"/>
<path d="M350.2 569.5H357.8M354.0 565.7V573.3" stroke="#229c9f" stroke-width="1" fill="none"/>
<path d="M360.9 566.5H368.5M364.7 562.7V570.3" stroke="#229c9f" stroke-width="1" fill="none"/>
<path d="M371.5 562.8H379.1M375.3 559.0V566.6" stroke="#229c9f" stroke-width="1" fill="none"/>
<path d="M382.2 558.4H389.8M386.0 554.6V562.2" stroke="#229c9f" stroke-width="1" fill="none"/>
<path d="M392.8 553.6H400.4M396.6 549.8V557.4" stroke="#229c9f" stroke-width="1" fill="none"/>
<path d="M403.5 548.1H411.1M407.3 544.3V551.9" stroke="#229c9f" stroke-width="1" fill="none"/>
<path d="M414.2 541.4H421.8M418.0 537.6V545.2" stroke="#229c9f" stroke-width="1" fill="none"/>
<path d="M424.8 533.3H432.4M428.6 529.5V537.1" stroke="#229c9f" stroke-width="1" fill="none"/>
<path d="M435.5 523.0H443.1M439.3 519.2V526.8" stroke="#229c9f" stroke-width="1" fill="none"/>
<path d="M446.1 509.6H453.7M449.9 505.8V513.4" stroke="#229c9f" stroke-width="1" fill="none"/>
<polyline fill="none" stroke="#229c9f" stroke-width="1.6" points="460.6,568.1 471.3,551.5"/>
<path d="M456.8 568.1H464.4M460.6 564.3V571.9" stroke="#229c9f" stroke-width="1" fill="none"/>
<path d="M467.5 551.5H475.1M471.3 547.7V555.3" stroke="#229c9f" stroke-width="1" fill="none"/>
<polyline fill="none" stroke="#229c9f" stroke-width="1.6" points="481.9,620.9 492.6,601.6"/>
<path d="M478.1 620.9H485.7M481.9 617.1V624.7" stroke="#229c9f" stroke-width="1" fill="none"/>
<path d="M488.8 601.6H496.4M492.6 597.8V605.4" stroke="#229c9f" stroke-width="1" fill="none"/>
<path d="M499.4 557.5H507.0M503.2 553.7V561.3" stroke="#229c9f" stroke-width="1" fill="none"/>
<path d="M510.1 533.0H517.7M513.9 529.2V536.8" stroke="#229c9f" stroke-width="1" fill="none"/>
<polyline fill="none" stroke="#ad6b24" stroke-width="1.6" points="87.5,595.7 98.2,595.5 108.8,595.4 119.5,595.3 130.1,595.1 140.8,595.0 151.5,594.8 162.1,594.7 172.8,594.6 183.4,594.4 194.1,590.6 204.8,589.6 215.4,588.6 226.1,587.6 236.7,586.6 247.4,585.6 258.1,584.6 268.7,583.7 279.4,582.7 290.0,581.2 300.7,579.8 311.4,578.0 322.0,575.7 332.7,573.5 343.3,570.9 354.0,568.4 364.7,565.4 375.3,561.8 386.0,557.3 396.6,552.5 407.3,546.9 418.0,540.3 428.6,532.1 439.3,521.7"/>
<path d="M83.6 591.8L91.4 599.6M83.6 599.6L91.4 591.8" stroke="#ad6b24" stroke-width="1" fill="none"/>
<path d="M94.3 591.6L102.1 599.4M94.3 599.4L102.1 591.6" stroke="#ad6b24" stroke-width="1" fill="none"/>
<path d="M104.9 591.5L112.7 599.3M104.9 599.3L112.7 591.5" stroke="#ad6b24" stroke-width="1" fill="none"/>
<path d="M115.6 591.4L123.4 599.2M115.6 599.2L123.4 591.4" stroke="#ad6b24" stroke-width="1" fill="none"/>
<path d="M126.2 591.2L134.0 599.0M126.2 599.0L134.0 591.2" stroke="#ad6b24" stroke-width="1" fill="none"/>
<path d="M136.9 591.1L144.7 598.9M136.9 598.9L144.7 591.1" stroke="#ad6b24" stroke-width="1" fill="none"/>
<path d="M147.6 590.9L155.4 598.7M147.6 598.7L155.4 590.9" stroke="#ad6b24" stroke-width="1" fill="none"/>
<path d="M158.2 590.8L166.0 598.6M158.2 598.6L166.0 590.8" stroke="#ad6b24" stroke-width="1" fill="none"/>
<path d="M168.9 590.7L176.7 598.5M168.9 598.5L176.7 590.7" stroke="#ad6b24" stroke-width="1" fill="none"/>
<path d="M179.5 590.5L187.3 598.3M179.5 598.3L187.3 590.5" stroke="#ad6b24" stroke-width="1" fill="none"/>
<path d="M190.2 586.7L198.0 594.5M190.2 594.5L198.0 586.7" stroke="#ad6b24" stroke-width="1" fill="none"/>
<path d="M200.9 585.7L208.7 593.5M200.9 593.5L208.7 585.7" stroke="#ad6b24" stroke-width="1" fill="none"/>
<path d="M211.5 584.7L219.3 592.5M211.5 592.5L219.3 584.7" stroke="#ad6b24" stroke-width="1" fill="none"/>
<path d="M222.2 583.7L230.0 591.5M222.2 591.5L230.0 583.7" stroke="#ad6b24" stroke-width="1" fill="none"/>
<path d="M232.8 582.7L240.6 590.5M232.8 590.5L240.6 582.7" stroke="#ad6b24" stroke-width="1" fill="none"/>
<path d="M243.5 581.7L251.3 589.5M243.5 589.5L251.3 581.7" stroke="#ad6b24" stroke-width="1" fill="none"/>
<path d="M254.2 580.7L262.0 588.5M254.2 588.5L262.0 580.7" stroke="#ad6b24" stroke-width="1" fill="none"/>
<path d="M264.8 579.8L272.6 587.6M264.8 587.6L272.6 579.8" stroke="#ad6b24" stroke-width="1" fill="none"/>
<path d="M275.5 578.8L283.3 586.6M275.5 586.6L283.3 578.8" stroke="#ad6b24" stroke-width="1" fill="none"/>
<path d="M286.1 577.3L293.9 585.1M286.1 585.1L293.9 577.3" stroke="#ad6b24" stroke-width="1" fill="none"/>
<path d="M296.8 575.9L304.6 583.7M296.8 583.7L304.6 575.9" stroke="#ad6b24" stroke-width="1" fill="none"/>
<path d="M307.5 574.1L315.3 581.9M307.5 581.9L315.3 574.1" stroke="#ad6b24" stroke-width="1" fill="none"/>
<path d="M318.1 571.8L325.9 579.6M318.1 579.6L325.9 571.8" stroke="#ad6b24" stroke-width="1" fill="none"/>
<path d="M328.8 569.6L336.6 577.4M328.8 577.4L336.6 569.6" stroke="#ad6b24" stroke-width="1" fill="none"/>
<path d="M339.4 567.0L347.2 574.8M339.4 574.8L347.2 567.0" stroke="#ad6b24" stroke-width="1" fill="none"/>
<path d="M350.1 564.5L357.9 572.3M350.1 572.3L357.9 564.5" stroke="#ad6b24" stroke-width="1" fill="none"/>
<path d="M360.8 561.5L368.6 569.3M360.8 569.3L368.6 561.5" stroke="#ad6b24" stroke-width="1" fill="none"/>
<path d="M371.4 557.9L379.2 565.7M371.4 565.7L379.2 557.9" stroke="#ad6b24" stroke-width="1" fill="none"/>
<path d="M382.1 553.4L389.9 561.2M382.1 561.2L389.9 553.4" stroke="#ad6b24" stroke-width="1" fill="none"/>
<path d="M392.7 548.6L400.5 556.4M392.7 556.4L400.5 548.6" stroke="#ad6b24" stroke-width="1" fill="none"/>
<path d="M403.4 543.0L411.2 550.8M403.4 550.8L411.2 543.0" stroke="#ad6b24" stroke-width="1" fill="none"/>
<path d="M414.1 536.4L421.9 544.2M414.1 544.2L421.9 536.4" stroke="#ad6b24" stroke-width="1" fill="none"/>
<path d="M424.7 528.2L432.5 536.0M424.7 536.0L432.5 528.2" stroke="#ad6b24" stroke-width="1" fill="none"/>
<path d="M435.4 517.8L443.2 525.6M435.4 525.6L443.2 517.8" stroke="#ad6b24" stroke-width="1" fill="none"/>
<polyline fill="none" stroke="#ad6b24" stroke-width="1.6" points="449.9,580.6 460.6,566.6 471.3,549.9"/>
<path d="M446.0 576.7L453.8 584.5M446.0 584.5L453.8 576.7" stroke="#ad6b24" stroke-width="1" fill="none"/>
<path d="M456.7 562.7L464.5 570.5M456.7 570.5L464.5 562.7" stroke="#ad6b24" stroke-width="1" fill="none"/>
<path d="M467.4 546.0L475.2 553.8M467.4 553.8L475.2 546.0" stroke="#ad6b24" stroke-width="1" fill="none"/>
<polyline fill="none" stroke="#ad6b24" stroke-width="1.6" points="481.9,617.7 492.6,598.2"/>
<path d="M478.0 613.8L485.8 621.6M478.0 621.6L485.8 613.8" stroke="#ad6b24" stroke-width="1" fill="none"/>
<path d="M488.7 594.3L496.5 602.1M488.7 602.1L496.5 594.3" stroke="#ad6b24" stroke-width="1" fill="none"/>
<path d="M499.3 568.0L507.1 575.8M499.3 575.8L507.1 568.0" stroke="#ad6b24" stroke-width="1" fill="none"/>
<path d="M510.0 552.9L517.8 560.7M510.0 560.7L517.8 552.9" stroke="#ad6b24" stroke-width="1" fill="none"/>
</g>
<path d="M86.10 10.60H534.05M86.10 655.10H534.05" stroke="#000" stroke-width="2.1" fill="none"/>
<path d="M86.10 225.50H534.05M86.10 440.70H534.05" stroke="#000" stroke-width="2.5" fill="none"/>
<path d="M87.20 9.60V656.10" stroke="#000" stroke-width="2.5" fill="none"/>
<path d="M533.00 9.60V656.10" stroke="#000" stroke-width="2.1" fill="none"/>
<path d="M87.5 10.6V20.6M119.6 10.6V15.6M138.4 10.6V15.6M151.7 10.6V15.6M162.0 10.6V15.6M170.5 10.6V15.6M177.6 10.6V15.6M183.8 10.6V15.6M189.2 10.6V15.6M194.1 10.6V20.6M226.2 10.6V15.6M245.0 10.6V15.6M258.3 10.6V15.6M268.6 10.6V15.6M277.1 10.6V15.6M284.2 10.6V15.6M290.4 10.6V15.6M295.8 10.6V15.6M300.7 10.6V20.6M332.8 10.6V15.6M351.6 10.6V15.6M364.9 10.6V15.6M375.2 10.6V15.6M383.7 10.6V15.6M390.8 10.6V15.6M397.0 10.6V15.6M402.4 10.6V15.6M407.3 10.6V20.6M439.4 10.6V15.6M458.2 10.6V15.6M471.5 10.6V15.6M481.8 10.6V15.6M490.3 10.6V15.6M497.4 10.6V15.6M503.6 10.6V15.6M509.0 10.6V15.6M513.9 10.6V20.6M87.5 215.5V235.5M119.6 220.5V230.5M138.4 220.5V230.5M151.7 220.5V230.5M162.0 220.5V230.5M170.5 220.5V230.5M177.6 220.5V230.5M183.8 220.5V230.5M189.2 220.5V230.5M194.1 215.5V235.5M226.2 220.5V230.5M245.0 220.5V230.5M258.3 220.5V230.5M268.6 220.5V230.5M277.1 220.5V230.5M284.2 220.5V230.5M290.4 220.5V230.5M295.8 220.5V230.5M300.7 215.5V235.5M332.8 220.5V230.5M351.6 220.5V230.5M364.9 220.5V230.5M375.2 220.5V230.5M383.7 220.5V230.5M390.8 220.5V230.5M397.0 220.5V230.5M402.4 220.5V230.5M407.3 215.5V235.5M439.4 220.5V230.5M458.2 220.5V230.5M471.5 220.5V230.5M481.8 220.5V230.5M490.3 220.5V230.5M497.4 220.5V230.5M503.6 220.5V230.5M509.0 220.5V230.5M513.9 215.5V235.5M87.5 430.7V450.7M119.6 435.7V445.7M138.4 435.7V445.7M151.7 435.7V445.7M162.0 435.7V445.7M170.5 435.7V445.7M177.6 435.7V445.7M183.8 435.7V445.7M189.2 435.7V445.7M194.1 430.7V450.7M226.2 435.7V445.7M245.0 435.7V445.7M258.3 435.7V445.7M268.6 435.7V445.7M277.1 435.7V445.7M284.2 435.7V445.7M290.4 435.7V445.7M295.8 435.7V445.7M300.7 430.7V450.7M332.8 435.7V445.7M351.6 435.7V445.7M364.9 435.7V445.7M375.2 435.7V445.7M383.7 435.7V445.7M390.8 435.7V445.7M397.0 435.7V445.7M402.4 435.7V445.7M407.3 430.7V450.7M439.4 435.7V445.7M458.2 435.7V445.7M471.5 435.7V445.7M481.8 435.7V445.7M490.3 435.7V445.7M497.4 435.7V445.7M503.6 435.7V445.7M509.0 435.7V445.7M513.9 430.7V450.7M87.5 645.1V655.1M119.6 650.1V655.1M138.4 650.1V655.1M151.7 650.1V655.1M162.0 650.1V655.1M170.5 650.1V655.1M177.6 650.1V655.1M183.8 650.1V655.1M189.2 650.1V655.1M194.1 645.1V655.1M226.2 650.1V655.1M245.0 650.1V655.1M258.3 650.1V655.1M268.6 650.1V655.1M277.1 650.1V655.1M284.2 650.1V655.1M290.4 650.1V655.1M295.8 650.1V655.1M300.7 645.1V655.1M332.8 650.1V655.1M351.6 650.1V655.1M364.9 650.1V655.1M375.2 650.1V655.1M383.7 650.1V655.1M390.8 650.1V655.1M397.0 650.1V655.1M402.4 650.1V655.1M407.3 645.1V655.1M439.4 650.1V655.1M458.2 650.1V655.1M471.5 650.1V655.1M481.8 650.1V655.1M490.3 650.1V655.1M497.4 650.1V655.1M503.6 650.1V655.1M509.0 650.1V655.1M513.9 645.1V655.1M87.5 195.7H93.3M533.0 195.7H527.2M87.5 165.9H98.5M533.0 165.9H522.0M87.5 136.1H93.3M533.0 136.1H527.2M87.5 106.3H93.3M533.0 106.3H527.2M87.5 76.5H93.3M533.0 76.5H527.2M87.5 46.7H93.3M533.0 46.7H527.2M87.5 16.9H98.5M533.0 16.9H522.0M87.5 416.8H93.3M533.0 416.8H527.2M87.5 392.8H98.5M533.0 392.8H522.0M87.5 368.9H93.3M533.0 368.9H527.2M87.5 345.0H93.3M533.0 345.0H527.2M87.5 321.0H93.3M533.0 321.0H527.2M87.5 297.1H93.3M533.0 297.1H527.2M87.5 273.2H98.5M533.0 273.2H522.0M87.5 249.3H93.3M533.0 249.3H527.2M87.5 628.4H93.3M533.0 628.4H527.2M87.5 601.7H98.5M533.0 601.7H522.0M87.5 574.9H93.3M533.0 574.9H527.2M87.5 548.2H93.3M533.0 548.2H527.2M87.5 521.5H93.3M533.0 521.5H527.2M87.5 494.8H93.3M533.0 494.8H527.2M87.5 468.1H98.5M533.0 468.1H522.0" stroke="#000" stroke-width="2.1" fill="none"/>
<g font-family="Liberation Sans, Arial, Helvetica, sans-serif" font-size="24" text-anchor="end" fill="#000">
<text x="75.9" y="173.3">5</text>
<text x="75.9" y="24.3">10</text>
<text x="75.9" y="400.2">5</text>
<text x="75.9" y="280.6">10</text>
<text x="75.9" y="609.1">5</text>
<text x="75.9" y="475.5">10</text>
</g>
<g font-family="Liberation Sans, Arial, Helvetica, sans-serif" fill="#000"><text x="68.70" y="689.40" font-size="24">10</text><text x="95.50" y="680.00" font-size="14.4">-5</text></g>
<g font-family="Liberation Sans, Arial, Helvetica, sans-serif" fill="#000"><text x="175.30" y="689.40" font-size="24">10</text><text x="202.10" y="680.00" font-size="14.4">-4</text></g>
<g font-family="Liberation Sans, Arial, Helvetica, sans-serif" fill="#000"><text x="281.90" y="689.40" font-size="24">10</text><text x="308.70" y="680.00" font-size="14.4">-3</text></g>
<g font-family="Liberation Sans, Arial, Helvetica, sans-serif" fill="#000"><text x="388.50" y="689.40" font-size="24">10</text><text x="415.30" y="680.00" font-size="14.4">-2</text></g>
<g font-family="Liberation Sans, Arial, Helvetica, sans-serif" fill="#000"><text x="495.10" y="689.40" font-size="24">10</text><text x="521.90" y="680.00" font-size="14.4">-1</text></g>
<g font-family="Liberation Sans, Arial, Helvetica, sans-serif" fill="#000"><text x="264.80" y="723.30" font-size="28.5" font-style="italic">n</text><text x="278.05" y="730.70" font-size="20">b</text><text x="288.58" y="723.30" font-size="28.5">(fm</text><text x="330.43" y="713.10" font-size="19">-3</text><text x="346.37" y="723.30" font-size="28.5">)</text></g>
<g font-family="Liberation Sans, Arial, Helvetica, sans-serif" fill="#000" transform="translate(27.6,361.6) rotate(-90)"><text x="0.00" y="0.00" font-size="28.5" font-style="italic">R</text><text x="18.98" y="8.20" font-size="20">d</text><text x="36.73" y="0.00" font-size="28.5">(fm)</text></g>
<path d="M95.5 25.1H147.7" stroke="#000000" stroke-width="1.6"/>
<rect x="118.1" y="21.7" width="6.8" height="6.8" fill="#000000"/>
<text font-family="Liberation Sans, Arial, Helvetica, sans-serif" font-size="23" x="160.0" y="33.7" fill="#000">NL3</text>
<path d="M95.5 53.1H147.7" stroke="#ff0000" stroke-width="1.6"/>
<circle cx="121.5" cy="53.1" r="3.7" fill="#ff0000"/>
<text font-family="Liberation Sans, Arial, Helvetica, sans-serif" font-size="23" x="160.0" y="61.7" fill="#000">PK1</text>
<path d="M95.5 81.4H147.7" stroke="#0000ff" stroke-width="1.6"/>
<polygon points="121.5,76.5 125.8,83.9 117.2,83.9" fill="#0000ff"/>
<text font-family="Liberation Sans, Arial, Helvetica, sans-serif" font-size="23" x="160.0" y="90.0" fill="#000">PK1r</text>
<path d="M95.5 109.8H147.7" stroke="#ff00ff" stroke-width="1.6"/>
<polygon points="121.5,114.7 125.8,107.3 117.2,107.3" fill="#ff00ff"/>
<text font-family="Liberation Sans, Arial, Helvetica, sans-serif" font-size="23" x="160.0" y="118.4" fill="#000">GM1</text>
<path d="M95.5 246.6H147.7" stroke="#008000" stroke-width="1.6"/>
<polygon points="121.5,241.9 126.0,246.6 121.5,251.3 117.0,246.6" fill="#008000"/>
<text font-family="Liberation Sans, Arial, Helvetica, sans-serif" font-size="23" x="160.0" y="255.0" fill="#000">MTVTC</text>
<path d="M95.5 274.6H147.7" stroke="#000080" stroke-width="1.6"/>
<polygon points="116.6,274.6 124.0,270.3 124.0,278.9" fill="#000080"/>
<text font-family="Liberation Sans, Arial, Helvetica, sans-serif" font-size="23" x="160.0" y="283.0" fill="#000">PKDD</text>
<path d="M95.5 303.0H147.7" stroke="#8000ff" stroke-width="1.6"/>
<polygon points="126.4,303.0 119.0,298.7 119.0,307.3" fill="#8000ff"/>
<text font-family="Liberation Sans, Arial, Helvetica, sans-serif" font-size="23" x="160.0" y="311.4" fill="#000">DD-MEX2</text>
<path d="M95.5 331.0H147.7" stroke="#800080" stroke-width="1.6"/>
<polygon points="121.5,335.1 117.9,333.1 117.9,328.9 121.5,326.9 125.1,328.9 125.1,333.1" fill="#800080"/>
<text font-family="Liberation Sans, Arial, Helvetica, sans-serif" font-size="23" x="160.0" y="339.4" fill="#000">TW99</text>
<path d="M95.5 458.8H147.7" stroke="#800000" stroke-width="1.6"/>
<polygon points="121.5,454.2 122.6,457.3 125.9,457.4 123.3,459.4 124.2,462.5 121.5,460.7 118.8,462.5 119.7,459.4 117.1,457.4 120.4,457.3" fill="#800000"/>
<text font-family="Liberation Sans, Arial, Helvetica, sans-serif" font-size="23" x="154.0" y="466.9" fill="#000">DD-MEY</text>
<path d="M95.5 487.2H147.7" stroke="#808000" stroke-width="1.6"/>
<polygon points="121.5,482.8 125.7,485.8 124.1,490.8 118.9,490.8 117.3,485.8" fill="#808000"/>
<text font-family="Liberation Sans, Arial, Helvetica, sans-serif" font-size="23" x="154.0" y="495.3" fill="#000">DD-MEX1</text>
<path d="M95.5 515.2H147.7" stroke="#2b64ae" stroke-width="1.6"/>
<circle cx="121.5" cy="515.2" r="3.7" fill="#2b64ae"/><circle cx="120.5" cy="514.0" r="1.3" fill="#9cc3ea"/>
<text font-family="Liberation Sans, Arial, Helvetica, sans-serif" font-size="23" x="154.0" y="523.3" fill="#000">DD-ME2</text>
<path d="M95.5 543.5H147.7" stroke="#229c9f" stroke-width="1.6"/>
<path d="M117.7 543.5H125.3M121.5 539.7V547.3" stroke="#229c9f" stroke-width="1" fill="none"/>
<text font-family="Liberation Sans, Arial, Helvetica, sans-serif" font-size="23" x="154.0" y="551.6" fill="#000">DD-MEX</text>
<path d="M95.5 571.3H147.7" stroke="#ad6b24" stroke-width="1.6"/>
<path d="M117.6 567.4L125.4 575.2M117.6 575.2L125.4 567.4" stroke="#ad6b24" stroke-width="1" fill="none"/>
<text font-family="Liberation Sans, Arial, Helvetica, sans-serif" font-size="23" x="154.0" y="579.4" fill="#000">DD-LZ1</text>
<rect x="286.2" y="21.5" width="92.5" height="43.8" fill="#fff" stroke="#222" stroke-width="1"/>
<g font-family="Liberation Sans, Arial, Helvetica, sans-serif" fill="#000"><text x="292.00" y="49.90" font-size="28" font-style="italic">Y</text><text x="308.28" y="56.90" font-size="20">p</text><text x="319.00" y="49.90" font-size="28">=0.1</text></g>
<rect x="286.2" y="237.4" width="92.5" height="43.8" fill="#fff" stroke="#222" stroke-width="1"/>
<g font-family="Liberation Sans, Arial, Helvetica, sans-serif" fill="#000"><text x="292.00" y="265.80" font-size="28" font-style="italic">Y</text><text x="308.28" y="272.80" font-size="20">p</text><text x="319.00" y="265.80" font-size="28">=0.3</text></g>
<rect x="286.2" y="450.4" width="92.5" height="43.8" fill="#fff" stroke="#222" stroke-width="1"/>
<g font-family="Liberation Sans, Arial, Helvetica, sans-serif" fill="#000"><text x="292.00" y="478.80" font-size="28" font-style="italic">Y</text><text x="308.28" y="485.80" font-size="20">p</text><text x="319.00" y="478.80" font-size="28">=0.5</text></g>
</svg>
</body></html>
